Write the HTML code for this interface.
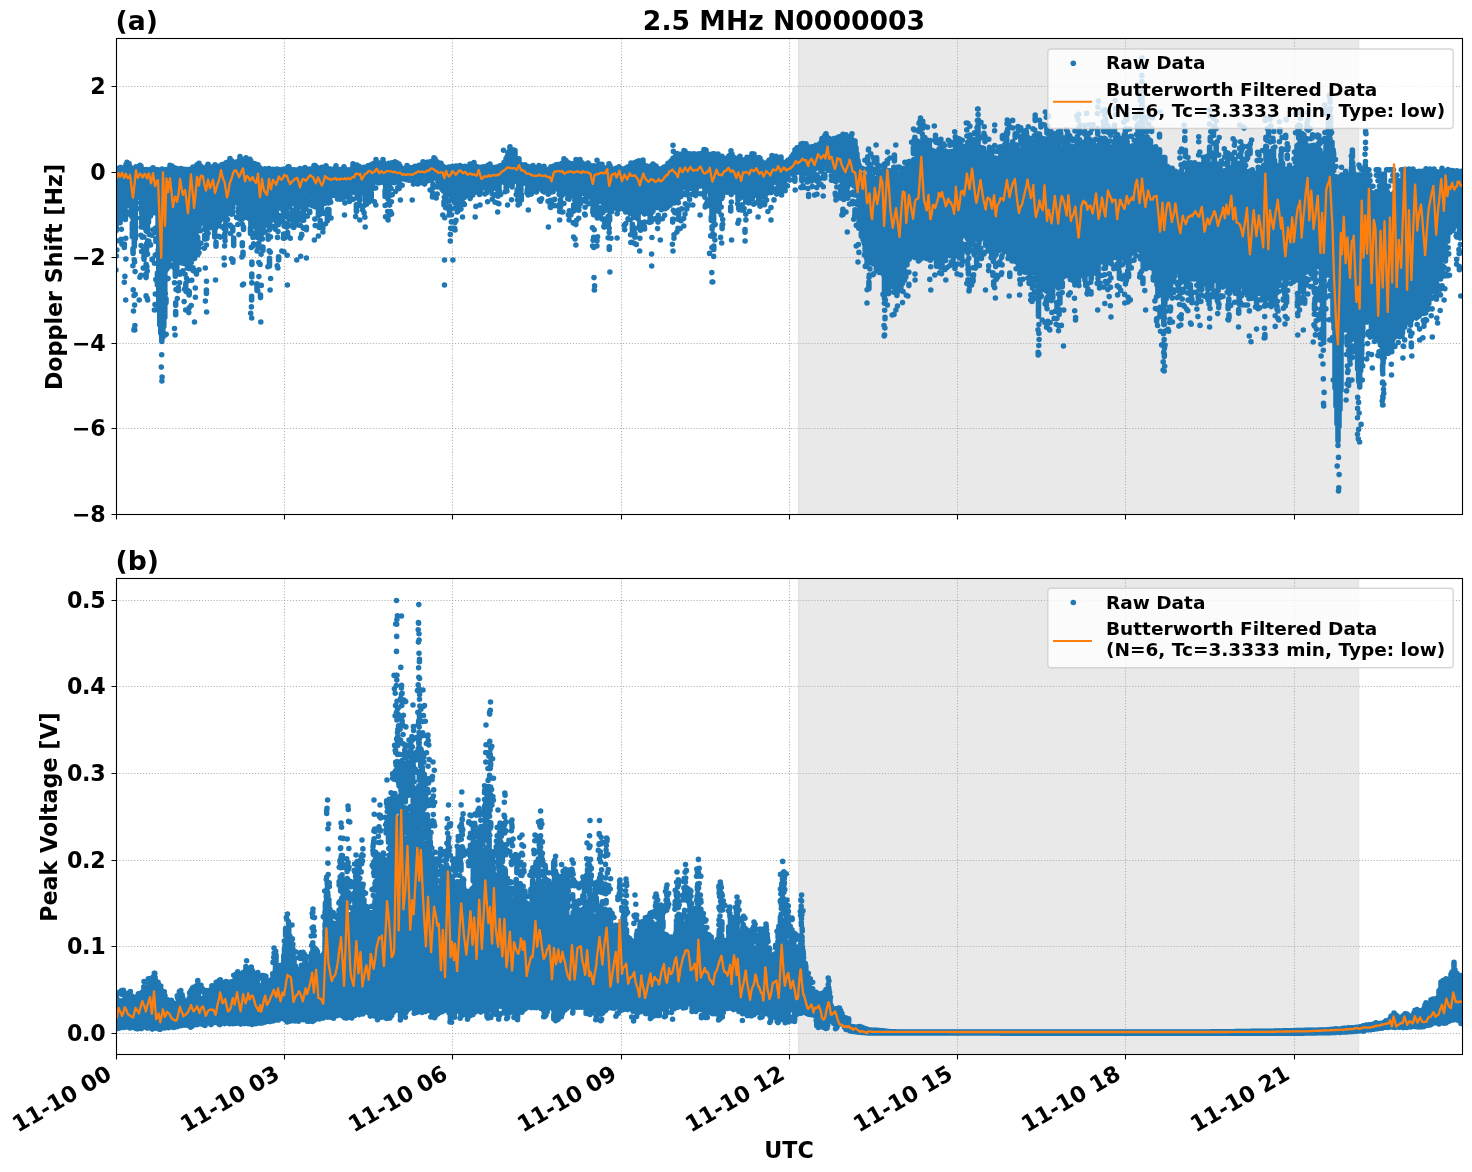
<!DOCTYPE html>
<html lang="en">
<head>
<meta charset="utf-8">
<title>2.5 MHz N0000003</title>
<style>
html,body{margin:0;padding:0;background:#fff;}
body{width:1472px;height:1172px;overflow:hidden;}
svg{display:block;}
text{font-family:"DejaVu Sans","Liberation Sans",sans-serif;font-weight:bold;fill:#000;}
.tt{font-size:26.67px;}
.tk{font-size:22.22px;}
.ty{letter-spacing:-0.3px;}
.al{font-size:22.22px;}
.lg{font-size:18.5px;}
</style>
</head>
<body>
<svg width="1472" height="1172" viewBox="0 0 1472 1172">
<rect width="1472" height="1172" fill="#fff"/>
<clipPath id="c1"><rect x="116.5" y="38.5" width="1346.0" height="476.0"/></clipPath>
<g clip-path="url(#c1)">
<rect x="798.55" y="35.5" width="560.05" height="482.0" fill="#d3d3d3" fill-opacity=".5" stroke="#d3d3d3" stroke-opacity=".5" stroke-width="1.39"/>
<path d="M116.5 514.5V38.5M284.5 514.5V38.5M452.5 514.5V38.5M621.5 514.5V38.5M789.5 514.5V38.5M957.5 514.5V38.5M1125.5 514.5V38.5M1294.5 514.5V38.5M116.5 86.5H1462.5M116.5 172.5H1462.5M116.5 257.5H1462.5M116.5 343.5H1462.5M116.5 428.5H1462.5M116.5 514.5H1462.5" fill="none" stroke="#b0b0b0" stroke-width="1.1" stroke-dasharray="1.111 1.833"/>
<path d="M117 168.7V198.9M118 170.2V198.2M119 168.9V199.8M120 167.5V202.5M121 167.6V200.5M122 168.6V200.9M123 168.2V199.1M124 169.3V202.3M125 169V201.1M126 164.6V201.5M127 164.2V198.3M128 165.4V199.1M129 163.6V194.5M130 166.6V196.8M131 168.6V194.9M132 169V193.4M133 169.6V196.3M134 168.5V190.2M135 169.7V191M136 166.7V190.5M137 170.4V191M138 169.6V191.2M139 170.4V186.7M140 165.4V187.8M141 166.4V187M142 170.5V188.6M143 169.6V188.4M144 170.4V185.9M145 171.5V185.7M146 169.6V184.9M147 170.8V187M148 170.8V188.9M149 169.7V187M150 169.5V185.4M151 169.3V186.9M152 170.5V188.8M153 167.8V189.1M154 169.7V196M155 169.3V195.2M156 170.1V196.3M157 170.1V201.9M158 169.8V202.8M159 170.6V208.6M160 169.8V210.6M161 169.7V215.8M162 169.1V218.1M163 169.8V221.3M164 170.5V226.4M165 169.7V230.7M166 169.6V235.2M167 169.8V237.7M168 169.6V240.9M169 169.6V244.6M170 165.3V246.3M171 169.5V245.7M172 166.1V246.5M173 169.1V248.5M174 167.9V249.1M175 168.9V249.6M176 168.2V248.4M177 169V248.1M178 169.5V251.3M179 169.1V251.3M180 169.5V250.7M181 168.6V251.8M182 169.3V253M183 170.3V251.6M184 169.4V252.7M185 170.6V250.8M186 169.5V252.2M187 169.9V251.5M188 169.6V249.6M189 170.1V251.4M190 170.2V245.6M191 169V248.8M192 169.3V249.1M193 167.1V247.5M194 168.8V243.7M195 168.3V245.4M196 167.9V234.8M197 164.7V228.7M198 165.1V224.7M199 163.4V215.3M200 166V217M201 166.3V213.9M202 167.7V212.6M203 168.1V214.9M204 169V217.7M205 168.1V217M206 167.7V217M207 166.4V214.9M208 164.2V214.8M209 165.9V214.4M210 166.8V219.3M211 167.2V215.2M212 167.9V217.9M213 168.5V214.8M214 169.1V217M215 164.8V212.7M216 168.8V213M217 168V213.7M218 166.4V211.8M219 167.1V211.5M220 167.3V211.3M221 166V210.2M222 164.5V212.7M223 164.9V211.5M224 164.9V207.1M225 163.9V211.2M226 162.9V208M227 163.7V207.4M228 163.1V206.6M229 161.3V207.6M230 158.5V205.4M231 162.3V201.8M232 161V200.9M233 164.3V197M234 164.6V200M235 164.2V194M236 162.9V191.8M237 161.9V195.8M238 161.5V200.8M239 161.4V205.4M240 156.5V207.5M241 159.6V208.2M242 160V208.1M243 160.1V210.9M244 160.7V209.6M245 160V207.1M246 157.9V212.3M247 161.1V210.9M248 161.2V213.8M249 163.3V210.4M250 159.3V211M251 161.2V212M252 163.1V210.7M253 165V212.8M254 165.2V215.8M255 163.8V215.6M256 167.7V211.5M257 167.4V217.6M258 164.9V216.7M259 167.5V218M260 167.8V217.3M261 170.5V217.9M262 170.3V218.1M263 169.9V218.4M264 169.8V217.2M265 168.9V219.8M266 169V218M267 169.9V217.8M268 170.8V217.2M269 168.5V215.7M270 170.2V215.6M271 170.1V213.2M272 170.4V215.1M273 169.3V214.6M274 169.5V213.3M275 169.8V209.3M276 169.2V212.2M277 169V208.2M278 169.2V206.7M279 169.7V204.5M280 170V202.3M281 169.8V200.8M282 169.8V199.3M283 169.4V199.6M284 169.3V203.1M285 170.5V201.3M286 169.7V202M287 169.7V197.6M288 166.7V196M289 166.9V197M290 170.5V195.4M291 170V201.2M292 169.7V201.7M293 170V200.3M294 169.9V201M295 170.6V201.2M296 170V200.7M297 170.2V202.3M298 169.8V199.9M299 170.6V201M300 168.5V201.6M301 169.9V199.5M302 170.1V200.8M303 169V203.1M304 170.9V203.2M305 167.5V199.2M306 169.5V204.5M307 169V203.9M308 170.1V204.7M309 169.6V199.8M310 169V197.2M311 169.4V190.7M312 169.6V193.5M313 169.9V193.4M314 165.5V195.4M315 165.5V199.1M316 168.5V201M317 167.4V199.8M318 168.4V200.3M319 169.4V203.3M320 169.3V204.1M321 169.1V204.1M322 167.4V200.1M323 170.3V193.5M324 169.6V194.9M325 170.1V192.2M326 165.8V191.1M327 169.3V192.1M328 170.7V191.6M329 169.1V190.6M330 169.1V193M331 169.6V190.9M332 169.5V190.6M333 169.6V190.2M334 169.6V191.8M335 170.6V188.3M336 165.9V191.8M337 170.3V189.6M338 169.2V192.2M339 169.6V192.2M340 170.8V190.8M341 169.5V189.4M342 171V190.5M343 169.7V190.6M344 166.7V187.9M345 169.8V189.6M346 170.5V189M347 169.9V192.1M348 170.3V192.7M349 171.5V189M350 169.7V188.9M351 170.6V187.3M352 168.5V189.2M353 163.9V189.8M354 169V191M355 168.7V186.2M356 170.1V189.3M357 165.1V187.4M358 169.9V186.3M359 166.4V186.6M360 170.8V185.7M361 169.4V187.4M362 168.9V186.5M363 167.7V188.1M364 167.3V185.3M365 167.6V183.2M366 167.8V184.3M367 167.5V186.1M368 165.9V183.2M369 166.4V181.3M370 165.9V180.2M371 164.9V177.3M372 165.6V180.6M373 163.7V179.7M374 165V178.3M375 166.1V179M376 159.5V178.3M377 164.2V178.4M378 162.8V178.4M379 163.2V178.9M380 164.1V178.7M381 163.1V177.7M382 163.7V177.4M383 159.5V181.9M384 163.5V177.2M385 163.8V178.6M386 164V180.6M387 164.4V180.3M388 164.2V177.7M389 163.3V181.8M390 164.5V181.5M391 164.4V178.4M392 162.7V177M393 164.1V179.8M394 164.2V178.6M395 161.8V178.4M396 164V177.6M397 162.9V177.9M398 164.4V179.3M399 164.1V180.6M400 166.1V176.4M401 168.3V175M402 168.3V179M403 169.2V175.4M404 169.3V177.9M405 168.9V177M406 168.7V178.7M407 165.5V178.1M408 166.7V176.3M409 168.6V176.5M410 169.6V177.2M411 167.8V177.8M412 167.9V175.7M413 168.3V174.3M414 168.4V176.7M415 166.3V176.5M416 167.4V176.3M417 168.2V175M418 167.9V177.3M419 165.3V173.8M420 167.1V175.7M421 167.4V178.2M422 166.9V174.4M423 161.7V176.6M424 165.6V176.5M425 164.9V176.3M426 165.5V173M427 162.3V176.9M428 162.8V175.4M429 162.1V175.8M430 162.4V175.4M431 161.7V174.9M432 161.3V176.5M433 161.5V176.7M434 157.8V171.8M435 158.8V173.6M436 162.1V174.6M437 161.8V171.7M438 163.2V180.3M439 163.5V180.2M440 163.3V185.4M441 163.4V185.7M442 166.3V185.7M443 166.4V185.3M444 167.2V187M445 167.8V188.4M446 167.7V189.9M447 168.1V188.9M448 167.5V189.1M449 167V189.8M450 167.7V192.6M451 167.2V191.2M452 166.6V189.8M453 166.5V189.1M454 167.8V190.5M455 167.5V189.8M456 166V190.7M457 166.8V193.5M458 166.6V192.6M459 167.3V192M460 165.6V192.4M461 167.4V194.5M462 167.3V190.3M463 168.2V190.5M464 166.6V187.4M465 166.3V185.8M466 166.6V185.7M467 166.9V185.1M468 167.3V186.4M469 167.7V182.3M470 164.1V186M471 168V186.6M472 166.6V184.1M473 168.2V184.1M474 162.5V188.4M475 167.8V184.2M476 166.5V185M477 167.3V184.4M478 167.1V184.6M479 167.4V184.6M480 167.7V182.4M481 167.2V189.2M482 167.4V184.6M483 167.7V186.3M484 166.9V185.6M485 167.4V187.8M486 167V186.8M487 168.1V187.5M488 165.3V187.6M489 168.7V186.8M490 164.1V185.3M491 168.1V186.3M492 169.2V182.3M493 168.5V185.7M494 167.5V185M495 167.6V183.9M496 167.2V181.1M497 167V184.6M498 167.7V181.2M499 167V182.7M500 165.8V178.6M501 166.1V180.7M502 165.4V179.6M503 165.1V178.9M504 162.6V178.1M505 162.3V180.8M506 158.8V177.5M507 157.1V177.4M508 152.7V179.4M509 151.9V173.5M510 146.9V177.2M511 150.1V174.4M512 149.9V174M513 151.1V174.3M514 150V172.2M515 150.6V173.8M516 158.2V175.5M517 160.6V176.8M518 161.9V179.2M519 158.8V180.3M520 164.3V178.6M521 164.5V179.8M522 164.9V179.9M523 165.8V179M524 166.4V179.8M525 164.8V178.6M526 166.4V180.4M527 166V179.3M528 167.4V179.8M529 167.8V180.2M530 167V180.1M531 167.5V181.8M532 167.3V183.8M533 165.6V185.7M534 167.1V185M535 167.5V185.1M536 167.9V185.7M537 169.2V184.8M538 170V186.6M539 165.5V186.6M540 168V184.7M541 168.9V186.6M542 168.4V184.6M543 169.3V187.2M544 166.2V187M545 169V186.1M546 169.4V187.5M547 169.8V187.7M548 169.5V186.9M549 169.8V183.3M550 168.6V186.1M551 166.9V186.1M552 168V186.8M553 166.8V184M554 166V186.4M555 166.8V185.7M556 164.8V185.7M557 165.2V183.1M558 164.6V183.7M559 165.6V186.6M560 164.4V186.1M561 164.6V184.7M562 163.4V186.3M563 164.9V185.1M564 158.8V184M565 164.2V182.2M566 160.5V186.1M567 164.4V184.4M568 164.8V184.9M569 163V181.9M570 163.9V183.8M571 163.8V185M572 163.9V184.2M573 164.3V183.5M574 163.7V182.9M575 163.2V184.9M576 159.5V184M577 164.6V184.1M578 163V184.1M579 163.7V183.6M580 159.5V184.1M581 164.3V184.9M582 162.7V187.2M583 163.9V186.5M584 164.4V188.3M585 164.9V191.4M586 166.6V191.2M587 166.6V191.8M588 163V194.7M589 164.6V192.9M590 166.1V193.6M591 165.8V192.5M592 166.1V191.8M593 167.2V190.8M594 165.7V189.2M595 166V189.9M596 167.6V188.6M597 167.3V190.4M598 168V189.8M599 164.1V190.7M600 168.3V192.1M601 164.6V192.2M602 164.4V194.8M603 167.2V195.5M604 168.3V196.4M605 168.7V196.8M606 169.1V196.6M607 167.9V196.1M608 168.5V198.3M609 163.9V197.9M610 165.6V198.6M611 168.9V199.7M612 169V197.7M613 169.6V197M614 169.6V200.1M615 168.8V202.4M616 168.3V201.6M617 168.9V205.7M618 170.1V198.2M619 166.8V199.5M620 168.2V197.2M621 168.5V199.6M622 168.9V203.8M623 169.5V203.6M624 169.4V199.8M625 169V201.1M626 168.1V200.3M627 167.8V199.6M628 166.9V201.2M629 166.6V201.1M630 166V201.8M631 163.1V202M632 163.8V202.7M633 164.2V203.7M634 163.7V201.6M635 162.6V201.4M636 162.6V202.7M637 161.5V204.4M638 161.2V204.5M639 160.9V204.2M640 161.7V206.3M641 162.2V208.2M642 164V205.7M643 160V208.5M644 165V205.3M645 165.7V208.3M646 165.9V208.3M647 166.6V207.2M648 167.7V207.4M649 167.1V207M650 166.3V209.7M651 166.2V206.3M652 167.7V205.7M653 164V207.2M654 167.7V208.1M655 167.8V206.8M656 166.1V206M657 168.8V207.6M658 168.6V204.9M659 169.7V204.7M660 170.7V204M661 170.9V207.5M662 168.6V201.9M663 168V202.9M664 167.1V204.7M665 166.9V204.5M666 166.7V206M667 165.5V203.6M668 163.4V201.8M669 163.7V204.1M670 163.3V203.2M671 161.1V201.3M672 161.1V199.2M673 158.2V196.4M674 157.9V191.5M675 157.2V190.1M676 154.9V193M677 153.6V188.5M678 155.8V184.1M679 157.3V185.3M680 154.2V185.1M681 155.5V184.1M682 155.3V183.5M683 154.8V179.9M684 150.5V183.3M685 151V183M686 154.6V185.6M687 154V183M688 155.6V182.8M689 153.9V182.1M690 154.3V182.5M691 154.1V183M692 154.2V181.8M693 154.4V181.1M694 153.8V180.5M695 154.1V182.4M696 155.3V181.7M697 154.9V181.7M698 154.1V179.8M699 154.8V180.8M700 153.8V179.1M701 154.4V184.3M702 153.4V185.7M703 153.6V185.5M704 149.6V185.8M705 155V187.6M706 150V184.7M707 154.6V185M708 154.4V188.7M709 154.5V185.4M710 154.5V186.9M711 154.7V185.9M712 154.4V183.3M713 153.7V185.9M714 153.8V188.2M715 155V188.9M716 155.1V183.2M717 154.6V184.6M718 154V186.3M719 157.2V189M720 157.8V189.7M721 157.3V190.4M722 156.2V190.7M723 160.6V187.5M724 161.3V186.3M725 160.6V188.7M726 158.3V186.6M727 158.2V186.6M728 157.9V185.6M729 156V185.2M730 155V186.7M731 156.3V184.1M732 154V183.5M733 156.8V185.6M734 157.5V187.4M735 158.9V187.3M736 158.9V188.1M737 158.5V185.9M738 159.2V188.1M739 159.9V191.6M740 156.2V190.3M741 160.7V189.8M742 160V192.7M743 160V190.5M744 160V192.7M745 160.3V192.2M746 159V192.6M747 157.4V193.6M748 158.9V195.5M749 157.7V194.1M750 158.1V191M751 156.7V190.7M752 153.8V192.1M753 157.6V192.6M754 154V194.3M755 159.7V193.7M756 159.2V194.3M757 160.3V191.8M758 161V194.6M759 157.6V195.8M760 158.4V197.9M761 163V196.9M762 161.7V196.3M763 163.2V194.7M764 163.9V196.7M765 163.7V196.7M766 163.3V194.1M767 162.5V192.2M768 161.7V190.3M769 160.4V187.9M770 160.6V188.2M771 159V182.2M772 155.6V180.1M773 157.1V182M774 157.9V178.6M775 158.1V179.1M776 156.3V178.9M777 157V177.4M778 159.8V179.7M779 160.8V179.3M780 158.5V178.4M781 157.1V179M782 163.6V179.2M783 163.3V177.3M784 165V178.5M785 163.4V177.1M786 162.4V176.3M787 161.3V174.9M788 160.4V177.5M789 160V172.2M790 159V166.4M791 157.8V168.9M792 156.2V164M793 154.9V167.9M794 153.5V168.3M795 149.7V168.9M796 150.5V166.8M797 147.9V165.3M798 147.7V169.1M799 148.3V167.6M800 148.7V167.8M801 144.1V165.4M802 147.2V166.6M803 143.5V162.8M804 147.2V166M805 146.6V162.2M806 143.8V164.3M807 147.8V164.1M808 147.1V168.5M809 147.1V168.7M810 148V167M811 148.5V169.7M812 146.7V167.9M813 147.7V164.7M814 146.6V166.9M815 146V164.8M816 145.3V167.3M817 145.2V167.6M818 145.4V165.8M819 144.6V168M820 144.3V168.2M821 142.2V164.9M822 138.6V166.7M823 140.3V165.3M824 138.2V164.6M825 135.2V167.2M826 133.8V163.8M827 137.7V164.5M828 138.4V165M829 138.3V166.1M830 140.5V166.6M831 139.7V164.2M832 140.9V167.8M833 140.5V168.3M834 138.6V168.5M835 139.1V165.6M836 139.2V164.4M837 137.8V165.4M838 137.8V169.4M839 136.9V170.6M840 137V172.4M841 137.6V171.9M842 135.9V169.8M843 136.5V173M844 137V173.4M845 136.4V173.4M846 134.7V172.1M847 136.8V174.2M848 136.9V174.6M849 136.8V170.9M850 138.1V171.4M851 136.8V168.2M852 139.9V166.4M853 140.7V167.3M854 141.7V166.8M855 141V167.6M856 147.7V177.6M857 153.9V178.9M858 160.6V189.2M859 179.8V197.7M860 182.9V211.2M861 182.2V223.9M862 182.9V232M863 183.2V237.4M864 183.4V241.8M865 182.4V245.6M866 182.5V252.1M867 183V253.2M868 183.1V253.2M869 183.3V255.1M870 182.7V255.2M871 182.4V257.7M872 182V263.2M873 180.1V259.3M874 179.3V263.6M875 179.2V262.4M876 178.6V263.9M877 178.6V265M878 178.4V268.8M879 174.2V267.4M880 177.1V268.6M881 177V266M882 175.3V257.8M883 176.1V260.6M884 175.2V255.3M885 173.5V256.7M886 172.6V258.8M887 175.8V264M888 176.4V271.4M889 175.7V276.9M890 176V275.8M891 175.5V278.8M892 174.3V279.2M893 175.4V279.1M894 175.6V282.8M895 175.9V280.8M896 175.8V285.1M897 175.7V281.7M898 176.4V282.4M899 176.2V283.8M900 175.5V286.1M901 176.3V280.1M902 173.1V276.7M903 168.6V275.9M904 171.2V262.6M905 170.6V252.6M906 169.3V251.8M907 168.6V250.6M908 169.4V250.6M909 170.1V252.3M910 166.5V252.4M911 168.7V251.8M912 168.5V252.1M913 168.5V255.4M914 169.1V255M915 167.4V254.2M916 166.2V253.5M917 167.7V253.7M918 157.9V256.5M919 145.8V251.8M920 145.8V256.5M921 145.6V252M922 145.6V250.8M923 145.9V256.1M924 145.6V252.9M925 146V255.3M926 150.8V254.2M927 156.1V253.7M928 155.6V255.4M929 155.8V253.6M930 156.1V254.7M931 156.1V253.8M932 156.2V251.4M933 156.9V254.7M934 155.6V253.3M935 155.2V253.9M936 156.8V254.7M937 156.3V252M938 155.1V254.9M939 156.6V255M940 156V257M941 155.2V255.3M942 157.1V254.6M943 156.6V253.2M944 156.5V254.1M945 157.4V252M946 156.7V254.7M947 157.4V253.8M948 157.9V253.6M949 156.5V254.2M950 157.2V254.8M951 157.7V254.6M952 158.5V252.4M953 158.1V256.2M954 157.4V254.2M955 158.6V254.7M956 153.4V254.2M957 154.2V252.4M958 151V253.9M959 150.1V247.5M960 152.6V241.4M961 151.5V237.5M962 150.9V233M963 150.4V232.8M964 150.1V232.2M965 151V231M966 151.2V231.4M967 150.5V231.7M968 150.7V229.8M969 151.1V233.1M970 150.7V232M971 149.7V230M972 151.2V234.1M973 150.9V234.8M974 149.2V229.8M975 146.3V231.2M976 141V230M977 146.2V232.6M978 149.4V229.7M979 152.6V232.7M980 155V232.7M981 156V234M982 155.2V229.6M983 156.2V231.3M984 157V233.5M985 157.3V236.6M986 157.4V236.7M987 158.5V239.1M988 157.5V238.9M989 157V237.1M990 158.1V238.5M991 158.3V238.3M992 160.6V238.7M993 159.5V238M994 159.1V240.8M995 160.6V240.3M996 161.2V237.3M997 160.9V241.4M998 161.3V239.8M999 162.1V238.6M1000 162.1V242.9M1001 161.7V242M1002 162.8V243.5M1003 163.3V243.7M1004 156V244M1005 149.3V241.6M1006 142.1V245.6M1007 144.6V244.6M1008 147.7V246.9M1009 148.4V247.9M1010 150.1V247.8M1011 154.5V248.3M1012 154.5V250.8M1013 152.6V253.9M1014 153.7V251.9M1015 149.4V252.9M1016 153.4V255.4M1017 153.9V256M1018 153.7V260.3M1019 154.1V260.6M1020 154V265.2M1021 152.4V263.2M1022 150.2V267.6M1023 145.2V264.4M1024 148.4V266.7M1025 144.4V265.8M1026 145.4V267.9M1027 142.4V269M1028 143.8V271.6M1029 141.8V272.8M1030 139.1V270.4M1031 144.3V268.7M1032 142.7V270.9M1033 145V270.8M1034 141.3V270.3M1035 144.6V272.4M1036 144.8V272.9M1037 145.7V270.2M1038 146V270.2M1039 145.9V267.5M1040 142V270.5M1041 146.3V272.7M1042 146.8V270.2M1043 144.2V272.9M1044 147.2V272.7M1045 145.7V272.6M1046 147.5V272.7M1047 147.5V271.7M1048 145.6V273.4M1049 147.5V273.5M1050 148.1V272.4M1051 148.7V271.9M1052 148.3V273.9M1053 147.9V274.3M1054 148.5V271.1M1055 147.1V273.3M1056 144.6V272.2M1057 147.7V275.6M1058 147.9V271.7M1059 148V271.3M1060 149.2V270.9M1061 149.1V273.6M1062 148.1V270.7M1063 148.2V273.3M1064 147.6V271.6M1065 148.3V274.4M1066 147.3V274.8M1067 149V274.2M1068 147.9V269.6M1069 148.5V270.3M1070 147.4V268.5M1071 149.1V276.5M1072 148.6V271.7M1073 149.5V272M1074 148.3V272.7M1075 147.3V273.6M1076 145.8V272.2M1077 147.6V272.9M1078 149.3V272.8M1079 148V270.9M1080 148V275.6M1081 148.8V275.5M1082 148.6V273M1083 145.7V272.8M1084 144.5V275.8M1085 145.5V276.7M1086 147.7V273.1M1087 147.2V274M1088 149.3V272.5M1089 146.9V273.7M1090 148.4V269.4M1091 146.6V267.7M1092 149V269.5M1093 149V266.4M1094 149V265.2M1095 149.2V262.5M1096 148.8V261.2M1097 145.8V258.5M1098 147.1V255.7M1099 149.5V254.4M1100 145.4V250.6M1101 144.4V253.9M1102 147.1V250.4M1103 146.6V251.4M1104 148.7V253.5M1105 147.6V251.7M1106 149.7V253.8M1107 147.1V254.7M1108 149.8V253.8M1109 150.1V252.1M1110 150.2V255.8M1111 150.5V253.7M1112 149.8V251.7M1113 147.1V256.3M1114 149.4V253.7M1115 150.1V254.5M1116 149.7V255M1117 149.2V253M1118 150.7V255.3M1119 148.5V252.2M1120 144.5V252.7M1121 149.1V253.7M1122 150.2V257.7M1123 149.6V255.5M1124 151.2V256.5M1125 150.6V254.2M1126 150.9V255.8M1127 151.2V251.9M1128 151.5V254.8M1129 150.6V256M1130 151.2V254.6M1131 151.1V250.7M1132 151.5V249.4M1133 151.4V251.1M1134 152V250.3M1135 151.5V246M1136 151V249.4M1137 149.1V245.5M1138 150.7V248.8M1139 151.7V248.8M1140 152.5V250.4M1141 151.3V247M1142 150.7V254.1M1143 151.7V256.2M1144 151.5V258.1M1145 151.9V262.1M1146 151.6V262.6M1147 152.1V263.5M1148 151.5V262M1149 153.1V262.1M1150 152.1V263.7M1151 152.6V263.7M1152 152.8V264.7M1153 152.4V265.4M1154 152.8V261.4M1155 152.4V264.2M1156 152.4V264.9M1157 152.6V264.8M1158 153.1V263.3M1159 162.5V266.8M1160 170.2V269.3M1161 167.3V266.6M1162 171.2V265.9M1163 172.7V268.4M1164 172.4V267.5M1165 172.6V267.8M1166 171.3V268.2M1167 174.2V267.4M1168 171.6V268.2M1169 175V267.4M1170 173.4V265.7M1171 172.1V270.4M1172 174.3V269.5M1173 176.9V269.1M1174 176.5V271.5M1175 173.3V269.4M1176 175.2V271.5M1177 177.4V271.3M1178 174.8V269.8M1179 179.1V268.6M1180 179.3V271.4M1181 178.7V271.2M1182 180.2V272.6M1183 179.9V268.9M1184 176.7V271.3M1185 180.6V272M1186 174.1V271.9M1187 173.1V271.3M1188 169.3V271.4M1189 169.4V267.6M1190 171.1V270.8M1191 169V270.8M1192 170V270M1193 169V273.1M1194 166.3V272.9M1195 168.9V272.3M1196 170.5V272.1M1197 166.6V274.8M1198 170.1V270.6M1199 170V274.5M1200 170.8V273.1M1201 170V275.1M1202 170.7V278M1203 172.1V276.8M1204 166.3V275.3M1205 170.4V277.8M1206 170.3V278.5M1207 171.5V277.3M1208 171.2V278.8M1209 170.8V276.5M1210 170.9V277.3M1211 171.5V276.3M1212 169.2V276M1213 173V276.8M1214 168.5V275.7M1215 171.8V276.9M1216 172V280.6M1217 171.1V278.5M1218 171.4V277.2M1219 172.2V280.3M1220 168.1V280M1221 171.9V276.4M1222 173.8V277.1M1223 173.1V280.9M1224 173.8V278.6M1225 173.8V278.9M1226 173.1V277.9M1227 174.8V277.2M1228 173.5V280.8M1229 169V278M1230 172.3V280.2M1231 173.8V282.3M1232 174.4V280.5M1233 174.1V279.5M1234 175.2V280.9M1235 174.1V281M1236 174.7V279.6M1237 173.1V280.8M1238 174V278.7M1239 174.9V278M1240 172.2V280M1241 180V279.9M1242 184.6V283.3M1243 184.4V285.3M1244 178.9V287.1M1245 181.9V290.9M1246 184.5V286.9M1247 183.9V287.9M1248 180.3V288.2M1249 184.3V287.7M1250 184.5V292.6M1251 183.9V288.6M1252 184.1V289.8M1253 183.9V290.2M1254 183.9V294.4M1255 183.5V290.6M1256 183.6V290.2M1257 183.2V293.5M1258 182V290.9M1259 181V288.7M1260 177.7V293.6M1261 174.5V293.3M1262 170.8V289.6M1263 171.9V290.2M1264 171.1V292.4M1265 172.1V291.3M1266 172.1V290.8M1267 171.7V291.6M1268 172V296.5M1269 173.1V295.7M1270 173V292.8M1271 173.4V294.5M1272 175.3V295.2M1273 174.1V294.8M1274 174.1V295.6M1275 172.5V298.7M1276 174.2V290.6M1277 174.7V285.9M1278 175.4V282.5M1279 174.9V277.1M1280 175.6V273M1281 175.8V273M1282 176.2V272.2M1283 173.7V275.6M1284 177.8V272.7M1285 176.9V275.8M1286 177.6V272.5M1287 176.9V272.4M1288 177V274.2M1289 173.7V273.5M1290 175.2V275.2M1291 178.9V274.9M1292 178.3V277.5M1293 176.2V269.2M1294 170.7V271.9M1295 173.2V273.3M1296 167.1V272.8M1297 168V272.8M1298 165.3V276.6M1299 161.8V268.8M1300 157.3V273M1301 154.3V271.4M1302 149.3V271.4M1303 149.9V273.1M1304 149.6V271.3M1305 150.4V272.7M1306 151.1V271.6M1307 151.1V269.7M1308 151.6V263.1M1309 148.4V263.2M1310 146.1V260.4M1311 150.2V261.2M1312 150.1V262.1M1313 151.2V265.6M1314 150.3V261.4M1315 151.2V262M1316 150.6V262.2M1317 146.1V264.7M1318 151.4V261.5M1319 151.3V263.1M1320 150.2V263.7M1321 159.7V264.2M1322 168.8V261.1M1323 178.2V263.1M1324 166.7V265.1M1325 156.2V260.2M1326 145.7V261.5M1327 146.2V259.5M1328 146.3V262.5M1329 145.5V261.8M1330 146.9V259.4M1331 146.1V261.5M1332 142.3V284.9M1333 186.9V314.7M1334 184.1V318.4M1335 187V317.8M1336 188.8V318.8M1337 189.3V321.6M1338 190V320.3M1339 189.8V323.1M1340 196.1V322.6M1341 197.3V323.4M1342 194V323.3M1343 196.1V323.5M1344 194.9V323.1M1345 194.8V323.3M1346 194.7V325.5M1347 198V325.4M1348 193.7V323.4M1349 197.6V326.6M1350 193.4V323.8M1351 196.6V322.5M1352 197V319.4M1353 194.2V318.6M1354 196V319.7M1355 197.6V317.4M1356 198.3V314.1M1357 196.2V315.4M1358 193.5V311.8M1359 193.7V310.2M1360 193.1V309.9M1361 198.3V307.4M1362 197.4V304.6M1363 198.1V301.9M1364 194.8V303.8M1365 195.6V300.7M1366 194.3V305.8M1367 198.9V306.6M1368 196.7V310.8M1369 197.8V315.4M1370 194.7V316.1M1371 197.8V318.4M1372 195.5V321.4M1373 193.1V327M1374 196.1V328.5M1375 194.2V329.2M1376 194.8V330.7M1377 196.3V333.9M1378 197.3V337.8M1379 193.7V339.8M1380 195V342.8M1381 196.7V344.2M1382 194.5V346.5M1383 194.2V349.7M1384 193.5V350.4M1385 198.7V347.3M1386 196.9V351.2M1387 193.5V346.8M1388 194.9V345.6M1389 195.7V344.8M1390 194.6V340.4M1391 196V338.8M1392 198.8V338.9M1393 196.2V338.8M1394 193V337M1395 195.7V336.9M1396 194.5V334.7M1397 193.6V332.4M1398 195.7V330.7M1399 197.7V327.6M1400 197.4V326.7M1401 196.2V323.2M1402 198.6V321.2M1403 171.6V321.5M1404 172.2V316.7M1405 169.2V320.4M1406 171.6V320.2M1407 171.8V315.8M1408 172.3V316.7M1409 169.1V315M1410 171.6V312.3M1411 172.1V313.5M1412 170.3V312.8M1413 169.1V312.7M1414 172.3V309.7M1415 172V309.6M1416 171.9V307.5M1417 173V309.1M1418 171.8V306.5M1419 171.3V306.5M1420 172.1V302.6M1421 172.1V302.3M1422 171.3V299.3M1423 172.6V298M1424 173V299.3M1425 171.6V295.9M1426 168.9V294.5M1427 172V294.3M1428 172.8V290.4M1429 171.7V293.1M1430 169V287.5M1431 171.6V285.8M1432 172.1V287.5M1433 172.1V279.3M1434 169V282.3M1435 172.7V278M1436 173.4V275.9M1437 171.7V271.3M1438 172.6V270.9M1439 172.2V266.5M1440 173.8V267.7M1441 171.5V259.8M1442 168.3V253.2M1443 172.1V247.4M1444 171.1V241.9M1445 171.9V237.6M1446 172.4V230.7M1447 171.1V228.4M1448 169.5V227.7M1449 173.1V226.9M1450 171.6V229.1M1451 171.5V228M1452 170.5V225.1M1453 171.9V223.7M1454 171V225.5M1455 172.3V224.2M1456 173V225.3M1457 170.8V223.7M1458 171.5V223.9M1459 172.4V224M1460 171.7V223.8M1461 171.3V221.3M1462 171.7V222.2M118.3 196.2V209.8M117.4 212.8V219.1M118.6 240.8h0M119.3 196.8h0M117.2 202h0M121.2 197.2V200.6M121 206.6h0M122.1 212.8V219.1M120.1 222.7h0M121.4 229.2h0M121.1 239.4h0M122 244.2h0M121.5 197.8V201.7M124 202.8h0M125.8 198.1V205M123.6 207.9V211.2M124.8 214.3h0M127.4 196.5V202.4M129.1 205.6h0M129.5 212.1h0M128 214.1h0M131.3 194.7V201.4M130.4 203.9h0M131.4 208.8h0M132.4 191.8V194.7M133.7 201h0M131.8 208V216.6M132.3 223.4V229.8M132.3 233.1V236.7M134.2 243.4h0M133.1 250.6V253.5M134.2 259.7h0M132.9 265.7h0M134 295.5h0M133.9 188.9h0M134.4 195.2V201.6M136.2 207.6h0M135 213.6h0M138 187.7V193.5M136.4 198.3h0M139.3 186.5h0M138.3 193.6h0M139.1 196h0M142.8 185.1V194M141.8 200.5V213.6M141.8 217V223.8M141.3 227h0M142.3 237.3h0M141.1 245.6h0M141.6 251.6h0M141 275.2h0M143.6 184.2V196.1M145.2 199.6V210.8M144.1 220.5h0M143.7 225.9h0M143.9 237h0M143.6 249.9h0M144 256V259.2M143.2 268.1h0M147.1 184.2V189.8M146.6 196.6V208.8M146.5 214.1h0M145.1 221.8V228.3M146.2 231.1h0M146.6 243.9V249.1M146.9 252.9h0M146.5 265.6h0M146.9 266.8h0M148.7 184.2V192.5M146.9 198.5V201.1M149.4 206.5h0M148 212.9V219.3M149.4 234.5h0M148.9 241.4h0M147.3 271h0M151.5 185.3V200.2M151 206.9V210.5M150.5 216h0M150.6 244.9h0M152.4 189.7V198.8M151.2 204.1V207.8M151.5 213.5h0M153 229.8h0M151.9 235.2h0M152.4 259.1h0M152.1 259.7h0M156.1 194.1V205.5M155.7 209.3V212.9M155.8 228.9V232.4M155.9 238.8h0M157.8 240.7h0M156.6 199.5V213M158.1 216.3V225.8M155.9 238.8V241.4M158.2 249.9V257.1M157.4 273.1V275.6M157.1 282.1h0M157.4 284.9h0M161.2 206.1V214.9M161.5 221.1V230M160.6 233.8h0M161 240.9V244.1M161.1 259.8h0M159.4 279.7h0M161.7 214.7V227.2M163.1 230.4V243.8M161.8 250V256.7M163.1 267.8h0M162 273.8h0M162.4 286.8h0M163.2 303.3h0M162 303.8h0M162.8 221.7V234.9M164.3 241.2V248.2M163.9 250.6h0M162.5 257.7h0M163.5 279.2h0M162.6 285.3h0M163.9 229.5V241.8M164 244.9h0M165.1 262.2h0M165.2 268.8h0M164.9 276h0M163.8 288.3h0M168.1 236.4V250.4M168.3 257.6h0M167.4 264.3h0M168.1 278.6h0M170.1 243.2h0M169.8 250.7V253.7M168.5 259.7V265.5M168.7 266.9h0M170.8 244.3h0M170.8 251.9V259.1M171 265.1h0M175.4 245.9V248.6M175.4 255V262.2M174.2 267.7h0M176.7 247V253.8M174.8 263.2h0M176.3 263.6h0M178.1 248.6V259.8M176.8 263.3V269.3M177.3 272.6h0M178.3 287.6h0M177.3 298.5h0M177.9 249V258M178.7 272.5h0M179.6 282.8h0M178.6 290.5h0M178.1 290.7h0M181.2 249.3h0M181.9 255.2V262.9M180 274.3h0M182.4 249.7V256.5M184.3 263.6h0M182.9 270.9h0M186.7 250.2V253.2M186.2 262.1h0M186.6 278.2h0M185.7 285.1V287.8M186.1 291.6h0M187.1 249.3V261M187.4 268.1h0M188.8 280.5h0M187.8 290.6h0M189.1 295h0M189.3 247.7V259.3M188.9 262.1V268.6M189.2 291.5V294.6M189.2 307.8h0M188.8 312.6h0M190.8 245.8V258.8M191.3 262.4h0M193 267.9V270.6M191.8 280.2h0M191.2 305.5h0M194.1 244h0M193.6 250.2V256.4M192.8 258.9h0M193.6 269.5h0M195.4 240h0M194.4 245.3h0M194.6 255.2V258.4M196.5 274.1h0M197.8 220.9V230.9M197.7 237.4V243.9M198.9 247.7h0M197.9 254.7h0M199 213.1V227M200.4 230.7h0M200.9 243.2h0M199 252.8h0M198.9 269.8h0M201.3 213.5V219.5M200.1 223.5h0M205.3 213.4V221.8M204.6 229.3h0M204.7 235.3V239.1M204.3 248.3h0M205.8 213V218.1M205.6 226.9V229.4M206 236.4h0M209.1 212.6V219.2M209 221.7V224.5M208.1 233.2h0M210.1 212.7V216.5M210.9 223.2V227M210.8 227.4h0M214.6 212.9V219.2M214.7 224.9h0M215 211.9h0M215.5 228.3h0M219.6 210.4V216.8M218.8 222.9h0M217.5 226.3h0M219 209V218.5M219.6 221.3h0M219 236.4h0M220.3 237.1h0M222.6 207.9h0M221.6 214V219.1M223.7 226.3h0M222.2 226.9h0M224.6 206.3V216.3M224.4 229h0M225.1 240.8h0M224.6 245.9h0M226.4 205.3V214.8M226.9 219.8h0M227.1 225.8h0M225.9 226.9h0M227.9 204.1V209.9M229.9 213.1h0M227.6 219.6h0M229.2 200.4V212.1M230.2 225.1h0M230.6 233.5h0M232 195.8V208.4M232.6 211.5V214M232.8 227.4V231M233.7 238.1V245.6M231.5 258.7h0M232.9 262.3h0M235.5 192.1V195.6M234.1 197.3h0M237.7 196.2V202.7M238.3 209V211.8M236.6 217.5h0M237.8 224.5h0M238.9 234.6h0M240.2 203.3V210.5M238.9 214h0M239.7 219.1h0M243.7 206.3V213.3M241.3 219.7h0M243.5 227V229.5M242.3 242.9V245.7M241.9 256.9h0M245.2 207.3h0M243.6 216.6h0M248.7 208.3V214.2M248 217.7h0M249.2 209.3V213M249 218.6h0M251.3 210.5V216.3M251.3 221.8h0M253 237.5h0M253.7 243.9h0M253.5 244.5h0M253.5 211.6V218.7M254.9 224.3V226.9M254.2 233V236.2M253.3 245.9h0M256 212.5V218.7M255.4 221h0M258 213.7V216.6M257.5 226.2V237.5M258.8 243.1V248.1M257 250.9h0M258.8 262.6h0M258.9 276.6h0M257 283.7V290.4M257.8 290.7h0M258.6 215.1V221.7M259.8 228.6h0M262.3 215.6V219M263 224.1V230.3M262.3 233.6h0M262.9 247V250.4M261.1 254.3h0M262.1 216.2V220.1M262.5 226h0M263.1 231.8h0M262.3 238.9h0M264 215.9V221.7M264.4 225.4h0M264.2 231.2h0M265 231.7h0M267 214.7V218.4M269.3 227.4h0M269 213.8V226.2M269.6 228.8h0M268.2 235.9V239.2M269.2 250.9h0M267.9 266.8h0M270.4 212.9h0M271.1 220.1h0M274.4 212.1V215.8M274 218.5h0M274.1 211V216.6M274.6 220h0M274.3 226.3h0M275.1 229.1h0M276.2 206.1V212.4M276.8 222.6h0M278.3 224.8h0M279.7 201.4V204M280.7 216.6h0M282.9 198.5V210.3M282.1 215.6V221.3M283.7 234V237.8M281.8 251h0M283.9 251.8h0M285.5 197.7V210.2M283.9 212.9h0M284.1 222.6V226.1M284.6 238.1h0M283.4 238.3h0M286.7 196.9V209.8M287.2 213.4h0M287.1 223.4V226M287.6 232.5h0M286.9 236.5h0M288.2 196.4V202.9M286.6 209.3V215.2M287.3 224.6h0M287.4 233.7h0M288.1 236.3h0M289.2 196.8h0M288.7 202h0M289.4 197.4V201M289.6 207h0M289.6 214.4V219.7M291.1 225.4h0M290.3 238.3h0M293.9 197.9V203.7M292.5 210.3h0M292.7 215.7h0M293.9 221.9h0M293 227h0M293.9 198.4V201.5M293.7 213.8V221.2M294.3 224.9h0M293.7 227.4h0M297 198.9V204.8M296.5 210.6h0M297.9 225h0M297.7 199.3V205.6M297.9 209h0M298 212.9h0M301.9 199.6V206.6M301.7 213.5V220.3M300.5 225.5h0M300.5 237.9h0M300.7 256.2h0M303.5 200.2V213.8M303.7 220.2h0M303.3 228.1h0M301.7 234.3h0M301.8 235.3h0M305.6 200.6V204.5M305.6 215.7h0M309.4 201.2V204M309.7 211.3h0M309.8 212.4h0M310.4 192.1V197M308.6 200h0M310.2 204.1h0M313.7 193h0M311.9 205.6h0M317.4 195.6h0M316.5 205.1h0M318.9 198.3V209.2M318.4 213V215.5M318.4 236h0M318.4 200.5V210.5M319.8 214.4h0M320.2 220.6V223.5M319.2 227.4h0M322 197.8V204.9M322.8 211.7h0M322 224.5V227.1M322.9 228h0M324 192.4h0M325 203.2h0M324 213.5h0M328 190V193M326.7 199.4h0M327.7 209.3h0M327.4 217.7V220.7M325.6 223.7h0M329.7 189.2V199.3M328.6 202.9h0M328.9 209.5V214.8M327.7 217.9h0M329.1 188.5V196.7M330.7 202.3h0M328.4 212.4h0M332 187.7V190.9M333.7 195.3h0M334.6 187.7V194.7M335.1 195.3h0M336.3 187.7V194.1M337.9 197.8h0M337.5 198.9h0M340.7 187.8V194.1M340.2 199.2h0M342.8 187.8h0M341.1 198.9h0M344.7 187.8V194.5M344 197.3h0M346.9 187.8V195M346.7 196.9h0M348.7 187.6V191.3M350 197.4h0M349.5 201.4h0M352.4 186.9V192.5M351.8 199.5h0M354.7 186.1V191.7M353.2 199.2h0M357.2 185.6V198M356.4 204.6V211.4M355.6 216.6h0M358 185.1V194.6M356.8 210.5h0M359.1 184.7V191.1M359.8 196.9V200.5M360.2 205.6h0M361.1 184.3h0M360.7 190.5h0M363.4 184V193.1M362.7 210.1h0M364.1 212.9h0M366.9 183.6V186.8M366.4 193.2h0M366 200.6h0M366.5 204.2h0M368.3 182.9V188.5M368.9 195.5h0M369 202.1h0M372 177.2V186.3M371.2 192.1V199.2M371.5 200h0M371.9 177V183M372.7 188.4h0M371.2 197.8h0M372.9 176.9h0M374.6 182.3h0M377.7 176.7h0M377.7 182.6h0M379.2 176.6h0M379.3 182.7h0M382.3 176.6V179.8M383.4 182.5h0M384.5 176.6h0M385.3 181.9h0M385.7 176.6V188.1M385.1 190.5V196.5M385.1 205.5h0M385.5 216.8h0M388.8 176.6V179.7M388.1 193.1V199.1M387.7 211.6h0M389.3 215.2h0M389.5 176.6V189.4M389.9 195.5h0M389.6 202.6V205.1M390.5 211.5h0M391.6 213.9h0M393.1 176.6V182.4M391.1 188.6h0M392.2 194.7h0M391.4 201.7h0M394.4 176.6V182.8M395.5 191.5h0M398.7 176.7V179.7M397.7 187.8h0M399.1 177.1h0M399.4 183.5h0M399.1 188.6h0M401.7 175.5h0M402.2 185.3h0M403.7 174.6h0M405.8 179.6h0M407.2 174.5h0M408.9 180.2h0M410.7 174.4V177.8M409.4 179.9h0M411.2 174.4V177.3M411.5 179.9h0M415.3 174.3h0M413.5 180.6h0M413.4 184.1h0M417.2 174.2h0M417.8 184h0M416.7 174.2V177.7M418.1 183h0M421.1 174.1V179.6M421 182.6h0M420.6 173.8V177M421.1 181.5h0M423.2 173.6h0M422.7 182.6h0M424.6 184.1h0M427 173.3V178.8M425.8 181.8h0M425.1 182.5h0M427.7 173V175.5M428.8 180.5h0M430.3 172.6h0M429 179.6h0M432.1 172.4V175.7M431.4 179.2h0M433.6 172.3h0M432.5 179.1h0M433 184.3V188M432.8 193.4V196.5M432.4 197h0M437.9 172.6V181.1M437.8 187h0M437.2 194.1h0M436.2 198h0M439 176.9h0M438.3 185.3h0M440.3 182.5h0M442.1 189.6h0M443.7 184.5V191.3M444.3 197.3h0M447.2 186.2V188.8M445.6 193.8h0M448.4 187.3h0M448.3 193.9h0M448.1 194.4h0M448.8 188.1V194.1M449.9 200.5h0M449.4 205.8V211.3M449.1 215h0M451.4 221.9h0M450.6 228.2h0M450.3 234.4h0M450.3 241.1h0M450.9 188.6V191.5M453 194.8h0M455.6 188.8V195.7M455.2 199.4h0M455.8 207.6h0M455.3 189.1V199.6M455.4 202.9h0M457.2 210.3h0M456 220.4h0M456.6 189.4V198.9M458.2 201.4h0M457.9 211.1h0M457.2 212h0M460.5 189.6V196.6M460.1 204.6V207.9M461 209.1h0M464.5 188.2V194.5M463.5 203.3h0M464.4 204.5h0M464.3 183.3V186.2M464.3 197.4h0M469.8 183.3V189.5M468.8 193.4h0M467.9 195.2h0M471.2 183.3h0M470.9 190.9h0M470.1 198.6h0M473.1 183.3V185.7M472.8 192.1h0M472.8 195.1h0M474.2 183.3V185.8M474.1 192.8h0M476.1 183.3V186.3M476.1 191.6h0M480.6 183.3h0M479.6 190.5h0M482.3 183.4V186.1M480.6 190.4h0M484.2 183.4V187.2M484.9 194h0M485.5 183.5V187.4M486.5 192.8h0M489.5 183.6h0M488.5 189.4h0M487.6 201.8h0M490.4 182.9h0M490.9 190.1h0M491.2 190.2h0M492 182.2h0M493.6 188.1h0M492.1 193.8h0M492.3 199.2h0M495.5 181V188.2M494.8 195h0M495.1 202.3h0M499.9 180V183.1M499.2 190.2V193.3M498.3 203.4h0M498.4 179.2V184.7M498.1 187.3V193.8M498 196.2h0M501.5 178.5h0M500.7 194.5h0M505.2 176.6h0M504.9 182.7h0M505.1 191.7h0M505.6 175.2V181.5M506.6 184.7V187.1M507 190.9h0M508.2 174.1V179.3M506.7 182.1h0M506.3 189.2h0M511 173.1V179.7M509.9 181h0M512.7 172.7h0M512.1 179.2V186.9M511.5 199.8h0M514.3 172.7h0M515.5 179.2h0M515.7 173.8V181.2M516.2 194.5h0M518.2 175.8V182.3M518.3 187.8h0M516.6 195h0M519.9 176.8h0M520.9 183.4V190.6M521.3 194.2V200M519.5 203.8h0M523.2 177.1h0M521.1 184.9h0M523.3 177.2V180.4M524.7 182.3h0M526.5 177.4V183.9M528 189.8h0M526.9 192.8h0M528.6 177.6V180.9M527.8 187.2V190.8M528.4 192.6h0M532.9 183.3V189.1M533.5 191.5h0M531.3 194.1h0M535.4 183.6h0M533.4 189.5h0M536.1 183.6V186.4M536.4 192h0M539.5 183.7h0M540.5 201.2h0M541.8 183.8V186.4M541.6 198.7h0M540.9 199.4h0M544.7 183.8h0M543.8 190.1h0M542.7 190.9h0M544.4 183.9V187.4M544.2 192h0M548.2 184h0M546.5 189.4h0M548.2 191.2h0M549.5 183.7V190.2M550.3 200.5V207.1M550.6 207.5h0M553 183.4V186.8M551.4 192h0M551.6 200.2h0M551.8 202h0M554.3 183.1V189.1M553.1 191.7h0M554.7 199.4h0M555.5 182.8V186.4M555 205.8h0M556.9 182.7h0M557.6 188.4h0M559 188.4h0M559 182.6V190.7M560.5 199.8V207M559.6 211.4h0M562 182.5V192.6M562.1 195.6h0M561.8 212h0M563 182.4V193.6M563.9 203.5h0M562.9 212h0M567.1 182.3h0M567.6 188.9V194.8M567.7 198.7h0M568.4 182.3V189.4M568.3 197.8h0M569.3 210.9h0M568.4 214.9h0M570.7 182.3V189.5M571 193.5h0M573.5 182.3h0M572.5 194.6h0M573.2 195.9h0M574.5 182.3V185.3M575.4 192.2V198.6M573.7 204.9V211.1M573.2 222.9h0M573.6 237h0M577.9 182.3V189.9M576.2 200.9V207M577.3 209.7h0M576.6 220.3h0M579.7 182.3V188.3M580.5 203.4h0M578.8 210.2h0M578.7 218.2h0M579.6 183.5V192.1M579.4 194.9V201.2M579 207h0M583.7 186.3V193.6M583.2 199.9h0M583 200.8h0M585.8 189.2V195.2M585.7 199.8h0M589.5 189.5V195.1M589.2 203.1h0M588.9 189.7V196.9M588.9 203.7h0M593.1 189.8V195.5M592.6 199h0M593.1 207.7h0M595.2 189.8V196.3M594.9 213.5h0M597.4 189.9V195.9M596.6 201.5V208.7M597.4 214.2V218M597.6 236.8h0M597 240.7h0M599.8 189.9V192.5M599.8 197.8V201.3M600.4 207.8h0M600.9 211h0M603.1 190.9V200M603 202.7h0M601.7 210.2h0M602 218.9h0M602.2 219.1h0M603.4 192.1V195.5M604.9 201.6V204.9M602.8 212.5h0M604.5 219.1V222.2M604.1 227.1h0M604.6 193.3V203.8M605.4 207.4V210.3M603.8 219.6h0M603.8 226.6h0M606.7 194.4V197.2M606.1 203.7h0M608.5 216.6h0M609.9 196.1V202.6M609.7 209.2h0M608.2 216.4h0M611.4 196.8V202.4M611.6 211.8h0M610 212.1h0M612.9 197.2V200.9M610.6 206.9h0M611.9 209.8h0M613.8 197.5V199.9M613.8 208.2h0M614.4 197.8V204M615.1 206.6h0M614.8 207.6h0M616.1 198.1V200.7M616.3 207.4h0M618.1 209.9h0M620.8 198.4h0M621.4 207.2h0M619.1 208.1h0M621.7 198.8h0M623.7 204.7V207.5M623.7 208.2h0M624.9 199.1h0M623.3 205.6V209.1M624.2 225.4h0M624.7 229.7h0M624.3 199.3V209M625.7 211.9h0M625.8 223.5h0M624.4 225.5h0M628.1 199.4V202.5M626.7 209.6h0M628.1 218.8h0M628 219.2h0M628.7 199.4V206M630.2 219.7h0M631 199.4V205M630 211.1V213.6M630.6 234.8h0M630.8 242.5h0M633.1 199.5V207.5M633.8 213.6V217.4M632.4 224.2V230.8M631.7 242.3h0M635 199.5V202.6M633.9 208.8V214M635.8 228.2h0M634.9 233.6V237.2M634.3 243.3h0M636.3 244.4h0M636.3 202.1h0M637.5 207.3h0M639.2 204.4h0M639.6 209.6h0M641.1 205V211.8M642.2 223.8V226.3M640.5 230.2h0M644.5 205.1V214M644.3 226.6h0M644.6 228.9h0M645.2 205.2V208.2M644.5 222h0M648.1 205.2V211.7M649.1 214.3h0M648.6 222.1h0M649.6 204.9h0M649.9 211.7h0M651.6 204.6V209.9M650.4 216.5V220.2M651.2 221.7h0M653.7 204.2h0M653 211.1h0M654.9 218.9h0M656.2 204V206.7M658 219.6V222.1M657.6 228.6h0M658.2 203.7V207M658.2 215.4h0M658.3 220.9h0M661.3 203.5V209.8M662.5 218.7h0M662.4 202.3V205.8M664.6 215.2h0M664.7 201.4V203.9M665.3 208.8h0M666.9 200.3V203.6M667.2 207.5h0M670.1 198.7V205.2M669 205.4h0M670.7 195.6h0M670.9 202h0M674.1 192.4V202.9M673.4 210.4h0M672.7 219.3V222.1M674 234.8h0M672.4 244.2h0M675.5 188.9V191.3M674.6 197.2h0M678 185.8V198.9M678.3 202.7h0M678.6 210.1V215.9M678 228.4h0M676.9 232.1h0M678.1 182.1V194.3M678.7 212.3h0M678 219.2h0M680.2 228.5h0M679.8 228.8h0M681.6 181.3h0M680.4 187.8V193.8M680.9 196.5h0M681.7 208.9h0M681 220.7h0M685.2 181V187.5M684.5 194.2h0M685.3 203.7h0M685 214.1h0M685.6 180.8V184.7M686.9 194.5h0M686.8 209.1h0M688.3 180.6V189M687 191.6V195M689.2 205.1h0M687.1 206.7h0M691.6 180.4h0M689.6 199.4h0M692.3 180.2h0M693.8 185.9V188.7M692 194.2h0M694.2 180.1V185.9M695.6 195.6h0M694.9 179.9V186.2M696.1 189.9V192.3M696.7 194h0M701.3 179.7h0M699.8 185.8h0M699.9 186.1h0M702 182.2V184.7M702.4 193.9h0M704.9 184.7V193.7M704.9 197.2h0M705.4 205.5h0M705.2 207h0M707 184.7V190.5M707.4 200.9h0M706.4 203.7h0M710.8 184.7V196.1M710 199.4V205.9M711.3 217V220.4M710.7 235.9h0M709.5 253.4h0M712.7 184.7V197.5M712 200.7V203.8M713.6 214.3V221.4M712 226.8h0M713.8 246.1V249.4M713.7 256.4h0M715 184.7V194M715.2 201.3V208.4M715.2 224.6h0M714.3 235.1h0M718.1 184.7V194.8M716.5 198h0M717.4 208.2h0M717.1 210.3h0M718.3 185.4V195.8M717.6 199.3V201.8M719.8 207h0M718.8 211.5h0M721.2 185.8V194.5M719.3 200.8V207.4M720.6 237.4h0M721.8 186V198.5M721.2 207h0M722.7 219.6h0M722.7 224.2h0M724.6 185V187.4M726.4 190h0M727.9 184.2h0M728.4 190.3h0M727.1 192.3h0M731 183.2h0M730.6 190.7h0M732.9 184.3h0M733.5 191.3h0M734.1 185.7V188.7M735.3 192.1h0M738 187V200.1M737.5 203.7h0M739.2 209.8h0M737.9 223.2h0M740.3 188V198.1M738.7 205.1V208.5M738.8 220.3h0M742.2 188.8V195.4M742.2 204.8h0M741.1 209.9h0M743.2 210.2h0M743.9 189.5V192.5M743 196.8h0M746.3 189.9V192.6M746.5 196.3h0M748.5 190V193.2M748.9 199.8V202.9M749.5 211.3h0M750.9 190.2V193.8M750.1 196.1h0M752.5 191h0M752.2 196.5V199M753.7 204.2h0M755.7 191.8V195.1M756.1 202.8h0M757.4 192.8V195.4M757.6 202.9h0M760.4 193.8h0M760 200.1V206.1M760.2 206.2h0M764.4 194.5V197.3M764.6 204.7h0M765.3 191.1h0M766.6 200.1h0M764.9 202.2h0M767.5 185.5h0M767.9 211.5h0M771.5 181.3V184.9M769.4 192.4h0M771 207.6h0M773 178.4V182.3M773.5 188.9h0M774 199.9h0M777.8 176.6V179.2M778.5 185.6h0M777.2 192.5h0M776.7 194.1h0M778.7 176.3h0M776.9 182.9h0M777.5 188.2h0M778.7 176V182.9M780.9 186.4h0M780.7 175.7h0M780.7 186.8h0M784.9 175.3V178M785 184h0M783.4 186.1h0M784.6 174.1V181.3M784.6 184.6V188M785.1 190.7h0M788.8 171V173.8M789.8 180.1h0M787.4 185.9h0M789.5 166.2h0M790.3 171.4h0M792.7 165.3V169M793.8 175.3h0M796 164.5V167.4M795.7 173h0M797.8 164.1V170M797.9 171.7h0M801.1 163.7V173.3M801.9 176.9V180.8M800.9 187.6h0M802.6 163.5V173.3M802.5 176.8h0M803 185.9h0M803 163.3V166.8M801.6 179.2h0M803.6 187.5h0M805.1 163.5V166.3M805.7 173.5h0M809.6 164.6V173.9M807.4 178.8V182M808 188.5h0M808.6 194.6h0M808.6 165.5V172.7M810.8 180.7h0M810.5 165.7h0M811.8 171.4h0M811.6 177.4V180.9M812.2 186.6h0M812.5 165.5h0M813.7 172.7h0M814.9 165.2V168.9M817 175.1V181.1M816.8 187.6h0M817 194.3h0M814.6 195.1h0M819.1 164.8h0M817.7 177.1h0M819.2 179h0M821 164.5V171.3M820.9 184.3h0M819.1 184.3h0M824.6 163.6V167.3M823.3 176.6h0M823.1 177.9h0M824.3 162.7h0M823.9 174h0M826.2 162.8h0M828 169.9h0M828 163.1V166.3M828.4 170.3h0M830.2 163.3V170.4M831.4 180.2h0M832.8 163.5V166.2M831.3 175.8h0M832.7 178.4h0M832.6 163.5V166.1M833.7 175.3h0M833.8 163.2V166.2M833.7 175.2h0M835.6 181.4h0M836.1 181.5h0M835.1 164.9V170.3M836.8 187h0M835.2 193.4h0M835.6 195.5h0M839 169.9V176.9M841.2 180.6h0M842.4 170.8V183.8M840.7 186.5V191.7M840.2 195.1V197.9M841.9 215.1h0M844.3 171.4V184.1M843.6 187.8h0M843.8 193.8V199.5M842.9 209.2V212.3M843 214.6h0M844.5 171.9V177.9M844.3 183.4V186.3M844.2 198.4h0M848.9 172.7V179.4M848.8 185h0M847.7 192.2V198.3M849.6 204.1h0M851.2 168.1V178.1M849.8 181.7h0M851 194.5h0M851.4 164.3V174.2M853 192.2h0M853.2 192.6h0M852.8 165.3h0M853.2 171.2V183M854 185.9h0M854.7 194.9h0M852.7 201.3V203.8M854.7 215.7h0M853.7 219.2h0M858 175.5V180.7M857.3 186h0M858.5 190.2h0M858.6 193.6h0M859.3 199.4h0M860 201.4h0M859.2 213.7V219.3M860.3 221.2h0M861.3 233.2V236.2M863 239.5h0M864.2 240.5V242.9M865 249h0M864.4 255h0M865.7 265.9h0M865.3 247V252.6M867.1 261h0M865.3 266.4h0M868.1 250.7V257.7M866.9 263.8V266.3M868.9 282V288.8M867.1 289.8h0M870.7 255.9V259.6M869.9 268.9h0M869.3 275.1h0M869 277.6h0M873.5 259.4h0M873 274.7h0M873.7 260.7V263.9M873.7 273.8h0M875.8 262.3V265.3M876.2 269.3h0M878.3 263.9V271M878.6 271.1h0M880.3 265h0M879.4 272.4h0M881 255.9h0M883.4 262.9h0M885.6 255.6V261.3M885.2 265.1h0M884.3 271.9h0M887.7 266.5h0M887.7 273.4h0M886.2 275.2h0M888.4 273.1V275.6M888.1 281.4h0M888.7 286.7V293.6M887.4 305.1h0M891.1 276h0M891 281.9V285.7M890.7 286.4h0M893 278h0M893.9 284.3h0M895.1 279.8V289.7M896.9 292.6V295.5M895.9 310h0M898.4 281.8V291M897 294.1h0M897.5 306h0M900.9 280.7V290.3M902.5 302.6h0M903.9 268.1V277.6M902.5 283.6h0M903.1 291.5h0M906.6 248.9V252.8M906.6 257.9V264.8M905.8 271.8V277.2M904.5 280.2h0M906.8 249.3V252.1M909 258.8h0M909.2 249.8V259.2M908.9 272.3h0M908.9 284.2h0M908.9 285.6h0M911.8 250.5h0M910.9 255.7h0M913.7 251.3h0M913.1 256.4h0M917.3 252.1V255.2M918.5 261h0M918.4 250.7V258M920.2 259.6h0M920.2 250.8h0M920.9 257.1h0M919.4 260h0M921.6 250.8V254.2M923.5 257.6h0M925 250.9V253.4M924.9 257.8h0M926.6 251.8V255.6M927.1 258.7h0M929.5 251.8V255.7M930.5 258.2h0M932.8 251.8h0M930.9 258h0M932.8 251.9V254.5M934.6 257.9h0M934.9 251.9h0M936.5 260.8V266.3M934.8 275h0M938.7 251.9V254.8M938.4 260.8h0M940.2 267.2h0M939.7 272.9h0M939.5 251.9V259.2M942 261.9V264.8M941.5 273.8h0M943.3 251.9h0M943.7 259.2h0M945 269.4h0M946.2 251.9V255.4M944.2 269.3h0M947.2 251.9V255.2M947 267.5h0M949.5 252V255.6M951.5 262h0M949.9 265.6h0M952.8 252V255.2M952.3 263.6h0M953.5 252V257.2M953.1 260.2h0M955.4 266.2h0M954.9 268.4h0M956.9 251.8V255M957.3 264h0M958.6 246.7V256.6M957.1 273.9h0M960.8 235V238.1M962.6 244.5V251.8M961.7 263.3h0M961.7 265.1h0M962.3 229.7V235.9M962.3 244.2V251.1M961.7 254.3V258.1M963.6 261.2h0M967.4 229.7V238.4M965 244.6h0M967.5 251.6h0M967.5 260.8h0M968.9 229.7V239.5M968.8 258.3h0M968.4 267.9V274M966.8 283.6h0M969.2 289.5h0M968.9 229.7V244.2M969.7 247.3V251M968 269.3h0M968.1 281.2h0M969.8 286.1h0M972.1 229.7V242.1M973.6 250.9h0M973 267.7h0M972.9 275.9V281.4M971.6 284.9h0M973 229.5V243M974.9 245.6h0M974.2 251.6V254.7M973.6 274.9h0M973.2 280.6h0M975.3 229.2V239.1M975.6 245.5V251.6M976.7 258.9V265.5M975.5 268.1h0M979.1 229.6V232.5M979.9 238.9h0M978.7 245.5V251.7M979.7 254.4h0M979.4 265.5h0M979.4 230V239.3M979 242.8h0M980.8 248.3h0M981.4 258.4h0M980.2 230.2V239.6M982.1 253h0M981.3 256.1h0M982.9 232.1V237.7M983.9 254.1h0M985.5 235.7h0M985.6 242.7V245.3M984.9 252.2h0M987.7 236.2V247.1M988.3 250.8h0M988.7 265.9h0M988.6 270.6h0M991.9 236.8h0M990.9 241.8V248.1M991.7 251.8V255.4M991.1 257.7h0M993.7 237.4V243.8M994.5 250h0M993.3 255.3V261.5M992.9 272.7V275.5M993.7 281.8V285.6M994.7 287.7h0M995.7 237.9V249.7M994 252.5V258M996.1 279.6h0M995.7 238.3V248.9M996.1 252.1V254.6M996.5 263.8h0M997.6 277.2h0M999.6 239V250.3M1002 255.5h0M999.8 261.7V264.5M1001.2 274.5h0M1002.8 240.6V249.8M1001.6 257.5h0M1002.1 264.9h0M1001.7 272.8h0M1003.9 241.8V247.7M1004 251.1h0M1004.8 242.2V248.8M1005.5 251.4h0M1007.8 244.9h0M1008 258.5h0M1010.1 246.9V253M1010.6 259.3h0M1012.5 248.5V251.1M1012.3 257.5V260.4M1012.1 261h0M1015.2 251V256.9M1016.1 268.8h0M1016.4 253.8h0M1015 260.6h0M1015.7 261.6h0M1020.6 257.5V266.6M1019.6 270.1h0M1020.3 284.1h0M1021.5 260.8V264.3M1020.7 270h0M1022.9 279.2h0M1023.4 263.4h0M1023.6 270.9h0M1023.3 265.3V267.8M1025.1 272.2h0M1028.2 268.1V271.2M1027.8 278.1h0M1029 282.7h0M1030.2 268.6V278.8M1030.7 281.3h0M1030.9 294.9h0M1031.7 268.8h0M1032.8 278.3V281.9M1032.4 288.1h0M1031.8 294.9h0M1031.6 300.7h0M1032 301.4h0M1034.5 268.9V272.8M1032.7 279.8h0M1033.9 286.3h0M1034.3 293h0M1034.2 298.6h0M1036.5 269V275.4M1037.8 278.1h0M1036.5 279.5h0M1038.6 269.1h0M1038.3 276V279.3M1040.5 296.9h0M1039.5 269.2V279.4M1040.6 282.4h0M1039.9 292.5h0M1042.7 269.4V276.2M1043.1 278.9h0M1041.5 285.1h0M1042.2 289.3h0M1046.4 269.5V281.4M1045.6 284.9h0M1046.4 290.9h0M1047.2 297.5h0M1045.1 303.7h0M1044.9 322.4h0M1047.3 324.4h0M1047.8 269.6V276.4M1046.2 282.6V289.9M1048.3 292.5h0M1046.3 299.2V305.4M1047.1 308.7h0M1047.9 321.3h0M1046.5 327.3h0M1049.9 269.6V272.4M1050.9 279V286.1M1049.2 292.3V294.7M1051.4 300.6h0M1050.2 322.6h0M1049.5 329.4h0M1052.3 269.7V274.9M1051.1 281.9h0M1051.1 287.1V290.1M1050.9 296.8h0M1051.9 312.5h0M1054.3 269.8V282.2M1052.6 286V291.4M1052.8 295V298M1054.2 318.4h0M1056.9 269.8V282.9M1055.8 285.5h0M1056.6 302.5h0M1055.2 311.3h0M1056.2 324.2h0M1057.5 269.9V278.5M1058.4 284.4V288.1M1058.5 294h0M1057 302.8V308.2M1056.9 318.5h0M1058.5 330.7h0M1061.4 270V283.1M1060.1 286.9h0M1059.9 296.3V303.2M1059.1 309.3V314.6M1061.4 325.4h0M1059 326h0M1063.5 270V276.2M1063.4 276.5h0M1067.1 270.1h0M1065.8 275.7h0M1068.9 270.2h0M1069.2 275.3h0M1070.5 270.3V273.1M1070.3 279.4h0M1070.2 292.7h0M1068.6 294.9h0M1071.4 270.3V273.2M1070.8 279.4h0M1073 280.6h0M1074.9 270.4V277.1M1073.8 279.4h0M1076.6 270.5V276.2M1075.2 282.6h0M1078.4 270.5V277.5M1078.9 285.6h0M1080 270.6V273.2M1078.5 278.9h0M1078.6 281.6h0M1084 270.7h0M1084.8 276.5h0M1084.9 270.7V280M1085.8 282.9V285.5M1087 293.6h0M1089 270.8h0M1087.7 283.6h0M1087.9 288.7V292.3M1087.4 294.1h0M1091.2 269.5V278.9M1090.7 282.2h0M1091 291.9h0M1091 293.9h0M1092.4 264.4V267.6M1094 270.2h0M1096.4 258.9V262M1095.1 264.7h0M1097.6 255.2V264.1M1096.2 266.7V273.5M1098 278.4h0M1098.4 251.2V260.5M1098.1 266.4h0M1098.1 272.8V275.7M1099.5 288h0M1100.9 249.4V256.3M1101.1 261.9h0M1100 283.1h0M1104.3 249.7V259M1103.9 268.4h0M1102 275.5h0M1104 250V261.7M1105.4 265V268.3M1104.7 274.8h0M1105.4 281.5h0M1103.7 287.1h0M1104.8 303.5h0M1107.5 250.3V262.2M1107.1 283.7h0M1107.8 289.6h0M1109.2 296.6h0M1110.5 250.5V259.7M1110 262.9h0M1110.9 277.9h0M1113.1 250.9V257.8M1112 264.3h0M1113.8 268.8h0M1115.7 251.2V254.9M1115.2 266.5h0M1116.3 251.4V257.4M1117.6 263.7h0M1119.3 251.6V255.2M1118.7 265.8V269.4M1117.3 285.9h0M1117.6 294.9h0M1119.3 251.9V265.6M1119.4 272.2V278.3M1119.2 287.4h0M1120.7 290.4h0M1122.3 252.2V257.6M1122.3 264.8h0M1122.4 278.9h0M1122 278.9h0M1125.3 252.4V262.2M1124.8 275.4h0M1125.5 283.9h0M1124.6 294.4h0M1124.8 303h0M1127 252.8V259.6M1128.4 266.6h0M1129.1 253V256.7M1129 263.8V266.3M1128.6 273.7V276.7M1128.2 297.3h0M1130.3 299.9h0M1130.9 251.3h0M1130.7 261h0M1131.3 267.9h0M1133.5 246.9h0M1134.6 253h0M1134 260.2h0M1135.6 244.5V247.9M1135.9 256h0M1136.9 245.4V248.1M1136.5 255.8h0M1138.7 246.2V249.3M1140.5 256.4V259M1140.1 273.9h0M1139.7 276.9h0M1143 249.3V257.9M1141.4 271.5h0M1143.2 258.5V269M1142.9 278.1V283.4M1144.8 290.6h0M1145.7 260.7V263.8M1146.4 267.8h0M1150.1 261V264.6M1148.1 267.6h0M1151.7 261.4h0M1151.3 267.8h0M1154.1 261.7V267.5M1151.9 268h0M1154.4 262.1V274.3M1153.3 276.8V279.9M1154.9 300.9h0M1155.4 308.5h0M1157.1 262.5V275.1M1157 278.6V285M1157.9 287.5V293.6M1156.5 296.9h0M1156.5 308.9h0M1156.6 318.7V321.2M1157.6 325.5h0M1159.9 263.9V275.2M1160.7 277.7V286.1M1159.1 291.6V295.2M1160 307.2V313.3M1159.4 316.8h0M1160.5 331.3h0M1161.4 264.8h0M1160.9 279.8h0M1160.4 289.3h0M1161.2 290.9h0M1164.1 265.2V277M1164.7 280.6V287.3M1164 289.8V293M1163.5 299.5h0M1163.5 311.4h0M1164.3 318.1h0M1164.9 265.6h0M1165.2 272.5h0M1164.2 272.7h0M1169.7 266.1V269.9M1169.2 276V279.8M1168 289h0M1169.8 295.3h0M1169.6 307.2h0M1169.7 322.5h0M1168 329.4h0M1168.7 331.3h0M1169.9 266.4V274M1170.6 279.5V285.2M1169.5 288.4V295M1170.2 307.8V311M1169.9 319.2h0M1171.7 266.8V279.4M1171 288.6h0M1172.3 298.1h0M1170.5 307V309.8M1172.5 322h0M1173.4 267.1V276.3M1173.7 279.5h0M1174.5 290.1h0M1173.6 292.4h0M1174.9 267.4V276.1M1175.8 282.3h0M1177.2 297.6h0M1176.4 268h0M1177.5 284.2h0M1181 268.4V280.6M1178.5 283.5V290.7M1179.3 296.1h0M1179.5 304.5h0M1179.4 317.1h0M1178.9 326.1h0M1182.5 268.9V275.4M1181.3 282.3h0M1183.1 289.2V292.1M1182.2 299.1h0M1183.4 305.4h0M1181.3 314.7h0M1186.1 269.4V281.3M1186.5 284.3V286.8M1184.3 306.3h0M1186.5 309.1h0M1187.8 268.7h0M1186.7 275.4h0M1187 281.4h0M1187.8 292.9h0M1188 300.1h0M1187.8 310.7h0M1190.3 269V279M1190.4 284.7V290.9M1191.3 293.5h0M1191.9 299.4V302.7M1190.5 323.1h0M1191.2 324.3h0M1191.1 270.3V279M1191.2 295.8h0M1194.7 271.8h0M1194.4 279h0M1195.1 292.3h0M1196.5 272.2V275.8M1196.8 285.2h0M1198.1 296.7h0M1196.7 303.3h0M1196.9 309.1h0M1197.9 316.6h0M1199 272.5V283.8M1199.2 286.6V289.5M1198.5 295.1V301.1M1200 325.4h0M1202.3 272.9V279.7M1201.8 285.7V289.4M1201.2 294.9h0M1200.9 301.4h0M1203.3 273.2V280.6M1204.6 296.3h0M1207.1 273.6V280.5M1208.4 283.9V286.7M1207.4 294.4h0M1206.6 273.9V284.2M1207.9 286.9V289.8M1207.4 297.1h0M1207.9 299.8h0M1209.9 274.2h0M1211.3 280.6h0M1210.9 287.8h0M1209.1 301.1V304.3M1210.1 308.5h0M1212.9 274.4V277.6M1211.8 282.6V288.4M1212.1 294.4h0M1212.4 296.7h0M1216.3 274.8V280.3M1214.2 292h0M1216 292.7h0M1218.3 275.1V287.6M1216.5 290.8V297.3M1217.3 300.6h0M1218.7 307.6h0M1217.7 313.6h0M1219.9 275.4V285.5M1218.2 290.6h0M1218.2 302.7h0M1219 304.6h0M1221.1 275.8V282.5M1220.9 295.7h0M1220 297.6h0M1222 276.2V279.8M1222.7 287.1h0M1222.9 296.4h0M1225.7 276.5h0M1226.7 281.9h0M1226.4 276.8V286M1227.2 292.2h0M1228.8 298.7V305.3M1227.9 319.6h0M1228.9 277.1V284.2M1229 290.7h0M1229.3 293.4h0M1231.6 277.3V280.5M1231.2 287.2h0M1230.7 305.5h0M1233.6 277.7h0M1234.2 284.4V290.9M1235.2 293.3h0M1234.7 302.3h0M1237.4 278.1V284.4M1235.9 292.4h0M1237.5 278.4V286.5M1238.1 292.7h0M1239.5 298.4V302.1M1238.7 309.6V313.2M1238.5 327h0M1238.7 279.1V289.5M1239.1 292.1V299.2M1240.5 302.7h0M1239.3 304.3h0M1242.7 283.3h0M1241.6 295.8h0M1242.6 304.9h0M1244.7 286V292.3M1245.6 305h0M1247.4 286.5V295.2M1247.6 305h0M1250.4 287.3V294M1250.2 295.2h0M1252.9 287.7h0M1251.4 294.1h0M1251.8 298.2h0M1254.1 288.5h0M1253.3 293.6h0M1255.6 289.2h0M1255.2 295.9V298.6M1255.5 307.1h0M1257.8 289.7V293.3M1256.6 299.4V305.5M1258.2 308.7h0M1256.5 329.1h0M1260.8 289.6V292.9M1261 299.9h0M1259.7 307.7h0M1262.8 289.8V295.3M1262.2 299h0M1264.4 306.1h0M1265.8 290.5h0M1264.8 300.3h0M1265.9 305.8h0M1267.3 291.3h0M1267.7 298.6h0M1267 305.2h0M1269.3 292.1V298.2M1269.8 304h0M1271.7 292.6V300.1M1271.2 306.6h0M1273.9 293.2V297M1273.1 304.2h0M1274.6 293.3V303.5M1277 306.3V309.2M1275.2 315.7h0M1275.2 326.4h0M1276.5 283.3V292.9M1277.4 301.2h0M1278 310.9h0M1277.9 318.4h0M1278.9 320h0M1279.3 272.7V279.1M1278.8 281.8V285.4M1278.7 291.6h0M1281.6 271.5V277.8M1283.6 284.8V290.7M1283.2 300.1h0M1283.4 308.3h0M1283.5 271.6h0M1285.2 278.6V285.1M1284.4 288.5V291.1M1283.4 298.8h0M1285.6 271.6V274.8M1285.9 281.2V284.3M1287.6 290.6h0M1286.6 296.3V302.6M1285.3 305.9h0M1285.3 316.5h0M1287.1 318.6h0M1288.5 271.7h0M1289.2 278h0M1292.2 271.8V275.6M1290.9 283.6h0M1293.2 271.8h0M1293.6 277h0M1293.9 271.3V276.8M1293.7 281.4h0M1296.8 271V274.6M1296.8 279.9h0M1299.4 270.3h0M1299.9 276.2V279.7M1298 293.3V300.9M1297.7 303.9h0M1299.5 309.9h0M1297.8 315.7h0M1300.4 269.6V281M1300.5 284.8V291.5M1300.4 302.1h0M1300.3 302.9h0M1302.8 269.3V278.3M1303.4 288.5V292.3M1303.2 297.2h0M1307.5 266.9V269.9M1306.4 278.7V284.9M1307.8 294h0M1309 263.3h0M1309.9 269.9h0M1310.9 260.3V264M1310.8 270.6V273.6M1309.1 279.6h0M1310.3 286.6h0M1313.7 260.3V267.1M1312.2 286.6h0M1314.4 260.3V265.9M1314.5 276.2V279M1314.2 288.3V290.9M1315 298.6V302M1314.3 314.2h0M1314.7 326.2h0M1315.4 334.9h0M1316 260.3V266.9M1315.9 272.9h0M1315.6 280V282.4M1315.9 288.7V293.9M1317 297.2h0M1315.7 308.4h0M1317.1 314.7h0M1316.2 320.9h0M1316.5 329.3h0M1320.3 260.3V267.5M1320.4 280.2h0M1318.5 289.3h0M1318.9 299.3h0M1318.5 319.4h0M1319.3 260.5V263.4M1321.5 270.3V283.4M1320.6 287.2V294.4M1320.9 300.4h0M1321.1 308.8V315.2M1320.3 334.1V337.8M1320.9 344.2h0M1324.3 262.7V273.1M1323.7 276.2V282M1324.5 284.9V291.2M1322.6 302.9V306.7M1323.5 319.3h0M1324.2 261.5V274.7M1324.2 280.6h0M1325.8 286.2h0M1324.5 293.3h0M1325 298.3h0M1325.9 308.9h0M1324.5 319.8h0M1326.8 259.8V272M1325.6 275.4h0M1325.8 297.2h0M1329.6 259.8V265.3M1328 272.1h0M1329.7 295.9h0M1329.5 259.8V272.1M1329.7 283.2h0M1331.1 289.5h0M1330.9 281.9V288.7M1333 306.9V309.7M1332.5 318.5h0M1335.7 314.8V320.2M1334 325.8V328.6M1335.4 350.7h0M1337.1 317V322.9M1337.6 330h0M1336.8 336.5V341.9M1336.1 345.8h0M1337.7 349.5h0M1338.3 319.3V330.7M1339.6 337.4h0M1339.9 347.8h0M1338 357.5h0M1338.3 367.6V372.7M1338.6 380.3h0M1341.1 320.8V332.6M1341.5 335.1V340.3M1341.5 342.8h0M1340.8 351.3h0M1339.7 359.8h0M1341.1 370.8h0M1340.8 371h0M1344.1 322.7V326.1M1342.1 330.7h0M1346.7 322.7V325.3M1345.1 329.7h0M1349.8 322.7V335.1M1348.5 350.8h0M1347.4 366h0M1347.6 372.5h0M1349.1 381.8h0M1348.6 385.4h0M1349 322.7V325.8M1349.8 331.8V340.9M1349.5 346.9h0M1349.9 353V360.3M1350.1 364.1h0M1348.1 370.5h0M1348.6 379.7h0M1351.7 318.8V325.9M1352.9 332.5V336.2M1351.7 345.7V349.5M1352.5 351.7h0M1355.3 314.7V318.4M1354.2 330.4h0M1354.1 336.4h0M1355.6 311.6V314.3M1356.9 320.4h0M1355.8 327.6h0M1356.7 335.6h0M1359.4 308.7V315.7M1360.6 325.7h0M1358.5 335.2h0M1360.3 304.7V311M1359.4 318.6V324.7M1359.5 329.7h0M1359.5 336.4h0M1361.3 356V361.7M1359.4 374.9h0M1362.4 302.1V311.6M1362.6 318.2V323.5M1362.3 330.7h0M1362.3 345.2h0M1361 345.6h0M1365 303V305.5M1366.5 309.9h0M1367 309.8V322.1M1368.5 331.7V334.9M1367.6 343.6h0M1368.4 353.7h0M1366.7 358.9h0M1370 315.6V319.3M1371.4 325.4V329.2M1370.2 337.1h0M1371.9 319.7V323.4M1372.5 330.2V333M1373.8 336.4h0M1375.7 326V332.9M1374.4 341.5h0M1376.5 331h0M1377 336.1h0M1378.4 336.9V339.8M1379 351.9h0M1377.9 355.6h0M1380.5 342V345.1M1380.7 352h0M1380.8 355.9h0M1382.8 349.3h0M1383.1 354.7V361.7M1383.2 363h0M1384.5 346.2h0M1384.2 357.7h0M1386.5 343.7V346.4M1388.1 353.5h0M1388.7 340.9V343.8M1389.4 350.1h0M1392.1 338.2V345.6M1390 348.7h0M1391.8 351.8h0M1394.3 334.1V336.9M1394.9 346.4h0M1397.5 329.6V335.7M1398.2 342.5h0M1398.6 326.6h0M1398.1 332.9h0M1399.9 336.8h0M1400.9 323.2h0M1400.1 331.7h0M1402.4 320.1h0M1402.2 327.5h0M1404.6 317V320.9M1404.8 327h0M1404.7 339.9h0M1403.2 346h0M1403.6 346.5h0M1404.8 315.1h0M1406.9 322.6h0M1407.9 313.7V320.5M1408.8 323h0M1409.5 312V315M1410.5 322.6V325.2M1409.5 330.9h0M1410.7 336h0M1410.6 310.2V313.7M1411.9 316.8h0M1414 308.7h0M1413.7 314.9h0M1415.8 306.8V310M1415.6 312.5h0M1418.2 304.5V311M1416.3 314.9V318.1M1417.2 324.6h0M1420.3 302.1V308M1419.9 313.7h0M1419.2 316.1h0M1423.2 298.6V310.9M1423.4 313.5h0M1423.3 320.5h0M1422.9 337.7h0M1422.9 295.7V304.4M1424.2 322.7h0M1423.9 326.3h0M1426.6 292.4V296M1426.7 304.6V307.4M1425.6 312.9h0M1425.6 319.6h0M1426.6 320.3h0M1429.3 289.6V295.6M1429.7 298.5h0M1427.6 304.3V307.8M1427.9 309.6h0M1429.8 285.5V288.9M1428.6 300.9h0M1428.9 303.4h0M1434.9 279.6V282.3M1434.9 290.6h0M1433.2 297.2h0M1435 274.7V280M1434.8 288.3h0M1436.2 268.5V276.2M1438.5 285.7h0M1436.4 291.9V299.3M1436.8 318.1h0M1440.2 264.2V275.9M1440.5 294.9h0M1440.2 310.5h0M1440.2 250.8V260.1M1442.5 265.8V272.8M1440.6 279h0M1442.1 285.7h0M1440.2 289.2h0M1444.2 233.7V239.5M1444.8 246.7V254.2M1444.1 267.3h0M1446 273.8h0M1444.8 275.9h0M1446.4 227.5V240.8M1446 246.5V252.3M1447.8 275.8h0M1448.5 226.2V229.5M1447.7 235.1V241.2M1448.2 247.7h0M1448.7 253.9h0M1448.1 269.2h0M1449.5 275.3h0M1449.4 225.1V228.5M1450 232.5h0M1453.3 223.8V229M1452.9 230.4h0M1455 222.6V226.3M1456.2 235.9h0M1458.8 221.6V224.8M1456.8 234.3V237M1458.9 249.6h0M1456.7 259.4h0M1456.6 264.3h0M1459.4 220.2V223.1M1459.4 230V233.6M1460.3 244.5h0M1459.1 250.3h0M1461.2 252.6h0M1462.4 219.3V222.9M1462.5 231.1h0M116.5 198.2V205.2M116.1 211.1h0M117.8 217.6h0M116.2 223.8V230.6M116.9 250h0M116.4 256.1h0M116 270h0M125 200.3V212.8M125.4 216.2V219.5M125.8 238.3h0M124.3 244.1V247.5M125.9 259.1h0M124.9 276.4h0M124.3 282.2h0M125.7 300h0M134.9 192.2V203.2M133.3 206.4h0M134.2 212.9V216.7M133.3 229.9h0M133.4 235.9h0M133 248.8V252.2M133.2 289.8h0M133.5 311h0M133.9 330h0M139.4 188.3V190.7M140.1 197.1h0M140.4 202.8h0M139.5 208.7h0M140.6 218.1h0M140.9 235.3h0M139.9 277.3h0M139.2 300h0M146.6 186.2V198.5M146.7 201.8V212.6M147.1 216.2V220M147.5 254.3h0M146.1 273.9V277.6M147.6 300h0M154.1 194.9V206.5M154.2 212.5h0M155.3 228.4V232.1M155.3 255.1h0M154.5 263.2h0M155.8 279.5h0M155.3 294.1h0M155 304.6h0M154.4 310h0M166.7 233.3V243.9M167 247.7h0M165.7 253.6V256.3M166.9 262.6V269.1M165.2 271.5h0M165.3 293.4h0M166 298.9V302.7M166.2 334.2h0M165.2 335h0M175.4 248.6V261.9M174.7 264.6h0M175.3 270.7V276.3M174.5 282.8h0M176 289.5h0M175.7 302.9V305.3M175.7 311.6V314.7M174.5 328.5h0M175.1 335h0M185.6 252.1h0M184.7 258.9h0M185.1 274.3h0M186 283h0M184.5 289.3h0M184.1 301.6h0M185.7 310h0M195.8 244.8V253.9M195.8 272.3h0M195.3 288h0M195.4 297.2h0M194.5 322h0M205.2 215.1V227.1M206.9 230V238.6M206.4 245h0M205.3 268h0M206.5 281.3h0M206.4 290.1V293.4M205.4 301.1h0M206.6 312h0M215.4 214.1V227.1M214.7 230.6V236.9M216 242.4V246.2M215.5 280h0M225.8 208.4V220.4M225.7 223.9V231.1M224.8 234.1V237.2M224.1 258.1h0M224.3 265h0M232.8 200.5V207M231.6 214.2h0M231.8 226.9h0M233 260h0M243.5 208.7V218.1M242.3 224.2h0M243 252.2V255.2M243.5 284.1h0M242.5 285h0M250.9 212V224.7M250.5 227.5V233.6M251.3 247.4h0M251.9 262V264.4M251.8 274.1V277M251.8 282.9h0M251.6 296.2V299.9M251.4 306.9h0M250.7 313.2h0M251.7 318h0M261.4 217.4V229.6M261.9 232h0M260.8 238.1h0M260.1 264.4h0M261.3 285.4h0M260.5 295.1V297.6M260.8 322h0M270.5 215.4h0M269.8 221.4V224.6M269.3 229.9h0M270.5 236.9h0M270.3 252.3h0M269.5 258.4V265.9M270.6 278.5h0M270.1 290h0M277.4 206.4V209.1M278.4 215.3V222M278 231.5h0M277.5 237.4h0M278.6 256.7V259.9M277.2 265.8h0M277.9 268h0M286.2 198.3V210.5M287.5 213.7V217.5M286.9 227.2h0M287.2 255.3h0M287.4 285h0M296.2 200.9V214.1M298 217.5V220.2M296.8 260h0M307.3 203.1h0M306 209.1h0M307.4 216.2h0M306.4 227.2V229.8M306.4 258h0M314.9 197.1V206.7M314.8 219.1h0M315.2 225.6h0M314.4 240h0M321.4 198.8V201.8M321.6 208.6h0M322.9 232h0M329.7 190.5h0M330.2 196.3h0M331 218h0M344.6 189.8V195.4M344.9 202.9h0M344.5 215h0M359.3 186.6h0M359.5 192.8V195.6M359.8 220h0M364.6 185.7h0M365.6 191.7V201.4M364.6 205.3h0M364.9 217.3h0M365.2 227h0M374.6 178.8V181.4M375.7 188h0M374.5 201.8h0M375.8 205h0M388.4 178.6V188.9M387.3 204.3h0M388.1 220h0M400.6 179.3h0M400.4 200h0M413.1 176.3V180.1M412.2 200h0M430.9 174.7h0M430.1 190h0M443.1 186.5V189.5M444 201.7V205M442.8 215h0M445.7 188V201.5M445.6 207.7h0M444.7 217.8h0M444.5 260h0M451.6 190.6V199.7M451.9 208.7h0M451.6 214.7h0M452.8 228.5h0M452.9 260h0M454.2 190.9V195.9M454.8 202.8h0M454.9 222.4h0M454.6 228.2h0M455 230h0M462.3 191.8V194.7M462 200.5h0M462.5 217h0M477 185.3V191.9M475.9 206.4h0M475.2 217h0M479.5 185.3V194.5M480 205h0M499 182V191.8M498.9 203.7h0M497.7 212h0M506 176.6h0M506.2 185.5V188.5M507.6 205h0M518.8 177.9V186.8M517.1 190.4h0M517.5 200.1h0M518.1 205h0M529 179.5V183.3M527.2 190h0M528.1 195h0M528.3 210h0M539.7 185.7V188.7M539.4 200h0M548.2 186V194.2M548 201.3h0M548.4 227h0M560.4 184.6V188.1M559.2 194.6h0M559.5 204.3V207.3M559.7 220h0M569 184.3V187.4M569 199.2h0M570.9 214.9h0M569.1 220h0M575 184.3V191M574.8 199.9h0M574.1 206.1h0M575.9 224.6h0M575 238.9h0M575.9 245h0M585.5 191.1V194.1M585.5 201.2h0M585.1 207.3h0M584.7 214.1h0M585.2 215h0M593.4 191.8V204.1M592.9 209.4V212.6M592.4 227.8h0M593.1 240.2h0M592.6 246h0M594.3 191.8V198.1M594.6 205h0M593.6 211.4V214.8M593.7 237.3h0M594.6 285.9h0M594.5 290h0M596.8 191.8h0M595.9 197.9V201.3M595.8 208.3V211M596.9 246h0M599.8 192V195.8M600.9 208.2h0M600.6 215h0M609.9 198V207.7M608.3 217.7V225.1M609.2 228.2h0M608.1 237.7h0M609.9 272h0M610.3 198.7V207.6M609.6 216.8V220.2M609.2 232.6h0M611 238.2h0M609.3 246.8V249.5M609.9 272h0M617.1 200.1V207.1M617.2 213.8h0M617.1 238h0M638.1 205.5V219M639.8 222.2V228.6M639.9 238.3h0M639.7 251h0M651.5 206.8V212.7M650.1 218.5V222.2M651.9 237.5h0M651.6 254.1h0M651.7 266h0M660.3 205.6h0M660.2 219.1h0M660.3 240h0M673.6 193.5h0M673.8 200.4h0M674.8 212.8h0M673.5 219.3h0M674 238.2h0M673 251h0M682.2 183.1V186.7M683.7 193.2h0M683.7 218.5h0M683.8 226h0M692 182.3h0M692.6 189h0M692.8 205h0M699.1 181.7V184.5M700.7 193.7h0M700.1 215h0M711.6 186.7V194.7M712.6 200.3V205.6M712.1 218.7h0M713 233.7V236.6M712.8 282h0M714.5 186.7V192.8M714.9 204.1V207.6M713.7 216.6V219.2M713.7 225.6h0M714.9 240h0M722.6 188V196.3M721.3 215.1h0M722.1 225V228.6M721.7 243h0M730.4 185.4V188.5M731.2 194.6h0M731.3 202.1h0M730.7 207.1V210.9M731.6 240h0M745.8 191.7V201.9M744.1 208.6h0M745.8 214.3h0M745.9 219.9h0M745 229.5V232.2M745.1 241h0M758.7 194.5V200M758.1 217h0M771.4 183.5V192.4M771 220h0M780 177.9V181.6M780.2 191h0M781.6 195h0M794.6 166.7V170.3M794.9 177.8V181.3M795.2 190h0M809.2 167.2h0M809.5 172.4h0M808.6 196.5h0M823.5 165V168.6M824.8 174.9V178.1M823.3 186.7h0M823.2 196h0M834.6 165.2V177.2M834.8 181h0M835.9 200h0M847.3 174.4V187.7M846.2 190.2V193.2M846 212h0M847.3 232h0M856.6 176.6V190.4M856.5 203.7h0M855 209.9V212.9M856.3 225.4h0M856.2 246h0M857.4 187.7V190.1M857.5 195.4h0M857.3 201.5V204.4M858.5 216.6h0M858.8 222.8V228.2M858.4 244.6h0M858.9 252.4h0M858 262h0M866.4 251.2V257.8M867 303h0M883.9 257.6V267.5M883.4 274.5h0M884.4 286.7h0M883 294.4h0M885 317.3h0M884.9 328h0M884.4 335h0M885.5 257.6V260.3M885.4 273.4h0M885.4 282.2h0M885.4 300h0M892.7 279.2V285.8M894 292.2h0M894 314.4h0M892.2 315h0M906.6 251.3V255.1M907 261.4V264.8M906.3 295.2h0M907.9 296h0M914.8 253.5V257.4M915 274.1h0M915.1 280h0M930.3 253.8V260.3M930.7 266.7h0M929.8 279.4h0M930.8 290h0M945.7 253.9h0M945.7 260.4h0M945.8 280h0M961 242.5V248.5M959.3 257.9h0M960.8 275h0M967.5 231.7V237.8M967.9 247.2V253.1M967.9 264.8h0M968 279.8V282.5M969 291h0M986.1 236.4V244.5M985.5 290h0M995.7 239.9h0M995.5 246.7h0M995.7 263.5V266.6M997 275.2h0M995.4 298h0M1008.9 247.9V256.7M1009.8 273V276.5M1009.2 296h0M1018.5 259.8V266.5M1019.8 273.3h0M1019.8 279.9h0M1019.6 295h0M1029.1 270.6h0M1030.7 278h0M1029.2 283.4h0M1030.7 300h0M1038.5 271.1V278.3M1038.8 284.6h0M1037.2 291.2V293.8M1038.9 354h0M1042.5 271.3V282.7M1042.5 286.2V289.6M1041.4 296h0M1042.2 320h0M1050.6 271.6V283.1M1049 285.5h0M1049.6 291.8V295.5M1049.8 330h0M1063.2 272V276.9M1062.3 282.9V286.7M1062.2 292.6h0M1063.8 310.1h0M1063.5 346h0M1074.3 272.4V275.4M1074.9 281.5V284.9M1074.5 298.3h0M1074.7 310.7h0M1075.6 317.5h0M1075.5 320h0M1097.8 255.6V261.6M1098.1 267.7V270.3M1097.2 283.4h0M1097.7 310h0M1109.1 252.6V255.3M1110.7 261.7h0M1109.3 273.8h0M1109 280.8h0M1110.5 287.3h0M1110.4 305.7h0M1111 317h0M1127.1 254.7h0M1127 260.9h0M1127.7 270.7V274.1M1126.4 280.6h0M1127.9 302h0M1145.8 262.4V268.8M1145.6 310h0M1162.6 266.8V273.3M1161.8 283.3V285.9M1161.4 292.4h0M1161.6 345h0M1163.5 267.2h0M1164.4 273.8V276.6M1164.4 283.5h0M1164 318h0M1164.3 324.4h0M1163.1 344h0M1164.3 354.1V356.6M1163.1 370h0M1166.3 267.6V278.9M1165.3 282.6V288.8M1166.2 299h0M1165.6 311.4h0M1165.3 331.1h0M1165.1 345h0M1180.6 270.6V281M1180.6 293.1h0M1181.1 318.7h0M1180.8 325h0M1209.8 276.1V279.5M1209.6 318.4h0M1209.6 327h0M1227.4 278.8h0M1228.2 285.4V287.8M1228.1 304.8V308.7M1229 314.9V317.8M1228.5 320h0M1249 289.3V298.8M1249.4 310.9h0M1249.3 336h0M1264.1 292.6V295.3M1265.1 304.7h0M1264.7 316.6h0M1264.5 328.3h0M1264.9 334.6V337.7M1264.2 338h0M1285.2 273.6V285.6M1284.7 291.4V294M1285 324h0M1297.2 272.7V276.6M1297.4 293.6h0M1297.5 302V305.9M1297.7 313.3h0M1297.8 335h0M1304.6 271.3h0M1303.5 277.5V286.9M1304.7 299.6V303.2M1303.3 330h0M1314.5 262.3V268.4M1313.1 274.8V277.3M1314.8 289.4V293.1M1314.5 303.2V309.5M1313.9 324.8h0M1313.2 342h0M1322 264.1h0M1322.1 269.4V273M1322.4 280h0M1322.6 292.3V296.1M1321.5 310.3V312.9M1321.9 329.4h0M1321.1 356h0M1329.6 261.8V275.2M1330.6 281.1V283.7M1330.7 289.6h0M1329.3 319.7h0M1329.8 340h0M1333.6 315.5V322.2M1332.6 337.5V340.5M1333.2 380h0M1346.9 324.7V330M1347.2 336.5V345.1M1346.6 354.5h0M1347.1 383.9h0M1346.6 390.9h0M1346.1 400h0M1352.3 321.5V330.4M1351.3 336.8V339.7M1352.1 348.5V351.5M1352.6 357.3h0M1351.9 380h0M1363.8 303.4V316.7M1362.8 319.6V329.2M1362.9 332.5V336.3M1362.7 365.9h0M1362.3 380h0M1372.3 321.5V324.4M1371.2 331.3h0M1371.6 354.6h0M1372.3 368h0M1382.3 351.3V358M1382.6 364.8V370.9M1382.4 383.1h0M1383.5 389.4h0M1382.8 396.6h0M1383 405h0M1391.3 339.2V342.7M1391.7 348.5h0M1391.3 364.3h0M1391.5 375h0M1402.5 319.8V333M1402 336h0M1402.9 358h0M1411.9 312.6h0M1411.4 320.1h0M1412 333.3h0M1411.3 343.1V346.8M1411.8 356h0M1420.4 303.3V310M1419.6 329.1h0M1419.7 340h0M1432.9 283.8V291.4M1431.5 298.6h0M1432.1 308.9h0M1431.2 315.7h0M1432.3 337h0M1436.4 272.6V287.2M1437.6 323h0M1445.4 235.8h0M1444.5 241.6V244.6M1445.5 254.7V261M1444.9 288.8h0M1444.1 300h0M1459.9 221.9V234.4M1459.9 238.1h0M1459.1 253.7h0M1459.4 266.6V269.7M1460.8 296h0M158.8 172V310.5M159.8 172V325M160.8 172V333.2M161.8 172V341.4M162.8 172V337.5M163.8 172V326.4M164.8 172V317.5M161.7 354.8h0M161.3 367.1h0M162.1 377.1h0M161.9 381h0M133.3 171.5V233.4M134.3 171.5V246.6M135.3 171.5V238.8M134.6 262.1h0M135.1 271.6h0M135.2 294.4h0M134.6 305.1h0M134.9 325.5h0M134.8 330h0M145.5 172.6V222.9M146.5 172.6V230.6M147.5 172.6V231.7M148.5 172.6V222.2M147.7 240.9h0M146.1 264.2h0M146.1 295.9h0M147.1 298h0M1335 177.4V388M1336 177.4V406.2M1337 177.4V423.8M1338 177.4V440.7M1339 177.4V426.6M1340 177.4V409.5M1341 177.4V390.3M1338 445.4h0M1338.5 457.4h0M1337.2 466.1h0M1339.1 474.6h0M1338.8 487.7h0M1338.5 491h0M1356.7 175.5V352.6M1357.7 175.5V369.2M1358.7 175.5V381.4M1359.7 175.5V387.1M1360.7 175.5V370.7M1361.7 175.5V354.4M1357.7 397.4h0M1358.6 402.4h0M1357.6 408.4h0M1359.1 413.1h0M1357.5 417.8h0M1361.1 424.4h0M1358.6 429.4h0M1357.5 434.2h0M1358.3 438.9h0M1359.6 442h0M1323.6 159.6V342.7M1323.3 350.2h0M1323 364h0M1323.3 378.9h0M1324.1 392.4h0M1323.5 403.4h0M1323.7 406h0M1381.4 174.2V331.4M1382.4 174.2V353.4M1383.4 174.2V359.3M1384.4 174.2V338.9M1382.8 373.9h0M1382.7 382.1h0M1383.9 384.3h0M1383.8 393.4h0M1383 397.9h0M1382.2 401h0M1382.6 405h0M1162.8 157.6V294.5M1163.8 157.6V324.6M1164.8 157.6V304.7M1163.4 333.8h0M1164.2 339.5h0M1164.5 348.3h0M1163.7 352.4h0M1163.2 361.9h0M1164.7 366.2h0M1164.2 371h0M1037.5 134V281M1038.5 134V316.3M1039.5 134V279.6M1038.9 324.5h0M1038 329.7h0M1038.9 333.4h0M1039.1 339.5h0M1038.8 345.5h0M1038.1 352.4h0M1038.2 355h0M884.5 164V298.8M884.3 303.2h0M884.7 310.3h0M885 318.8h0M884 325.5h0M884.6 335.1h0M884.2 336h0M594 169.4V212.8M594.2 229.7h0M593.8 247.4h0M594 277.6h0M594.3 290h0M712 156.5V220.1M712.1 228.9h0M711.9 247.6h0M711.8 272.6h0M712.1 282h0M859.4 178.7V182M857.8 172.9h0M859.4 165.8h0M858.4 163.3h0M862.1 177.4V183.7M861.9 168.4h0M864.4 177V184M863.2 174.5h0M864.6 169.2h0M865.2 177.8V184M864.9 160.2h0M866.9 181.2V184M867.9 178.7h0M869.2 172.5V184M867.7 156.7V162.9M868.6 149h0M869.9 180.5V184M870.6 164.7V170.5M870.8 153.8h0M872.3 176.1V182.8M872.2 168.9h0M874.3 158.8V161.9M873.5 157.7h0M876.5 179.9h0M875.4 169.2V172.5M876 162.3h0M878.2 179.1h0M878.1 168.6h0M878.1 168.4h0M881.1 171.6V178.2M879.9 166h0M881.7 173.5V177.4M883.9 165h0M886.5 177h0M884.6 167V169.6M885 164.7h0M888.6 170.8V177M887.3 160.2V163.4M887.5 152.1h0M891.8 170.5V177M889.9 158h0M892.2 174.4V177M892.9 170.4h0M893.7 177h0M894.8 171.6h0M893.8 167.4h0M896.8 177h0M895.5 170.9h0M896.8 167.3h0M898.6 174.1V177M898.7 168h0M898.9 167.1h0M900.8 177h0M901.7 171.4h0M899.5 167.2h0M904.8 168.3V173.5M904.9 162.4h0M907.5 165.2V170.8M907 162.2h0M910.2 167.1V170.4M909 161.5h0M909.4 166.9V170.1M909.7 161.6h0M911.9 164.5V169.7M913.3 151.2h0M911.6 142.3h0M913.8 159.6V169.3M914.2 139.9V143.5M914.4 130h0M917.3 153.9V160.9M917.4 141.1V146.2M918.3 129.8h0M921 144.5V147M918.6 131.3h0M919 123.3h0M922.9 137.5V147M922.3 134.1h0M922.7 125.6V128.2M922.8 121.2h0M924.8 137.6V147M924.3 125.7h0M925.9 150.8V156.7M927.1 140.1V145.3M927.5 127.2h0M931.2 150.9V157.2M929.3 143.5V147.4M930.2 140.5h0M932.4 151.5V157.4M932.1 150.3h0M934.4 152.4V157.5M933.9 151.1h0M936.7 154.8V157.7M936.4 142.4h0M935.5 138.4h0M938.4 152.1V157.8M939 149h0M938.3 143.1h0M941.9 151.2V158M941.3 145.2V148.5M940.9 139.4h0M944.7 151.2V158.2M944.4 145.4h0M943.3 143.8h0M945.1 158.3h0M945.7 152.1h0M945.6 151.1h0M946.6 155V158.5M947.1 151.7h0M949.9 151.8V158.6M950 141.8V145.2M948.3 140.3h0M951.9 158.8h0M952.8 151.4h0M954.1 152.7V158.9M954.6 151.3h0M955.7 153V156.9M955.3 140.7V146.4M955.3 136.9h0M954.7 131.8h0M959 148.6V152M959.2 139.5h0M957.8 138.2h0M960.3 145.2V152M959.5 141.9h0M959.2 138.8h0M962.5 146.1V152M962.3 140.3h0M965.8 152h0M964.1 147h0M967.7 142.4V152M966.8 129.9h0M967.9 123.3h0M969 141.4V152M969.9 135V137.9M969.9 126.3h0M973 152h0M974.1 142.2V145.6M973.1 139.6h0M976.2 144.1V146.9M974.3 133.6h0M974.5 132.7h0M977.6 149.3h0M978 140V143.3M979 136.9h0M978.8 146.6V153.3M979 139.3h0M982.2 147.9V157.2M981.5 137.1h0M981 122.4h0M985.1 158h0M983.6 148.3V151.3M985 136.2V141.6M983.9 133.4h0M984.2 126.8h0M986.4 158.7h0M988.2 152.7h0M987.2 159.3h0M986.7 153.3h0M988.3 159.8h0M989.5 147.4V153.7M988.8 139.3h0M993 160.6h0M991.6 154.5h0M993 149.9h0M995.5 158.1V161.3M994.7 151.2h0M997.8 158.7V162.2M997.6 151.5h0M1000.8 155.6V163.1M1000.9 151.8h0M998.8 147.4h0M1001.5 160.7V163.7M1001.3 155.1h0M1002 148.6h0M1000.4 146.8h0M1003.5 154V157.5M1004.6 144.9h0M1002.4 135.8V138.6M1002.8 135.6h0M1006.8 139.1V145.1M1006.5 132.6h0M1008.9 146.8V150.4M1007.1 131.9V134.8M1008.6 124.2h0M1011.5 145.2V155M1010.1 127h0M1012 149.6V155M1012.7 141.8h0M1015.2 144.8V155M1015.2 133.9V137.4M1013 128h0M1012.7 120.4h0M1016.2 155h0M1015.7 146V148.5M1018 126.5h0M1017 145.2V155M1018.3 135.7h0M1018.3 130.8h0M1021.7 149.9V152.8M1020.9 136.8V143.5M1020.8 127.9h0M1023.3 145.8V149.6M1023.2 131.8h0M1026.4 141.2V146.4M1025.5 134.8V138.3M1025.3 130.9h0M1027.5 137V144.1M1026.4 131.7V134.2M1028.3 126.8h0M1028.1 141.8V144.7M1030.3 138.7h0M1029.4 145.1h0M1029.9 139.3h0M1032.6 142.5V145.8M1034.3 135.7h0M1033 128.9h0M1034.9 143.3V146.4M1036.6 134.4h0M1039.8 147.1h0M1040.8 137.7h0M1039.7 136.4h0M1041.1 139.4V147.7M1040.9 124V127M1039.5 120.3h0M1043.4 139V148.2M1044.2 124.7h0M1044.4 148.7h0M1044.7 141.9h0M1044.3 138.8h0M1047.4 142.9V149M1048.7 140.7h0M1049 138.5V149.1M1049.1 135.5h0M1047.8 126.1h0M1048.5 116.4h0M1051.1 146.1V149.1M1051.1 131.6h0M1053.2 141.5V149.1M1053.4 135.9h0M1053.2 133.5h0M1055.8 146.6V149.2M1054 138h0M1058.3 142.1V149.2M1058.7 134.9V138.5M1058.1 131.9h0M1058.1 145.3V149.2M1059.7 142.4h0M1061.5 149.3h0M1060.7 133.3V138.7M1060.4 130.7h0M1063 149.3h0M1062.8 142.6h0M1066.2 144.4V149.4M1065.2 137.9h0M1066.4 129.7h0M1067.6 142.5V149.4M1068.6 140h0M1067.5 134.2h0M1067.7 132h0M1070.8 146V149.5M1069.7 135.9h0M1074.1 146.9V149.5M1073 140.6h0M1072.7 139.1h0M1075.4 146.2V149.6M1076.6 139h0M1075 130.9h0M1077.4 136.5V149.6M1079 127.1V132.9M1076.7 116.1h0M1078.7 114.4h0M1079.7 139.9V149.6M1079.7 130.2V133.1M1080.3 125h0M1078.2 120.1h0M1082.5 147V149.7M1082.4 144.6h0M1084.5 146.3V149.7M1085 141.9h0M1086.7 137.7V149.8M1084.9 131.6V134.2M1085 125.6h0M1086.6 113.4h0M1088.3 142.2V149.8M1087.8 136h0M1089.5 124.8h0M1090.3 149.8h0M1090.1 139.5V143M1090.3 132.7h0M1093.2 142V149.9M1092 129h0M1093 124.8h0M1094.8 147V149.9M1095.6 139.3h0M1099.3 150h0M1098.9 140.1h0M1100.7 146.4V150M1099.1 140.7h0M1101.3 138.4h0M1102.8 143.4V150.1M1100.5 138.9h0M1104.5 138.3V150.2M1103.8 125.6V131.6M1103.3 121.7h0M1104.6 114.6h0M1102.8 110.9h0M1105.3 139V150.4M1105.6 119.3V122.1M1104.6 109.8h0M1107.5 141.1V150.6M1107.9 126.1V132.2M1108 111.6h0M1110.5 147V150.8M1110.3 141h0M1110.7 131.6V135.2M1109.7 129.7h0M1113.5 147.5V150.9M1114.3 143.9h0M1115.7 137.9V151M1114.5 125.3V131.7M1115.6 114.7h0M1115.4 108.4h0M1115.1 100.6h0M1117.4 144.6V151.2M1116.2 136.7V139.2M1117.6 134.7h0M1119.1 145V151.3M1119 138.9h0M1117.6 137.1h0M1121.9 151.4h0M1120 141.4V144.1M1119.5 138.1h0M1121.3 145.4V151.6M1122.4 141.4h0M1123.8 140.9V151.7M1124.3 134.9V137.6M1125.7 128.7h0M1123.8 122.2h0M1125.9 118.9h0M1127.1 141.3V151.9M1125.4 129.2V132.4M1126.8 113.6V119.7M1125.8 111h0M1127 108.8h0M1128.2 146.3V152M1127.7 136.7h0M1127.9 129.3h0M1129.7 129h0M1132.7 145.9V152.2M1131.2 136.3h0M1133.2 146.5V152.3M1134.2 140.3h0M1136.1 140.9V152.5M1136.4 134.5h0M1137.5 124.7V128M1135.1 118.1h0M1136 115.2h0M1138.6 142.5V152.6M1138.1 130.2V136.7M1136.8 126.5h0M1137.6 114.6h0M1141.6 152.8h0M1140.4 139.2h0M1141.5 139V152.9M1140.5 136.6h0M1142.9 123.7h0M1141 114.6h0M1142.5 114.4h0M1144 144.1V153M1143.6 137.6h0M1144.8 128.9h0M1144.9 117.7h0M1146.5 149.6V153.2M1147.2 137.1V143.1M1146.3 131.9h0M1145.8 118.9h0M1146.5 117.3h0M1149.1 139.7V153.4M1148.6 130.5h0M1148.5 124.1h0M1149.1 116h0M1150.5 140.8V153.5M1151.6 128.6V131.4M1152.3 118h0M1152.3 150.9V153.7M1153.4 147.9h0M1156.2 150.6V153.9M1155.7 146.7h0M1156.7 155.8V159.5M1156.9 152.5h0M1161 168.9V172.2M1159.9 165.4h0M1163.1 169.8V173M1162.2 166.4h0M1164.1 171.3V174M1163.2 167.8h0M1165.5 172V174.6M1167.1 166.2h0M1168.4 169.1V175.4M1168.1 167h0M1171.5 176.5h0M1172 170.1h0M1172.2 168.4h0M1172 171.1V177.5M1172.1 170h0M1175.1 171.6V178.4M1175.4 171.4h0M1178.7 179.1h0M1177.1 172.8h0M1181.2 170.7V180.1M1181.1 164.9h0M1179.9 158h0M1180.1 151.9h0M1181.6 149.1h0M1183.3 177.6V180.7M1181.3 170.5h0M1181.5 165.6h0M1183.9 175.5V181.7M1184.5 166.8h0M1187.2 175V177.5M1187.3 169.2h0M1187.7 164.2h0M1188.5 162.9V170.1M1188 157.6h0M1190.2 167.2V170.3M1190.9 162.7h0M1193.5 170.6h0M1194.6 162.9h0M1195.5 167V170.8M1194.7 163.8h0M1197.8 166.1V171.1M1197.5 164.6h0M1199.3 164.5V171.3M1198.6 155h0M1198.7 141.8h0M1198.7 136.7h0M1199 168.9V171.5M1199.8 152.1h0M1202.4 165.3V171.7M1203.8 161.4h0M1203.3 157.3h0M1204.3 168.4V172M1205.3 161.3h0M1205.1 157.3h0M1209 166.5V172.3M1207.9 158.3V163.5M1207.5 156.4h0M1211.9 169V172.7M1212.7 164.1h0M1212.2 156.7h0M1214 159V172.9M1214 153V156.6M1213.9 143.4h0M1213.5 129V135.4M1214.6 126.1h0M1213.6 118.4h0M1214.3 159.8V173.2M1214.6 157.3h0M1216.2 145.5V150.9M1216 128.8h0M1216.3 121.1h0M1217.2 164.1V173.5M1218.8 155.1h0M1217.3 141.6h0M1219.2 137.5h0M1221 171.1V173.7M1221.4 163.7h0M1221.4 161.1h0M1222.5 170.9V174M1223.1 163.6h0M1225.7 171.2V174.2M1225.2 163.9h0M1224.3 148.8h0M1225.8 170.6V174.4M1226.6 163.9h0M1224.8 156.9h0M1225.8 152.6h0M1228.1 166V174.7M1227.7 157.5V162.9M1227.8 153.1h0M1229.7 171.9V174.9M1230.5 168.1h0M1233.8 162.1V175.1M1231.9 154.8V158.4M1233.1 138.8h0M1236.3 175.4h0M1234.6 169.1h0M1234.5 166.7h0M1236.5 163.6V175.6M1235 159.9h0M1234.6 152.3h0M1234.4 145.3h0M1235 141.5h0M1237.5 166.8V175.8M1239.6 163.2h0M1238.4 156.1h0M1239.6 148.4h0M1240.6 169.6V178M1242.1 165.9h0M1241.2 151.8h0M1240.9 181.6V185M1243.1 170.8h0M1241.4 165.3h0M1241.9 162.1h0M1242.7 170.9V185M1244.3 168h0M1243.9 159.2V162.4M1242.4 145.7V148.4M1244 128.1h0M1243.2 127.1h0M1245.8 171.5V185M1245.6 165.5h0M1246.5 159.7h0M1247.2 153.6h0M1247.2 146.6h0M1247.8 176.5V185M1249.5 171.2h0M1247.6 152.5V157.9M1249.8 149.1h0M1249.7 146.7h0M1252.5 172.9V185M1252.3 169.7h0M1250.1 150.3V153.6M1250.4 143.8h0M1251.6 140.1h0M1253.6 182.2V185M1252.6 176.8h0M1253.3 172.8h0M1255.6 179.5V185M1256.8 174.2h0M1257 182.2V185M1258.9 169.4V175.2M1257.1 160.6h0M1259.1 155.1h0M1258 154.1h0M1258.2 170.7V180M1258.2 167.2h0M1260.2 160.4h0M1258.9 154.7h0M1257.7 152.3h0M1262.3 168.7V172.5M1260.5 160h0M1262.4 150.5h0M1263.6 165.6V172.6M1266 156.2V158.9M1266 148.4h0M1265.6 164.4V173.1M1266.3 157.4V160.7M1267.5 151.4h0M1267.2 161.9V173.5M1267.7 153.9V159.5M1266.6 146.8h0M1267.2 140.4h0M1268.4 130.2h0M1267.4 128.5h0M1269.8 160.5V174.2M1270.5 151.6V157.4M1270.1 141.9h0M1268.6 132.8V135.8M1270.8 125.9h0M1270.1 119.5h0M1273.6 163.6V174.8M1273.2 157.9V160.8M1273.1 148.4h0M1273.3 141.3h0M1272.9 172.3V175.2M1274.5 160.3V166.7M1273.5 150.5V156.4M1274.9 147.1h0M1272.9 138.4h0M1273.9 131.4h0M1275.3 172.1V175.8M1276.2 165.3h0M1279.3 170.4V176.5M1278.8 167.3h0M1280.3 174.2V176.9M1281.2 160.2V166.8M1281 154.5V157.1M1281.7 149h0M1279.4 141.7h0M1279.8 129.5V132M1279.4 121.7h0M1282.6 163.3V177.4M1281.5 148.8V151.4M1282.1 137.4h0M1284.4 177.9h0M1285.7 172.9h0M1286.6 169.3V178.5M1287.2 155V158.5M1285 149.2h0M1287.2 143.8h0M1285.7 135.3V137.7M1286.2 119.9h0M1286.1 119.2h0M1288.4 170.2V179M1287.8 149.7h0M1288.1 147.1h0M1290.5 174.1V179.6M1290.4 167.7h0M1289.5 165.3h0M1294.6 171.1V178.2M1294.1 159.1h0M1294.5 152.1h0M1295 167.8V175.1M1295.3 162.2h0M1296.3 155.2h0M1296 167.8V170.4M1296.8 152.4V161.2M1297.1 145.7V149.4M1295.5 132.7h0M1297.6 126.6h0M1295.6 113.8h0M1297 162.9V165.8M1297.9 150.5V156.8M1298.9 148h0M1298.1 130.1h0M1298.8 154.6V158.4M1298.3 144.9h0M1298.7 131V138M1298.3 130.5h0M1302.3 145.6V152M1302.1 139.4h0M1301.9 133.5h0M1300.2 125.8h0M1300.2 112.6h0M1305.6 152h0M1305.5 142.3V146M1303.9 134.8h0M1307.4 148.4V152M1307.1 138.8h0M1307 123V129.3M1308 119.5h0M1307.6 112.9h0M1310.4 148.1V152M1310.7 138.8h0M1308.4 130.2h0M1310.1 128.6h0M1312.5 145.6V152M1312 138h0M1314.3 145.3V152M1314 136.3h0M1312.6 134.7h0M1316.7 149.5V152M1318.7 143.3h0M1317.6 135.1h0M1318.3 146.5V152M1320 143.5h0M1317.7 137.2h0M1318.9 135.7h0M1320.3 156h0M1320 139.7h0M1323.4 174.3V178M1322.2 168h0M1325.9 161.8h0M1324.6 153.8h0M1327.1 143.5V147M1327.7 138.2h0M1329.9 138.3V147M1329.1 127.7h0M1330.6 122.4h0M1330.5 108.2h0M1330.4 141.5V147M1331.6 132.6h0M1329.7 128.7h0M1334.8 182V189.3M1332.5 178.8h0M1333.7 170.6h0M1336 179V189.9M1334.8 176.6h0M1335.9 166.6h0M1335.5 159.5h0M1339.1 186.7V190.5M1338.7 183.7h0M1340.7 187.1V191M1340.2 184.4h0M1343 181.8V191M1341.8 175.1V178.1M1341.5 167.2h0M1346.5 185V191M1345.8 179.2V182.3M1345.6 171.2h0M1348.2 185.5V191M1346.6 175.9h0M1346.6 174.3h0M1351.5 178.1V191M1351.4 168.4V175M1351.8 159.8V165.8M1351.3 156.1h0M1350.3 187.3V191M1350.2 181.7h0M1352.9 185.4V191M1354 179.6h0M1353.5 172.2h0M1356.4 191h0M1357 180.1V183.6M1356.3 176h0M1358 180.4V189.8M1359.2 176.9h0M1359.9 167.6h0M868.8 168h0M867.4 159.5h0M868.4 150h0M876.7 157.9V163.7M876.1 145h0M894.4 155.1V161M895.8 145h0M913.4 147.4V153.5M914.9 137.4V140.7M913.5 129h0M920.4 127.7V131M920.5 118h0M935.5 135.2V141.6M934.3 126h0M966.9 136h0M966.3 123h0M977.7 134.4h0M977 127.8h0M977.4 120.6h0M978.1 109h0M994.7 145.5h0M994.6 130.7h0M994.7 125h0M1007.6 129.2V133M1007.5 123h0M1007.3 120h0M1034.7 130.1h0M1035.2 117.8V120.4M1035.2 115h0M1046.9 126.9V133M1046.3 117.2h0M1045.4 112h0M1097.7 128.5V134M1097.5 113.5h0M1098 107h0M1098.4 101h0M1140.4 129.9V136.8M1139.3 122.9h0M1139.4 113V116M1140.2 100.6h0M1139.5 95h0M1159.6 149.9V153M1159.5 134.4V136.9M1160.2 112h0M1184.6 163h0M1185.4 150.3V156.6M1184.8 137.7V140.5M1184.9 131.2h0M1184.1 125h0M1209.6 147V153.5M1210.3 137.2V141.1M1210.8 131.5h0M1209.5 124h0M1210.3 116h0M1209.8 110h0M1240.5 154V157M1240.6 141.7h0M1239.6 125h0M1265.8 146.3V153.8M1265.9 137.2V139.6M1265.2 120.4h0M1265.8 118h0M1300.1 138V141.7M1299.1 125V128.9M1300.6 118.3h0M1299.5 111.6h0M1299.5 110h0M1324.7 138.6V141.7M1324.9 132.6h0M1325.5 109.4V113.3M1324.6 105h0M1330.5 121.9V131M1329.4 109.4V115.8M1329.5 95.3h0M1329.2 95h0M1332.3 162.8V173M1333.6 152.9V155.7M1333.2 150h0M1353 166.4V175M1352.7 162.9h0M1352.4 150.6V156.7M1352.3 150h0M1358.8 175h0M1359 165h0M673 145.3h0M673.4 151.4h0M731 150.8h0M597 160.3h0M503.5 150.3h0M852 133.8h0M843 134.3h0M1366 133.8h0M127 162.3h0M1007 123.8h0M920 121.3h0M753 172.8h0M444.5 285h0M134.3 328.8h0M1251 341.8h0M1142 97.2V139.9M1141.7 92.1h0M1141.8 81.6h0M1141.9 75.4h0M1142 66.8h0M1141.7 63.3h0M1141.9 58h0M1328.5 116.4V134M1329.5 112.5V134M1330.5 116.4V134M1330 110.8h0M1330.1 102.2h0M1329.8 98.1h0M1329.4 96h0M1365.3 165.1V174.2M1365.5 161.6h0M1365 154.3h0M1365.6 148.6h0M1365.5 142.4h0M1365.6 132.6h0M1365.6 131h0M978 125.2V137.4M978.4 120.1h0M978.1 114.6h0M977.6 109h0M1361.6 169.8H1368.9M1376.2 169.8H1378.8M1386.5 169.8H1393.5M1401.3 169.8H1404M1362.2 175.2H1369.9M1376.4 175.2H1384.5M1392.8 175.2H1397.1M1360.2 180.7H1370.1M1378 180.7H1384.1M1391 180.7H1399.1M1361.4 186.2H1373M1379.4 186.2H1388.6M1395.5 186.2H1399.5M1360.6 191.6H1370.2M1376.7 191.6H1387.2M1395.2 191.6H1404M1360.1 197.1H1365.7M1373.7 197.1H1390.5M1397.5 197.1H1404M1341.7 175.2H1347.6M1355.4 175.2H1357M1344.4 180.7H1347.3M1355.5 180.7H1357M1341.7 186.2H1343.6M1352.4 186.2H1357M1344.2 191.6H1349.2M1355.6 191.6H1357M1341.5 197.1H1346.2M1353 197.1H1357" fill="none" stroke="#1f77b4" stroke-width="5.56" stroke-linecap="round"/>
<path d="M116.5 178.6 117.5 175.8 118 173.5 118.5 173.2 119.5 175 120 176.6 120.5 176.3 121.5 174.5 122 172.8 122.5 173.4 123.5 176.5 124 177.9 124.5 176.8 125.5 174.8 126 173.8 126.5 175.6 127.5 177.9 128 178.1 128.5 177.6 129.5 176.7 130 174.8 130.5 178.4 131.5 187.4 132.5 194.7 133 197.6 133.5 193.5 134.5 184.7 135.5 174.7 136 170.1 136.5 173.3 137.5 177.2 138 177.9 138.5 176.1 139.5 174.6 140 173.7 140.5 174 141.5 175.8 142.5 177.4 143 176.9 143.5 175.3 144.5 174.1 145 173.9 145.5 175.3 146.5 177.3 147 178.4 147.5 176.7 148.5 173.6 149 173.6 149.5 176.2 150.5 180.2 151 183.3 151.5 181.1 152.5 175.6 153 173.1 153.5 175.9 154.5 182 155 186.2 155.5 185 156.5 181.8 157.5 180.4 158 180.3 158.5 192.6 159.5 216.5 160.5 240.9 161.2 257.9 161.5 243.3 162.5 196 163 172.4 163.5 185.4 164.5 212 165 226 165.5 210.3 166.5 178.4 167.5 187.1 168 192.2 168.5 188.5 169.5 180.8 170 178.3 170.5 183.6 171.5 192.2 172.5 201.8 173 207.1 173.5 203.9 174.5 199.3 175 196.7 175.5 196.8 176.5 199.7 177 201.8 177.5 199.5 178.5 193.9 179.5 185.5 180 179 180.5 181.3 181.5 188.1 182.5 193.6 183 194.8 183.5 192.7 184.5 190.9 185 190 185.5 193.3 186.5 200.9 187.5 209.3 188 213.4 188.5 206.6 189.5 193.2 190.5 179.9 191 174.5 191.5 181.1 192.5 190.7 193.5 200.9 194 207.8 194.5 204.2 195.5 194.7 196.5 183.6 197 177 197.5 178.3 198.5 183.4 199 185.5 199.5 181.4 200.5 177.1 201 175.9 201.5 175.6 202.5 176 203 176.6 203.5 179.7 204.5 184.6 205.5 188.8 206 190.6 206.5 188.2 207.5 183.1 208 179.6 208.5 181.6 209.5 186.3 210 188.1 210.5 186.8 211.5 184.3 212.5 181.5 213 179.8 213.5 183.2 214.5 190 215 193 215.5 191.1 216.5 187.7 217.5 184.2 218 183 218.5 181.8 219.5 178 220.5 172.9 221 170.1 221.5 172.5 222.5 176.7 223.5 180 224 180.7 224.5 181.9 225.5 187.5 226.5 194.3 227 197.4 227.5 195.8 228.5 190.9 229.5 184.6 230 182.2 230.5 181.3 231.5 178.5 232.5 175.3 233 173.5 233.5 172.2 234.5 170.6 235.5 170.2 236 170.3 236.5 171.4 237.5 173.4 238.5 175.9 239 177.2 239.5 175.9 240.5 173.8 241.5 171.6 242.5 169.4 243 168.4 243.5 171.7 244.5 178.1 245 181.4 245.5 179.7 246.5 176.7 247 175.9 247.5 176.2 248.5 177.4 249.5 179.4 250 180.5 250.5 180.2 251.5 178.6 252.5 176.9 253 177.3 253.5 179.8 254.5 181.1 255.5 182 256 182.8 256.5 180.9 257.5 176.7 258 173.6 258.5 180 259.5 192.1 260 197.1 260.5 193.1 261.5 184.2 262 179 262.5 181.9 263.5 188 264 190.7 264.5 191.2 265.5 192.8 266.5 194.3 267 194.8 267.5 191.3 268.5 183.2 269 179 269.5 182.6 270.5 188.1 271 189.4 271.5 186.3 272.5 182.2 273 179.8 273.5 180.7 274.5 182 275.5 183 276 184.7 276.5 183.7 277.5 180.7 278.5 177.8 279 176.5 279.5 177.6 280.5 179.3 281.5 179.6 282.5 178.5 283 177.9 283.5 176.3 284.5 174.8 285.5 175.8 286.5 176.4 287 176 287.5 177.8 288.5 180.8 289.5 182.3 290 184.1 290.5 183.7 291.5 182.3 292.5 180.8 293 180.8 293.5 180.5 294.5 179.2 295.5 178.6 296.5 178.1 297 177.8 297.5 179 298.5 181.7 299.5 185.2 300 187.3 300.5 185.3 301.5 182 302.5 179.8 303 178.8 303.5 178.8 304.5 179.7 305.5 180.8 306 180.9 306.5 180.2 307.5 178.6 308.5 177 309.5 176.1 310 175.2 310.5 175.2 311.5 176.4 312.5 177 313 176.9 313.5 178.2 314.5 180.6 315.5 182.5 316 183.2 316.5 181.7 317.5 178.7 318 177.3 318.5 178.6 319.5 180.8 320.5 182.9 321.5 184.9 322 185.5 322.5 184.1 323.5 181.6 324.5 178.1 325 176 325.5 176.5 326.5 177.4 327.5 178.4 328 178.8 328.5 178.7 329.5 179 330.5 179.8 331.5 179.6 332 179.1 332.5 179.2 333.5 179.1 334.5 178.5 335.5 177.9 336 178.7 336.5 179.7 337.5 179.1 338.5 179 339.5 179.7 340 179.6 340.5 178.8 341.5 178.6 342.5 178.9 343.5 179.1 344.5 178.8 345 178.1 345.5 178.7 346.5 179.5 347.5 178.6 348.5 178.1 349.5 178.7 350 179.2 350.5 179 351.5 178 352.5 176.9 353.5 176.9 354 177.5 354.5 176.2 355.5 174 356.5 173.4 357 173.7 357.5 174 358.5 174.5 359.5 175 360 173.7 360.5 175.3 361.5 178.9 361.7 179.6 362.5 178.3 363.5 176.7 364.3 174.8 364.5 174.5 365.5 174.2 366.5 173.4 367.5 172.3 368.5 171.3 368.5 171.2 369.5 171 370.5 171.1 371.5 172.5 371.9 173.1 372.5 172.6 373.5 172.3 374.5 171.6 375.5 170.2 376.5 168.8 377.1 169 377.5 170.5 378.5 172.1 379.5 173.2 379.6 172.6 380.5 171.3 381.5 171.1 382.5 172.2 383.5 172.9 383.9 173.1 384.5 172.7 385.5 171.9 386.5 171.3 387.5 171.2 388.5 171.1 389 171.1 389.5 171.3 390.5 171.3 391.5 171.5 392.5 171.8 393.5 172.2 394.1 172.1 394.5 171.6 395.5 172 396.5 172.8 397.5 172.9 398.5 173.1 399.2 172.9 399.5 172.5 400.5 173 401.5 174 402.5 174.9 402.7 174.8 403.5 174.1 404.5 174.1 405.5 174.9 406.5 174.9 407.5 174.1 407.8 174.3 408.5 174.6 409.5 174.4 410.5 174.3 411.5 174.6 412.5 174.9 412.9 174.6 413.5 174.1 414.5 173.4 415.5 172.8 416.5 172.5 417.5 171.9 418 171.4 418.5 171.5 419.5 171.8 420.5 171.9 421.5 171.6 422.5 171.6 423.5 172.2 424.5 172.4 424.8 172.2 425.5 171.7 426.5 171 427.5 170.5 428.3 170.6 428.5 170.9 429.5 169.9 430.5 168.8 431.5 168.3 431.7 168.3 432.5 168.9 433.5 169.2 434.5 169.8 435.1 170.7 435.5 170.7 436.5 170.8 437.5 172.2 438.5 172.9 439.4 172.6 439.5 172.7 440.5 172.5 441.5 172.3 442.5 172.4 442.8 172.6 443.5 175.4 444.5 178.1 444.5 177.4 445.5 173.5 446.2 171 446.5 172.2 447.5 174.4 448.5 175.8 448.7 176.4 449.5 175.9 450.5 174.8 451.5 173.1 452.2 171.2 452.5 171.2 453.5 172.3 454.5 173 455.5 174 455.6 174.8 456.5 174.2 457.5 172.7 458.5 171.5 459 170.7 459.5 170.4 460.5 170.7 461.5 171.7 462.5 172.9 463.5 173.1 464.1 172.5 464.5 171.9 465.5 172 466.5 173.6 467.5 174.8 467.5 174.2 468.5 174.2 469.5 173.9 470.5 173.3 470.9 173.9 471.5 174.6 472.5 174.5 473.5 174.6 474.3 174.7 474.5 174.3 475.5 175.1 476.5 175.8 476.9 175.6 477.5 174.1 478.5 170.8 478.6 169.9 479.5 172.8 480.5 175.9 481.5 178.8 481.5 178.9 482.5 178.3 483.5 177.4 484.5 176.3 484.6 176.2 485.5 176.3 486.5 176.7 487.5 176.3 488.5 175.5 489.5 175.4 489.7 176.1 490.5 176.3 491.5 175.8 492.5 175.5 493.5 175.1 494.5 174.9 494.8 175.2 495.5 175.6 496.5 175.3 497.5 174.8 498.2 175.1 498.5 175 499.5 174.1 500.5 173.2 501.5 172 501.6 171.8 502.5 171.4 503.5 170.8 504.2 170.2 504.5 169.8 505.5 169.4 506.5 168.5 506.8 167.8 507.5 167.4 508.5 167.5 509.3 167.6 509.5 167.8 510.5 168.1 511.5 168.2 511.9 168.4 512.5 168.3 513.5 168.1 514.4 168.2 514.5 168.3 515.5 168.9 516.5 169.7 517 169.6 517.5 168.1 518.5 166.1 519.2 165.1 519.5 166.1 520.5 168.8 521.3 170.4 521.5 169.7 522.5 170.2 523.5 170.9 524.5 171 524.7 171.5 525.5 172.7 526.5 173.5 527.5 173.7 528.5 173.6 528.9 173.7 529.5 174.1 530.5 174.3 531.5 175 532.5 175.6 533.5 175.5 534.1 175.4 534.5 175.7 535.5 176 536.5 175.9 537.5 175.7 538.5 175.2 539.2 174.4 539.5 174.7 540.5 175.6 541.5 175.7 542.5 175.8 542.6 175.9 543.5 175.9 544.5 175.7 545.5 175.5 546 176 546.5 176.7 547.5 176.9 548.5 177.2 549.4 177.1 549.5 176.6 550.5 178.9 551.5 181.4 551.5 181.4 552.5 177.4 553.5 173.9 553.7 172.8 554.5 171.5 555.5 171.7 556.2 171.7 556.5 171.3 557.5 171.2 558.5 171.1 559.5 171.3 560.5 171.7 560.5 171.8 561.5 171.2 562.5 171.1 563.5 172.9 564.5 173.9 564.8 173.4 565.5 173 566.5 172.5 567.5 171.9 568.5 172.1 569 171.9 569.5 171.3 570.5 171.6 571.5 171.7 572.5 171.6 573.3 172.8 573.5 173 574.5 172.1 575.5 172 576.5 171.6 577.5 171.3 577.6 171.6 578.5 171.7 579.5 172 580.5 172.7 581.5 173 581.8 172.4 582.5 171.3 583.5 171.4 584.5 172.3 585.5 172.3 586.5 172.2 587 172.2 587.5 172.2 588.5 172.8 589.5 173.5 590.4 173.4 590.5 173.7 591.5 178.4 592.5 182.6 592.9 183.9 593.5 180.7 594.5 175.5 594.6 175 595.5 174.8 596.5 174.3 597.5 174.1 598.1 174 598.5 174 599.5 173.4 600.5 172.7 601.5 172.6 602.3 173 602.5 173.3 603.5 172.9 604.5 173.1 605.5 173.2 605.7 172 606.5 170.2 607.4 169.1 607.5 170.9 608.5 180.5 609.1 185.9 609.5 184.8 610.5 181.6 610.9 179.5 611.5 174.9 611.7 174.7 612.5 174.5 613.5 173.8 614.5 173.6 615.1 173.3 615.5 174.9 616.5 177.4 616.8 177.2 617.5 175.3 618.5 173.1 619.4 170.8 619.5 171.3 620.5 175.3 621.5 179.5 621.9 181.3 622.5 179.5 623.5 177.1 624.5 174.7 624.5 174.4 625.5 176.2 626.5 178.5 627.1 179.4 627.5 178.4 628.5 176.6 629.5 173.8 629.6 173.2 630.5 174.9 631.5 175.9 632.5 175.8 633 175.6 633.5 175.7 634.5 175.5 635.5 175.8 635.6 176.5 636.5 177.6 637.5 178.8 638.2 179.7 638.5 180.8 639.5 184.4 639.9 185.5 640.5 182.7 641.5 179.6 642.5 176.7 643.3 173.4 643.5 173.7 644.5 176.8 645.5 178.8 645.8 179.1 646.5 180 647.5 180.8 648.4 181.7 648.5 182 649.5 181 650.5 179.8 651.5 178.9 651.8 179 652.5 179.8 653.5 180 654.5 180.8 655.2 181.9 655.5 181.6 656.5 181.4 657.5 180.9 658.5 179.5 658.6 178.9 659.5 180 660.5 181.1 661.2 181.5 661.5 181 662.5 180.2 663.5 178.9 664.5 177.2 664.6 177.4 665.5 176.4 666.5 175 667.2 174.9 667.5 175.2 668.5 173.3 668.9 171.8 669.5 171.5 670.5 171.2 671.5 170.4 672.3 169.5 672.5 169.7 673.5 171.2 674.5 172 675.5 172.8 675.7 173 676.5 174.5 677.5 176.5 677.9 177.1 678.5 174.1 679.5 169.7 680 168.2 680.5 169.6 681.5 171.1 682.5 172.3 682.5 172.2 683.5 170.5 684.5 168.5 685.1 167.5 685.5 168.5 686.5 169.5 687.5 170.6 687.6 171.5 688.5 170.2 689.5 168.4 690.2 166.9 690.5 167 691.5 168.7 692.5 170 693.5 170.7 693.6 170.8 694.5 170.1 695.5 169.9 696.5 170.2 697 170.4 697.5 169.9 698.5 168.7 699.5 167.4 700.4 166.5 700.5 166.8 701.5 168.7 702.5 170.8 703.5 173.1 703.9 173.3 704.5 173.1 705.5 173.4 706.5 172.2 707.3 171.3 707.5 172.1 708.5 171 709.5 168.7 709.8 167.8 710.5 171.7 711.5 177.5 712.4 181.6 712.5 181 713.5 178.8 714.5 176.2 715.5 172.8 716.5 169.7 716.7 169.9 717.5 172.5 718.5 174.5 719.2 174.8 719.5 174.6 720.5 174.8 721.5 175.1 721.8 175.4 722.5 174.1 723.5 172.4 724.5 171.3 725.2 170.8 725.5 171 726.5 170.3 727.5 168.9 728.5 167.8 728.6 167.9 729.5 169.9 730.5 171.7 731.2 171.9 731.5 170.6 732.5 170.3 733.2 170.6 733.5 171 734.5 173.1 735.5 175.9 736.3 178 736.5 177.1 737.5 174.3 738.3 172.3 738.5 172.8 739.5 175.5 740.5 178.5 741.1 180.9 741.5 179.5 742.5 175.1 743.1 172.3 743.5 172.6 744.5 172.8 745.5 172.1 746.5 171.9 746.5 172.1 747.5 172.5 748.5 173.3 749.1 174.4 749.5 173.6 750.5 170.8 750.8 169.8 751.5 169.8 752.5 170.2 753.5 171.1 754.2 171 754.5 170.2 755.5 169.3 756.4 168.2 756.5 168.5 757.5 170.6 758.5 172.5 759.3 174 759.5 173.5 760.5 172.5 761.5 172.1 761.9 172 762.5 173.8 763.5 176.5 763.6 176.5 764.5 174.7 765.5 172.7 766.1 171 766.5 171.3 767.5 172.3 768.5 173.1 769.5 174.3 770.4 175.5 770.5 174.8 771.5 172.3 772.5 170.3 773 169.4 773.5 169.6 774.5 170.2 775.5 170.4 776.4 170.2 776.5 169.7 777.5 167.6 778.1 166.3 778.5 166.7 779.5 168.3 780.5 170.8 780.6 171.7 781.5 170.6 782.5 169.3 783.2 168.4 783.5 167.6 784.5 167.8 785.5 169.2 785.8 170.2 786.5 170.6 787.5 169.9 788.5 168.7 789.5 168.8 790.5 168.4 790.9 167.5 791.5 167.1 792.5 166.7 793.5 165.2 794.3 164 794.5 163.4 795.5 161.5 796 161 796.5 161.8 797.5 163.2 797.7 163.3 798.5 162.6 799.5 162 800.5 161.2 801.5 160.1 802.5 158.9 802.8 158.8 803.5 159.5 804.5 160.4 805.5 160.5 806.2 160.2 806.5 161.3 807.5 164.6 808.3 166.1 808.5 164.1 809.5 161.1 810.5 159.8 811.4 158.7 811.5 158.7 812.5 160.4 813.5 163 814.5 165.1 814.8 164.7 815.5 161.8 816.5 159.1 817.5 156 818.2 154 818.5 155.2 819.5 156.3 820.5 157.3 820.8 158.5 821.5 157.8 822.5 156.6 823.3 155.7 823.5 155.2 824.5 156.2 825.4 158.6 825.5 158.5 826.5 152.3 827.5 146.6 827.6 147.1 828.5 153.9 829.3 159.1 829.5 158.3 830.5 157.1 831.5 156.8 831.5 156.6 832.5 160.3 833.5 164.7 834.5 167.9 834.9 169 835.5 167.1 836.5 162.9 837.3 158.8 837.5 158.2 838.5 158.9 839.5 159.4 840.4 159.3 840.5 160.4 841.5 164.4 842.5 166.5 842.9 167.2 843.5 168.8 844.5 170.7 845.5 172.2 845.5 171.6 846.5 168.9 847.5 166.5 848.5 164 849.4 160.9 849.5 159.7 850.5 162.2 851.5 166.4 852.3 170.4 852.5 171.2 853.5 172.1 854.5 172 855.1 172.6 855.5 174.8 855.7 176.2 856.5 182.7 857.5 191.2 857.7 192.2 858.5 184.3 859.5 175.8 860.2 170.1 860.5 172.3 861.5 180.3 862.5 188.3 862.8 188.7 863.5 180.5 864.5 170.7 864.5 171.4 865.5 184.9 866.5 197.1 867.1 203.3 867.5 202.5 868.5 199.1 869.5 193.4 869.6 193.7 870.5 206.8 871.5 216.6 872.2 219.3 872.5 213.2 873.5 203.1 874.5 192.8 874.7 187.9 875.5 192.8 876.5 200.1 877.3 204.1 877.5 202.5 878.5 196.4 879.5 189.9 880.5 179.8 880.7 176.7 881.5 180.2 882.4 182.7 882.5 184.3 883.5 210.7 884.1 226 884.5 218.6 885.5 202.2 886.5 184.6 887.2 169.8 887.5 170.7 888.5 182 889.5 195.7 890.1 205.6 890.5 210.7 891.5 218.5 892.5 225.6 892.7 227.8 893.5 223.6 894.5 217.6 895.5 211.3 896.1 208.1 896.5 212.3 897.5 220.8 898.5 228.5 899.5 236.5 899.5 236.8 900.5 222 901.5 207.3 902.5 195.4 902.9 191.5 903.5 192.5 904.5 192.9 904.6 192.5 905.5 208.9 906.3 223.2 906.5 219.6 907.5 209.3 908.5 200.2 908.9 195 909.5 198 910.5 204.7 911.5 209.9 912.5 214.9 913.1 218.7 913.5 215.3 914.5 206 914.8 202.8 915.5 200.2 916.5 198.9 917.5 198.8 918.3 198.7 918.5 197.2 919.5 184.2 920.5 168.5 921.3 156.7 921.5 160.9 922.5 177 923.5 192.5 924.2 202.2 924.5 201.5 925.5 205.2 926.5 210 926.8 210.4 927.5 203.1 928.5 195 928.5 195.7 929.5 208.4 930.2 218.6 930.5 219.2 931.5 214.8 932.5 208.8 932.8 205.4 933.5 204.8 934.5 206.6 935.3 207.9 935.5 206.9 936.5 203.4 937.5 200.6 938.5 195.7 938.7 193 939.5 194.2 940.4 196.7 940.5 196.6 941.5 193 942.2 192.1 942.5 194.8 943.5 197.9 944.5 200.4 945.5 204.7 945.6 206.4 946.5 205 947.5 202.4 948.1 198.9 948.5 198.8 949.5 201.6 950.5 202.6 950.7 202.1 951.5 204 952.5 206.2 953.5 210.1 954.1 213.9 954.5 209.4 955.5 193.6 955.8 186.7 956.5 193.4 957.5 203.4 958.4 210.4 958.5 210.4 959.5 204.3 960.5 196.7 960.9 192.5 961.5 191.3 962.5 190.9 963.5 193.7 964.3 195.3 964.5 193.1 965.5 185.7 966.5 177.6 966.9 173.4 967.5 176.9 968.5 183.2 969.5 189.1 969.5 188.8 970.5 181.1 971.5 172.6 972 168.6 972.5 172.2 973.5 180.9 974.5 190.1 975.5 197.4 976.3 202.8 976.5 202.8 977.5 198.1 978.5 191.9 979.5 186.2 980.5 180.1 980.5 180 981.5 187.1 982.3 191.8 982.5 194.2 983.5 199.8 984.5 203.9 985.5 209.4 985.7 209.6 986.5 203.3 987.5 198.1 987.9 197.5 988.5 198.4 989.5 198.6 989.9 199.1 990.5 201.8 991.5 206.8 992 208.6 992.5 204.6 993.5 198.9 994.2 195.3 994.5 200.4 995.5 213.8 995.9 216.4 996.5 210.3 997.5 204.9 998.5 203.3 999.5 201.7 1000.2 198.8 1000.5 198.2 1001.5 198.3 1002.5 198.8 1003.5 200.5 1003.6 200.3 1004.5 194.3 1005.5 189 1006.5 182.9 1007 180 1007.5 183.9 1008.5 190.5 1009.5 196.7 1009.6 197.1 1010.5 192 1011.5 187.8 1012.1 186.3 1012.5 184.5 1013.5 181.7 1014.5 180.6 1014.7 179 1015.5 184.5 1016.5 194.5 1017.5 203.1 1018.5 209.7 1018.9 213 1019.5 210.4 1020.5 206.4 1020.6 207 1021.5 205.7 1022.4 203.3 1022.5 202.2 1023.5 198.3 1024.5 193.8 1025.5 189.8 1026.5 185.8 1027.5 179.9 1027.5 179.3 1028.5 185.5 1029.5 190.2 1030.5 194.7 1030.9 198 1031.5 196.8 1032.5 190.8 1033.4 184.9 1033.5 188.9 1034.5 203.8 1035.5 214.1 1036 217 1036.5 214.3 1037.5 211.1 1038.5 206.8 1039.4 201 1039.5 200.5 1040.5 205.1 1041.5 207.8 1042.5 208.8 1042.8 210.2 1043.5 200.8 1044.5 185.2 1044.5 185.3 1045.5 199.9 1046.5 214 1047.1 220.9 1047.5 216.6 1048.5 209.8 1048.8 209.8 1049.5 213.9 1050.5 217.6 1051.4 222.5 1051.5 223.4 1052.5 216.2 1053.5 207.5 1054.5 198.8 1054.8 195.9 1055.5 201.7 1056.5 209.4 1057.5 217.6 1058.2 223.6 1058.5 219.5 1059.5 209.7 1060.5 202.9 1061.5 196.7 1061.6 195.9 1062.5 197.5 1063.5 200.6 1064.2 202.9 1064.5 204.2 1065.5 208.7 1066.5 214.4 1066.7 215.5 1067.5 205.6 1068.4 195.1 1068.5 196.6 1069.5 207.2 1070.5 217.8 1071 221 1071.5 217.8 1072.5 216.2 1073.5 214.4 1074.5 209.9 1075.3 206.6 1075.5 208.9 1076.5 218.4 1077.5 228.7 1078.5 237.6 1078.7 237.5 1079.5 228.5 1080.5 217.8 1081.2 207.4 1081.5 205.7 1082.5 202.8 1083.5 200.7 1084.5 202.7 1085.5 204 1085.5 201.8 1086.5 204.3 1087.2 208.8 1087.5 209.7 1088.5 207.7 1088.9 206.2 1089.5 206 1090 205.4 1090.5 205.9 1091.5 209.6 1092.5 212.9 1092.6 213.6 1093.5 209 1094.5 202.8 1095.5 197.2 1096 193.4 1096.5 197.5 1097.5 208.8 1098.5 219 1098.5 219 1099.5 214.4 1100.5 209 1101.5 202.2 1101.9 197.5 1102.5 199.9 1103.5 207.4 1104.5 213.4 1105.4 216.5 1105.5 214.3 1106.5 205.1 1107.5 195.8 1107.9 190.5 1108.5 191.5 1109.5 195.1 1110.5 197.1 1111.5 199.6 1112.2 202.4 1112.5 201.4 1113.5 199.7 1114.5 200.3 1115.5 200 1115.6 200 1116.5 212 1117.3 219.3 1117.5 215.4 1118.5 209.7 1119.5 203.8 1119.9 199.8 1120.5 199.8 1121.5 202.7 1122.5 205.3 1123.5 206.7 1124.1 208.9 1124.5 208.7 1125.5 203.5 1126.5 196.8 1126.7 196 1127.5 198.3 1128.4 202.1 1128.5 203.8 1129.5 201.2 1130.5 199.9 1131 200 1131.5 197.7 1132.5 197.5 1133.5 200 1133.5 199.4 1134.5 191.3 1135.5 185.1 1136.5 181 1136.9 179.8 1137.5 184.2 1138.5 193.3 1139.5 202.9 1139.5 203 1140.5 194.9 1141.5 184.9 1142 178.5 1142.5 183.8 1143.5 193.2 1144.5 200.4 1145.5 207.1 1145.5 205.9 1146.5 200.3 1147.5 194.6 1148 190.5 1148.5 191.7 1149.5 195.7 1150.5 199.5 1150.6 199.4 1151.5 199.3 1152.5 199.6 1153.1 198.6 1153.5 197.4 1154.5 196.3 1155.5 196.4 1156.5 196.6 1156.6 196 1157.5 204.8 1158.5 214.6 1159.5 225.6 1160 231.7 1160.5 227.5 1161.5 215.6 1162.5 202.6 1162.5 202.6 1163.5 218.5 1164.2 230.1 1164.5 226.4 1165.5 216.8 1166.5 209.7 1166.8 206.7 1167.5 203.7 1168.5 202.6 1169.4 203.6 1169.5 204.9 1170.5 211.6 1171.5 219.3 1171.9 222 1172.5 218.7 1173.5 215.1 1174.5 210.4 1175.3 203.7 1175.5 203.5 1176.5 210.9 1177.5 218.4 1178.5 224.9 1179.5 229.4 1180.4 233.2 1180.5 231.9 1181.5 223.7 1182.5 217.2 1183 215.7 1183.5 219.3 1184.5 220.7 1185.5 222.1 1185.6 224.3 1186.5 222.2 1187.5 218.7 1188.1 216.6 1188.5 216.8 1189.5 217.1 1190.5 215.6 1191.5 215 1192.4 216.3 1192.5 216.1 1193.5 213.9 1194.5 212.2 1195.5 211.2 1195.8 212 1196.5 213.3 1197.5 214.8 1198.5 216.6 1199.2 216.5 1199.5 214.8 1200.5 211.2 1201.5 207.6 1201.8 206.9 1202.5 212.6 1203.5 221.1 1204.3 230.7 1204.5 231.7 1205.5 228.2 1206.5 222.9 1207.5 218.5 1207.7 218.5 1208.5 221.5 1209.5 224.3 1209.5 223.8 1210.5 220.8 1211.5 217.9 1212.5 216.2 1213.5 214.3 1213.7 211.7 1214.5 211.2 1215.5 213.6 1216.5 218.4 1217.5 223.9 1218 226.1 1218.5 223.9 1219.5 220.4 1220.5 217.3 1221.5 214.6 1222.5 211.2 1223.1 207.5 1223.5 208.9 1224.5 215.7 1224.8 218.3 1225.5 212.9 1226.5 204.6 1226.5 206.5 1227.5 211.6 1228.5 214.4 1228.6 213.6 1229.5 207.5 1230.5 201 1231.3 195.7 1231.5 198.7 1232.5 210 1233.3 219.4 1233.5 218.4 1234.5 210.8 1235.1 207.7 1235.5 212.7 1236.5 220.9 1236.8 222.7 1237.5 223 1238.5 223.4 1239.5 224.3 1240.2 225.4 1240.5 226.9 1241.5 230.1 1242.5 234.4 1242.7 236.5 1243.5 231.7 1244.5 225.5 1245.5 219.2 1246.5 212.1 1247 207.8 1247.5 217.2 1248.5 235.1 1249.5 249.7 1249.9 254.4 1250.5 247.3 1251.5 235.4 1252.5 222.5 1253.5 211.6 1253.8 210.2 1254.5 218 1255.5 227.4 1256.4 236.2 1256.5 235.4 1257.5 227.5 1258.5 218.8 1258.9 215.5 1259.5 220 1260.5 226.4 1261.5 233.8 1262.5 241.6 1263.2 247.3 1263.5 237.7 1264.5 201.6 1265.3 173.6 1265.5 178.7 1266.5 203.4 1267.5 229.3 1268.3 249.4 1268.5 244.8 1269.5 222.2 1270 210.2 1270.5 213.6 1271.5 219.6 1272.5 224 1273.4 229 1273.5 228.7 1274.5 220.4 1275.5 213.2 1276.5 207.9 1277.5 201.7 1277.7 199.6 1278.5 206.5 1279.5 214.9 1280.5 223.5 1281.1 228.7 1281.5 223.4 1282 217.6 1282.5 223.2 1283.5 235.2 1284.5 247.5 1285.4 256.3 1285.5 254.9 1286.5 244.5 1287.5 233 1288 227.4 1288.5 231.1 1289.5 237.7 1290.5 242.4 1290.5 240.6 1291.5 226.6 1292.2 217.3 1292.5 221 1293.5 235.1 1293.9 242.1 1294.5 236.9 1295.5 226.1 1296.5 217.4 1296.5 217 1297.5 209.3 1298.5 205.8 1299.5 203.8 1299.9 200.6 1300.5 212 1301.5 235.2 1301.6 237.7 1302.5 226.4 1303.5 215.9 1304.2 209.9 1304.5 206 1305.5 195.4 1306.5 186.6 1307.5 178.9 1307.6 177.8 1308.5 200.4 1309.3 220.4 1309.5 215.9 1310.5 200.7 1311.3 190.6 1311.5 194.2 1312.5 209.7 1313.5 226.8 1313.5 228.9 1314.5 221.8 1315.5 214.3 1316.5 206.4 1317.5 198 1317.8 195.8 1318.5 211.3 1319.5 234 1320.4 253 1320.5 247 1321.5 223.6 1322.1 212.8 1322.5 222.3 1323.5 244.9 1323.8 253 1324.5 235.9 1325.5 210.4 1326.3 189.6 1326.5 188.8 1327.5 185 1328.5 182.6 1329.5 179.5 1329.8 177 1330.5 190.7 1331.5 209.7 1332.3 222.7 1332.5 227.9 1333.5 260.8 1334 275.6 1334.5 287.3 1335.4 307 1335.5 310.1 1336.5 329 1336.6 329.4 1337.5 339.1 1337.9 344.5 1338.5 324.1 1339.3 294.9 1339.5 287.7 1340.5 244.2 1340.8 233.2 1341.5 246.9 1342 254.4 1342.5 242.8 1343.5 222.8 1343.8 216.6 1344.5 234.5 1345.5 260.6 1345.6 263.3 1346.5 250.9 1347.4 237.4 1347.5 238.9 1348.5 255.4 1349.5 270.2 1350.1 278 1350.5 268.2 1351.5 246.7 1351.9 240.9 1352.5 241.6 1353.5 237.8 1353.7 235.7 1354.5 255.2 1355.5 280.2 1356.4 302.1 1356.5 301.3 1357.5 292.7 1358.2 286.6 1358.5 291.6 1359.5 307 1359.6 308.7 1360.5 263.2 1361.5 213.6 1361.7 200.6 1362.5 223.8 1363.5 256.3 1363.5 257.6 1364.5 234.8 1365.3 215.4 1365.5 220.3 1366.5 241.2 1367.1 253.5 1367.5 241.2 1368.5 205.1 1368.9 188.9 1369.5 211.7 1370.5 248.4 1371.5 281 1371.6 283.2 1372.5 257.5 1373.5 228.3 1373.7 219.9 1374.5 222.8 1375.5 228.7 1375.5 230 1376.5 262.3 1377.5 294.3 1378.2 315.9 1378.5 305.6 1379.5 270 1380.5 234.1 1380.6 230.9 1381.5 255.3 1382.5 281.9 1382.7 287.5 1383.5 258.6 1384.5 221.4 1384.5 221.2 1385.5 248.2 1386.5 275 1387.5 303 1387.7 312 1388.5 279.8 1389.5 234.4 1389.9 217.4 1390.5 234.8 1391.5 262.4 1392.2 282.5 1392.5 262.6 1393.5 197.3 1394 164.4 1394.5 185.6 1395.5 232.6 1396.5 279.4 1396.7 287.2 1397.5 269.7 1398.5 247.5 1398.8 240 1399.5 248.1 1400.5 259.4 1401.2 267.9 1401.5 258.1 1402.5 229.1 1403.5 201.6 1404.5 174.7 1404.7 167.6 1405.5 205.5 1406.5 257.8 1407.1 289.9 1407.5 272.1 1408.5 227.3 1408.9 210.2 1409.5 226.7 1410.5 254.7 1411.4 280 1411.5 276.6 1412.5 249.2 1413.5 221.7 1414.5 197.8 1415.1 184.7 1415.5 192.1 1416.5 212.8 1417.3 230.6 1417.5 227.9 1418.5 218.5 1419.5 211.5 1420.5 206.8 1420.9 204.5 1421.5 209.1 1422.5 220.8 1423.2 231.5 1423.5 234.8 1424.5 246 1425.1 255.1 1425.5 250.2 1426.5 235.3 1427.5 222.6 1428.5 210.5 1428.5 210.1 1429.5 204.4 1430.5 199.1 1431.5 194.2 1432.5 189.9 1433.3 185.9 1433.5 188 1434.5 204.2 1435.5 223 1436.2 234.7 1436.5 229.3 1437.5 216 1438.5 205.4 1438.7 205.1 1439.5 197.1 1440.5 186 1441.3 179.2 1441.5 182.2 1442.5 193 1443.5 204.9 1443.8 210.9 1444.5 198.8 1445.5 177.9 1445.5 175.3 1446.5 186.1 1447.3 196 1447.5 195.2 1448.5 189.2 1449 186.9 1449.5 188.1 1450.5 189 1450.7 187.5 1451.5 184.7 1452.4 182.8 1452.5 184.8 1453.5 188 1454.5 189.7 1454.9 188.3 1455.5 186.9 1456.5 187 1457.5 184 1457.5 181.9 1458.5 181.5 1459.5 182 1460.1 184.1 1460.5 185.5 1461.5 185.8 1462.3 184.7" fill="none" stroke="#ff7f0e" stroke-width="2.35" stroke-linejoin="round" stroke-linecap="butt"/>
</g>
<path d="M116.5 514.5v5M284.5 514.5v5M452.5 514.5v5M621.5 514.5v5M789.5 514.5v5M957.5 514.5v5M1125.5 514.5v5M1294.5 514.5v5M116.5 86.5h-5M116.5 172.5h-5M116.5 257.5h-5M116.5 343.5h-5M116.5 428.5h-5M116.5 514.5h-5" fill="none" stroke="#000" stroke-width="1.1"/>
<rect x="116.5" y="38.5" width="1346.0" height="476.0" fill="none" stroke="#000" stroke-width="1.1"/>
<text class="tk ty" x="105.4" y="94.4" text-anchor="end">2</text>
<text class="tk ty" x="105.4" y="180.4" text-anchor="end">0</text>
<text class="tk ty" x="105.4" y="265.4" text-anchor="end">−2</text>
<text class="tk ty" x="105.4" y="351.4" text-anchor="end">−4</text>
<text class="tk ty" x="105.4" y="436.4" text-anchor="end">−6</text>
<text class="tk ty" x="105.4" y="522.4" text-anchor="end">−8</text>
<rect x="1047.8" y="49" width="405.4" height="79.5" rx="3.3" ry="3.3" fill="#fff" fill-opacity="0.8" stroke="#ccc" stroke-opacity="0.8" stroke-width="1.4"/>
<circle cx="1073.3" cy="63.3" r="2.8" fill="#1f77b4"/>
<path d="M1053 101.8H1092" stroke="#ff7f0e" stroke-width="2.1" fill="none"/>
<text class="lg" x="1106" y="69.3">Raw Data</text>
<text class="lg" x="1106" y="95.8">Butterworth Filtered Data</text>
<text class="lg" x="1106" y="116.8">(N=6, Tc=3.3333 min, Type: low)</text>
<clipPath id="c2"><rect x="116.5" y="578.5" width="1346.0" height="476.0"/></clipPath>
<g clip-path="url(#c2)">
<rect x="798.55" y="575.5" width="560.05" height="482.0" fill="#d3d3d3" fill-opacity=".5" stroke="#d3d3d3" stroke-opacity=".5" stroke-width="1.39"/>
<path d="M116.5 1054.5V578.5M284.5 1054.5V578.5M452.5 1054.5V578.5M621.5 1054.5V578.5M789.5 1054.5V578.5M957.5 1054.5V578.5M1125.5 1054.5V578.5M1294.5 1054.5V578.5M116.5 600.5H1462.5M116.5 686.5H1462.5M116.5 773.5H1462.5M116.5 860.5H1462.5M116.5 946.5H1462.5M116.5 1033.5H1462.5" fill="none" stroke="#b0b0b0" stroke-width="1.1" stroke-dasharray="1.111 1.833"/>
<path d="M117 1005.3V1026.3M118 1003.4V1025.1M119 1003.7V1023.4M120 1004.3V1023.7M121 1003.2V1023.6M122 1002.4V1025.3M123 1000.6V1026M124 1001.6V1025.6M125 1003V1025M126 999.6V1024.6M127 1002.3V1023.8M128 1001.6V1024.2M129 1002.4V1024.2M130 1002.6V1024.2M131 1001.9V1024.2M132 1006.4V1024.5M133 1001.9V1025.5M134 1003.8V1026.2M135 1001.6V1023.9M136 1001.9V1024.4M137 1001.7V1026.4M138 1001.8V1026.2M139 999.9V1026.7M140 999.1V1025.1M141 997.2V1028.2M142 995.8V1027.2M143 999.9V1026.8M144 993.6V1025.9M145 992V1025.3M146 991.8V1026.2M147 991.5V1026.1M148 989V1027M149 988.4V1027.5M150 989.9V1026.5M151 987.5V1025.7M152 987.2V1026.7M153 987.8V1024.4M154 986.3V1026M155 988V1026.6M156 988V1026.2M157 988.5V1027.9M158 990.6V1026.9M159 989.8V1027.2M160 991.5V1025.4M161 995.2V1025M162 999.7V1023M163 1001.3V1024.4M164 1005.7V1026.1M165 1005.5V1026.8M166 1006.1V1026.6M167 1006.1V1026.1M168 1005.5V1025.8M169 1006.9V1025.9M170 1005.5V1023.9M171 1008V1024.6M172 1010.4V1025.8M173 1008.7V1026.6M174 1012.5V1025.9M175 1011.7V1025.5M176 1010.2V1023M177 1008.6V1024M178 1004.8V1023.7M179 1003.4V1025.3M180 1002.7V1025.4M181 1005V1025.1M182 1003.9V1022.3M183 1008.4V1024.3M184 1008.6V1024.2M185 1011V1023.8M186 1010.2V1023.3M187 1007.9V1025.3M188 1005.7V1023.9M189 1002.9V1023M190 1000.7V1024.6M191 1000.5V1025.4M192 997.2V1024.2M193 994.9V1024.1M194 992.7V1024.8M195 991.2V1024.8M196 994.2V1021.6M197 995.3V1020.6M198 995.7V1020.9M199 998.6V1021.6M200 998.6V1021.7M201 1000.5V1022.9M202 998.7V1021.9M203 1000.8V1024.6M204 1003.1V1024.4M205 1004.2V1025.5M206 1004.8V1022.7M207 1004.3V1021.2M208 998.9V1018.8M209 999.3V1019.9M210 996.2V1022.6M211 997.7V1024.6M212 997.5V1023.6M213 992.8V1021.8M214 992.3V1021.3M215 990.5V1022.3M216 988.9V1021.7M217 987.5V1021.7M218 984.9V1022.6M219 983.7V1024.2M220 983.9V1024.6M221 986.2V1022M222 988V1020.9M223 989.1V1019.7M224 988.8V1019.2M225 990.2V1019.7M226 992.3V1020M227 991.2V1020.2M228 991.3V1021.7M229 991.2V1022.6M230 989.9V1022.5M231 988.4V1021.5M232 989V1020.6M233 988.2V1020.4M234 989.7V1022.3M235 986.4V1023.4M236 987.3V1022.2M237 984.6V1021.8M238 983.1V1022.2M239 982.9V1021.4M240 982.1V1020.7M241 980.4V1019M242 980.3V1019M243 977V1020.2M244 976.4V1022.3M245 976.8V1020.3M246 976.8V1020.6M247 978.5V1019.2M248 976.6V1019.8M249 978V1020.6M250 979.4V1021.3M251 981.2V1021.3M252 980.4V1024.4M253 982V1023.8M254 985.2V1023.5M255 984.4V1021.3M256 988.4V1021.9M257 991.1V1022.4M258 992.6V1021.4M259 991.7V1021M260 991.4V1020.7M261 989V1020.3M262 985.5V1021.8M263 984.4V1020.2M264 984V1019.6M265 982.6V1018.9M266 984.1V1019.8M267 984V1020.2M268 985.7V1020.3M269 987.8V1020.1M270 990.9V1020.2M271 986.2V1018.9M272 980.9V1019.1M273 980.7V1018.4M274 975V1017.5M275 974.9V1018.8M276 975.4V1017.8M277 978V1019.2M278 973.6V1018.2M279 972.8V1018.2M280 974.3V1018.5M281 974.1V1017.3M282 972.2V1017.7M283 967.7V1016.5M284 963.6V1018.4M285 960.3V1018.8M286 958.1V1020.6M287 954.4V1021.1M288 952.5V1020M289 953.7V1018.8M290 955.9V1016.8M291 957.3V1017.2M292 959.6V1019.6M293 961.5V1019.5M294 971.6V1019.4M295 977.6V1017.7M296 984.7V1018.1M297 983V1018.5M298 978V1019.3M299 976.2V1018.2M300 971.6V1018.4M301 969.3V1018.1M302 969.4V1018.2M303 971.2V1018.7M304 970.7V1017.6M305 970.4V1017.7M306 972.1V1016.9M307 975.6V1017.7M308 972.3V1020.4M309 968.3V1021.2M310 964.2V1020.5M311 957.8V1017.9M312 952.7V1015.7M313 946.8V1018.3M314 951.6V1019M315 957.4V1017.8M316 958.8V1016.7M317 963.5V1016.5M318 966V1016.5M319 969.8V1014.4M320 973.3V1014.7M321 977.6V1015.8M322 974.2V1016.8M323 964.2V1016.1M324 953.2V1014.3M325 942.6V1015.3M326 933.3V1012.6M327 926V1013.5M328 928.7V1013.5M329 934.7V1016.2M330 937.6V1016.2M331 941V1015.6M332 943.9V1015.8M333 941.6V1015.6M334 940.1V1015.2M335 934.4V1013.5M336 934.6V1012.1M337 929.5V1010.2M338 928.4V1012.3M339 926V1011.1M340 919.3V1012.7M341 917.4V1011.6M342 919.9V1012.3M343 920.4V1011.3M344 920.5V1013.7M345 924.5V1013.8M346 924.3V1011.1M347 929V1010.2M348 933.9V1011.6M349 933.7V1011.7M350 939.2V1012.2M351 943.1V1011.9M352 945.1V1011.3M353 939.5V1009.6M354 931.1V1007.5M355 923.8V1007.5M356 913V1009M357 915V1010.4M358 912.8V1011.9M359 912.4V1010.4M360 912.1V1009.7M361 910.3V1010.5M362 910.6V1010.2M363 912.5V1009.9M364 917.9V1007.6M365 921.5V1007.6M366 925.4V1007.3M367 926.6V1008.9M368 932.6V1007.6M369 927.8V1009.8M370 926.6V1008.2M371 926.4V1008M372 920.8V1008M373 919.4V1008.4M374 918.5V1009.6M375 915.1V1008.9M376 909.5V1007.6M377 906.7V1005.8M378 904.9V1007.9M379 900.7V1007.5M380 897.2V1008.9M381 894.9V1008.7M382 891.6V1009.5M383 887.8V1009M384 887.5V1008.1M385 884.8V1008.3M386 881.6V1007.5M387 878.5V1006.4M388 875.5V1006.4M389 872.9V1005.5M390 870.4V1005.8M391 866.1V1005.3M392 863.8V1006.4M393 858.3V1006.7M394 856.1V1007.8M395 853.9V1008.3M396 850.2V1007.4M397 850.2V1006.5M398 850.5V1005.3M399 847.9V1004.9M400 847.3V1005.2M401 849.2V1005.9M402 847.8V1005.8M403 846.8V1005.9M404 849V1005.7M405 849.6V1006.6M406 850.2V1007.2M407 849.7V1006.6M408 852.6V1003.5M409 853.8V1003.8M410 853.5V1004.9M411 853.6V1006.9M412 849.4V1006.2M413 845V1005.1M414 843.6V1004.2M415 838.4V1005.8M416 835.8V1004.6M417 831.1V1004.3M418 829.7V1006.3M419 837.5V1006.7M420 840.5V1006.8M421 846.8V1006.6M422 851V1005.3M423 857.5V1005.1M424 860.5V1006.8M425 863.1V1008.4M426 864.9V1008.9M427 866.1V1006.1M428 868.7V1005.6M429 868.5V1003.4M430 871.4V1004.7M431 872V1003.5M432 874V1005.6M433 880.9V1006.1M434 885.5V1005.5M435 895.3V1004.5M436 899.1V1005.1M437 904.9V1005.8M438 910.5V1005.6M439 909.8V1005.3M440 906.9V1005.6M441 905.1V1006.1M442 906V1006.9M443 905.7V1007.2M444 903.6V1007.3M445 903.5V1006.6M446 903.3V1006.8M447 902.8V1006M448 901.6V1006.3M449 903.4V1007.3M450 899.5V1007.8M451 900.3V1007.1M452 899.9V1009.4M453 899.3V1010.5M454 896.7V1009.3M455 895.5V1008.7M456 894.1V1008.2M457 892.4V1006.3M458 892V1005.5M459 892.3V1004.4M460 890.5V1005.5M461 889.6V1006.5M462 892.7V1003.9M463 893.3V1005.3M464 894.2V1004.8M465 895.7V1005.2M466 899.8V1003.9M467 899V1006.1M468 901.6V1006M469 900.1V1006.8M470 895.3V1006.4M471 894.2V1007.6M472 895.6V1007.9M473 890.5V1007.1M474 887.9V1007.4M475 886.6V1008M476 885.7V1007.6M477 886.9V1005.1M478 885.8V1004.7M479 880.9V1005.2M480 883.3V1006.4M481 883.5V1005.2M482 881.1V1003.8M483 880.3V1003.1M484 877.4V1003.4M485 875.7V1004.6M486 870.4V1003.6M487 866.5V1004.7M488 863.6V1005.2M489 862.1V1007.3M490 858.6V1006.1M491 864.1V1006.2M492 865.9V1005.7M493 871.2V1006.3M494 874.4V1007.1M495 878.2V1006.2M496 881.8V1005.2M497 884.7V1003.5M498 887.8V1004.1M499 888.4V1004.5M500 889.2V1004.9M501 893.3V1005.2M502 896.8V1004.5M503 898.7V1005.1M504 899.5V1004.8M505 900.1V1004M506 900.5V1004.3M507 902.3V1004.3M508 905.8V1004.6M509 904.3V1004.6M510 903.6V1004.7M511 905.8V1007.3M512 907.4V1005.6M513 904.6V1005.9M514 908.9V1005.4M515 909.6V1006.8M516 905.8V1007.4M517 907.7V1006.4M518 909.6V1003.2M519 907.7V1004.9M520 911.2V1003.4M521 911.4V1006.4M522 911.5V1004.5M523 913.6V1005.4M524 915.9V1004.7M525 919.2V1005.9M526 919.6V1005.5M527 920.1V1005.3M528 926.2V1003.5M529 922.8V1003.3M530 921.5V1005.5M531 920.2V1005.3M532 920.6V1006.2M533 918V1005.8M534 916.8V1006.3M535 915.4V1004.1M536 914.5V1004.9M537 910.8V1004.4M538 908.3V1003.9M539 905.7V1005.7M540 906.3V1007.5M541 902.9V1008.5M542 899.7V1007.5M543 902.1V1007.5M544 904.8V1004.1M545 908.9V1005.3M546 912.7V1006.3M547 912.9V1005.6M548 914.9V1005.5M549 916.2V1005.1M550 915V1007M551 914.1V1005.7M552 914.1V1005.3M553 913.9V1006M554 913V1006.5M555 911.6V1006.3M556 913V1006.4M557 912.9V1007M558 911.9V1008.4M559 914.3V1008.4M560 915V1007.3M561 915.3V1006.9M562 916.1V1006.5M563 915.5V1006.2M564 919.4V1005.9M565 917.7V1005.5M566 918.9V1004.7M567 920V1005M568 919.8V1003M569 920.7V1003.1M570 917.9V1004M571 921.9V1004.7M572 922.5V1005.9M573 922.7V1005.2M574 921.9V1004.6M575 921V1004.3M576 923V1002.8M577 921.8V1004.4M578 923.6V1005.3M579 923.7V1005.7M580 924.3V1003.7M581 922.2V1004.2M582 921.4V1003.8M583 921.3V1005.3M584 918.2V1006.1M585 918.5V1006.2M586 918.1V1004.8M587 917.7V1005.6M588 913.9V1005.4M589 920.1V1005.7M590 923.6V1006.2M591 926.9V1005.6M592 932.8V1006.3M593 929.8V1007.8M594 931.2V1006.8M595 931.2V1007.8M596 930.7V1005.7M597 930V1006.3M598 927.5V1005.8M599 927.6V1005.5M600 929.6V1004.7M601 931.7V1005M602 930.1V1004.4M603 928.4V1005.4M604 928.8V1004.8M605 930.6V1006.1M606 931.6V1005.5M607 931.5V1005.1M608 933.9V1006.4M609 933.6V1007.8M610 934V1007.2M611 936V1006.3M612 936V1007.9M613 937.4V1005.6M614 933.3V1008.2M615 936.3V1005.5M616 934.3V1005.1M617 935.4V1003.5M618 933.6V1005.9M619 935.3V1007.6M620 932.7V1006.2M621 935.2V1005.1M622 935.4V1005.2M623 940V1005.3M624 944V1006.7M625 944.2V1006.7M626 947.2V1007M627 948.5V1006.2M628 948.2V1007.3M629 951.2V1008.8M630 949.8V1007.4M631 951.4V1007.6M632 951.1V1006.4M633 950.4V1008.9M634 947.9V1009.6M635 952V1009.5M636 953V1008.7M637 952.4V1007.8M638 949.2V1006.5M639 950.9V1007.8M640 947.3V1009.5M641 949.2V1008.2M642 947.4V1008.5M643 947V1005.8M644 950.2V1008.1M645 947.8V1008.1M646 945.3V1009.7M647 946.8V1009.6M648 947.5V1008.5M649 944.2V1008.8M650 942.1V1006.8M651 942.1V1006.8M652 942.3V1007M653 945.3V1007M654 944.1V1006M655 945.5V1004.9M656 943.9V1008.1M657 944.3V1007.4M658 944V1007.2M659 944.6V1006.4M660 944.6V1004.6M661 942V1006.8M662 943.5V1006.8M663 943.7V1008.5M664 944.1V1007M665 943.5V1005.2M666 943.4V1005.5M667 941.6V1004.8M668 941.4V1004.5M669 943.7V1004M670 943.5V1004.5M671 943.4V1004.5M672 938.8V1005.1M673 942.3V1005M674 941.9V1003.7M675 943.3V1003.8M676 942V1004.5M677 941.6V1002.3M678 942V1002.1M679 938.4V1004.8M680 938.5V1005.3M681 936.7V1005.8M682 936.7V1004.3M683 935.2V1003M684 933.6V1004.1M685 932.7V1003.7M686 930.1V1005.1M687 935.8V1004M688 936.9V1002M689 937.3V1002.3M690 938.6V1001.6M691 937.2V1001.4M692 939.6V998.6M693 940.2V1000.4M694 939.9V999M695 937.9V1001.3M696 938.6V1000.8M697 935.5V1001.9M698 935.7V1004.7M699 938.3V1005.9M700 942.6V1007.1M701 943.6V1005.8M702 943.1V1005.5M703 949.2V1005.5M704 948V1007M705 949.8V1005.4M706 950.6V1007M707 952.7V1005.5M708 953.6V1004.1M709 951.7V1004.9M710 952.4V1005.5M711 952.5V1005.5M712 953.2V1003.5M713 952.4V1004.7M714 951.5V1006.4M715 952.1V1007M716 950.1V1006.7M717 947.1V1006.4M718 944.5V1006.5M719 938.3V1006.9M720 940V1008.1M721 941.8V1009M722 944V1007M723 940.9V1006.4M724 942.8V1005.5M725 944.3V1007.1M726 946.7V1007.3M727 948.3V1006.1M728 948.2V1006M729 944.7V1006.2M730 942.7V1006.9M731 943.8V1007.1M732 942.3V1005.6M733 941.7V1006.6M734 941.4V1006M735 938V1005.7M736 935.5V1008.2M737 938.6V1007.6M738 940.6V1007.8M739 940.7V1008.7M740 943.5V1009.9M741 943.8V1008.1M742 946.1V1009M743 952.7V1008.6M744 950.9V1009.5M745 954.6V1007.7M746 952.9V1009M747 954.8V1008.8M748 954.9V1007.7M749 957.1V1007.6M750 960.7V1007M751 957.4V1008.9M752 956.8V1008.7M753 957.4V1007.3M754 961V1006.1M755 960.5V1006.7M756 958.8V1007.2M757 960.6V1010.7M758 961.3V1009.2M759 958.9V1008.8M760 959.9V1009.5M761 960.3V1007.8M762 959.7V1007.9M763 960.7V1006.7M764 957.2V1007.1M765 957.8V1007.2M766 955.6V1009.2M767 958.1V1009.1M768 958.8V1010.9M769 961.6V1010.4M770 961.8V1010.2M771 964.3V1010.3M772 963.8V1010.5M773 968.5V1009.2M774 969.7V1010.4M775 962.7V1007.3M776 958.9V1008.9M777 954.6V1008.3M778 948.5V1010.9M779 944V1006.6M780 936.5V1008.3M781 941.1V1007.8M782 940.9V1008.3M783 940.3V1008.4M784 941.2V1006.5M785 943.4V1008.3M786 946.5V1007.6M787 949.4V1010.4M788 950.9V1009.5M789 952.6V1006.8M790 957.8V1006.1M791 955.8V1007.1M792 956.8V1008.3M793 958.4V1007.9M794 959.3V1010.2M795 962.6V1011.3M796 963.7V1013.1M797 963.8V1014.2M798 962.8V1012.5M799 966.3V1011.1M800 967.6V1009.2M801 970.2V1009.6M802 971.5V1010.7M803 972.3V1011.8M804 974.1V1010.5M805 975.4V1011.7M806 978V1008.9M807 982.9V1011.3M808 986.3V1011.4M809 988.8V1012.3M810 993.3V1013M811 995.8V1011.5M812 996.3V1012.4M813 996.7V1013.1M814 999.1V1013.1M815 997.1V1013M816 997.4V1012.6M817 998V1012.8M818 998.2V1012.3M819 999V1015.5M820 997.8V1014.6M821 1001.1V1012.6M822 1002.6V1011.5M823 1001.4V1012.9M824 1003.6V1014.2M825 1007.4V1013.8M826 1005.4V1015M827 999.1V1013.7M828 996V1012.5M829 1000V1013.4M830 1003.2V1013.5M831 1005.3V1015.6M832 1012.9V1016.8M833 1010.7V1016.4M834 1009.5V1016.1M835 1010.5V1016.6M836 1011.3V1016.3M837 1014.3V1016.3M838 1013.7V1015.4M839 1014.9V1017.5M840 1015.3V1018.4M841 1013.9V1019.4M842 1013.8V1018.8M843 1020.8h0M844 1025.3h0M845 1026h0M846 1024.1h0M847 1027.6h0M848 1029.6h0M849 1029.7h0M850 1026.3V1031M851 1026.4V1031.1M852 1026.6V1031.2M853 1026.8V1031.4M854 1026.9V1031.5M855 1027.1V1031.6M856 1027.3V1031.7M857 1027.1V1031.9M858 1026.9V1032M859 1026.8V1032.1M860 1026.6V1032.2M861 1027V1032.3M862 1027.4V1032.4M863 1027.9V1032.5M864 1028.3V1032.5M865 1028.6V1032.6M866 1028.9V1032.7M867 1029.2V1032.8M868 1029.5V1032.9M869 1029.8V1032.9M870 1030.1V1033M871 1030.1V1033M872 1030.2V1033M873 1030.2V1033M874 1030.3V1033M875 1030.3V1033M876 1030.4V1033M877 1030.4V1033M878 1030.5V1033M879 1030.5V1033M880 1030.6V1033M881 1030.7V1033M882 1030.8V1033M883 1030.9V1033M884 1031V1033M885 1031.1V1033M886 1031.2V1033M887 1031.4V1033M888 1031.5V1033M889 1031.6V1033M890 1031.7V1033M891 1031.7V1033M892 1031.8V1033M893 1031.8V1033M894 1031.8V1033M895 1031.9V1033M896 1031.9V1033M897 1032V1033M898 1032V1033M899 1032V1033M900 1032.1V1033M901 1032.1V1033M902 1032.1V1033M903 1032.1V1033M904 1032.1V1033M905 1032.1V1033M906 1032.1V1033M907 1032.1V1033M908 1032.1V1033M909 1032.1V1033M910 1032.1V1033M911 1032.1V1033M912 1032.1V1033M913 1032.1V1033M914 1032.1V1033M915 1032.1V1033M916 1032.1V1033M917 1032.1V1033M918 1032.1V1033M919 1032.1V1033M920 1032.1V1033M921 1032.1V1033M922 1032.1V1033M923 1032.1V1033M924 1032.1V1033M925 1032.1V1033M926 1032.1V1033M927 1032.1V1033M928 1032.1V1033M929 1032.1V1033M930 1032.1V1033M931 1032.1V1033M932 1032.1V1033M933 1032.1V1033M934 1032.1V1033M935 1032.1V1033M936 1032.1V1033M937 1032.1V1033M938 1032.1V1033M939 1032.1V1033M940 1032.1V1033M941 1032.1V1033M942 1032.1V1033M943 1032.1V1033M944 1032.1V1033M945 1032.1V1033M946 1032.1V1033M947 1032.1V1033M948 1032.1V1033M949 1032.1V1033M950 1032.1V1033M951 1032.1V1033M952 1032.1V1033M953 1032.1V1033M954 1032.1V1033M955 1032.1V1033M956 1032.1V1033M957 1032.1V1033M958 1032.1V1033M959 1032.1V1033M960 1032.1V1033M961 1032.1V1033M962 1032.1V1033M963 1032.1V1033M964 1032.1V1033M965 1032.1V1033M966 1032.1V1033M967 1032.1V1033M968 1032.1V1033M969 1032.1V1033M970 1032.1V1033M971 1032.1V1033M972 1032.1V1033M973 1032.1V1033M974 1032.1V1033M975 1032.1V1033M976 1032.1V1033M977 1032.1V1033M978 1032.1V1033M979 1032.1V1033M980 1032.1V1033M981 1032.1V1033M982 1032.1V1033M983 1032.1V1033M984 1032.1V1033M985 1032.1V1033M986 1032.1V1033M987 1032.1V1033M988 1032.1V1033M989 1032.1V1033M990 1032.1V1033M991 1032.1V1033M992 1032.1V1033M993 1032.1V1033M994 1032.1V1033M995 1032.1V1033M996 1032.1V1033M997 1032.1V1033M998 1032.1V1033M999 1032.1V1033M1000 1032.1V1033.1M1001 1032.1V1033.1M1002 1032.1V1033.1M1003 1032.1V1033.1M1004 1032.1V1033.1M1005 1032.1V1033.1M1006 1032.1V1033.1M1007 1032.1V1033.1M1008 1032.1V1033.1M1009 1032.1V1033.1M1010 1032.1V1033.1M1011 1032.1V1033.1M1012 1032.1V1033.1M1013 1032.1V1033.1M1014 1032.1V1033.1M1015 1032.1V1033.1M1016 1032.1V1033.1M1017 1032.1V1033.1M1018 1032.1V1033.1M1019 1032.1V1033.1M1020 1032.1V1033.1M1021 1032.1V1033.1M1022 1032.1V1033.1M1023 1032.1V1033.1M1024 1032.1V1033.1M1025 1032.1V1033.1M1026 1032.1V1033.1M1027 1032.1V1033.1M1028 1032.1V1033.1M1029 1032.1V1033.1M1030 1032.1V1033.1M1031 1032.1V1033.1M1032 1032.1V1033.1M1033 1032.1V1033.1M1034 1032.1V1033.1M1035 1032.1V1033.1M1036 1032.1V1033.1M1037 1032.1V1033.1M1038 1032.1V1033.1M1039 1032.1V1033.1M1040 1032.1V1033.1M1041 1032.1V1033.1M1042 1032.1V1033.1M1043 1032.1V1033.1M1044 1032.1V1033.1M1045 1032.1V1033.1M1046 1032.1V1033.1M1047 1032.1V1033.1M1048 1032.1V1033.1M1049 1032.1V1033.1M1050 1032.1V1033.1M1051 1032.1V1033.1M1052 1032.1V1033.1M1053 1032.1V1033.1M1054 1032.1V1033.1M1055 1032.1V1033.1M1056 1032.1V1033.1M1057 1032.1V1033.1M1058 1032.1V1033.1M1059 1032.1V1033.1M1060 1032.1V1033.1M1061 1032.1V1033.1M1062 1032.1V1033.1M1063 1032.1V1033.1M1064 1032.1V1033.1M1065 1032.1V1033.1M1066 1032.1V1033.1M1067 1032.1V1033.1M1068 1032.1V1033.1M1069 1032.1V1033.1M1070 1032.1V1033.1M1071 1032.1V1033.1M1072 1032.1V1033.1M1073 1032.1V1033.1M1074 1032.1V1033.1M1075 1032.1V1033.1M1076 1032.1V1033.1M1077 1032.1V1033.1M1078 1032.1V1033.1M1079 1032.1V1033.1M1080 1032.1V1033.1M1081 1032.1V1033.1M1082 1032.1V1033.1M1083 1032.1V1033.1M1084 1032.1V1033.1M1085 1032.1V1033.1M1086 1032.1V1033.1M1087 1032.1V1033.1M1088 1032.1V1033.1M1089 1032.1V1033.1M1090 1032.1V1033.1M1091 1032.1V1033.1M1092 1032.1V1033.1M1093 1032.1V1033.1M1094 1032.1V1033.1M1095 1032.1V1033.1M1096 1032.1V1033.1M1097 1032.1V1033.1M1098 1032.1V1033.1M1099 1032.1V1033.1M1100 1032.1V1033.1M1101 1032.1V1033.1M1102 1032.1V1033.1M1103 1032.1V1033.1M1104 1032.1V1033.1M1105 1032.1V1033.1M1106 1032.1V1033.1M1107 1032.1V1033.1M1108 1032.1V1033.1M1109 1032.1V1033.1M1110 1032.1V1033.1M1111 1032.1V1033.1M1112 1032.1V1033.1M1113 1032.1V1033.1M1114 1032.1V1033.1M1115 1032.1V1033.1M1116 1032.1V1033.1M1117 1032.1V1033.1M1118 1032.1V1033.1M1119 1032.1V1033.1M1120 1032.1V1033.1M1121 1032.1V1033.1M1122 1032.1V1033.1M1123 1032.1V1033.1M1124 1032.1V1033.1M1125 1032.1V1033.1M1126 1032.1V1033.1M1127 1032.1V1033.1M1128 1032.1V1033.1M1129 1032.1V1033.1M1130 1032.1V1033.1M1131 1032.1V1033.1M1132 1032.1V1033.1M1133 1032.1V1033.1M1134 1032.1V1033.1M1135 1032.1V1033.1M1136 1032.1V1033.1M1137 1032.1V1033.1M1138 1032.1V1033.1M1139 1032.1V1033.1M1140 1032.1V1033.1M1141 1032.1V1033.1M1142 1032.1V1033.1M1143 1032.1V1033.1M1144 1032.1V1033.1M1145 1032.1V1033.1M1146 1032.1V1033.1M1147 1032.1V1033.1M1148 1032.1V1033.1M1149 1032.1V1033.1M1150 1032.1V1033.1M1151 1032.1V1033.1M1152 1032.1V1033.1M1153 1032.1V1033.1M1154 1032.1V1033.1M1155 1032.1V1033.1M1156 1032.1V1033.1M1157 1032.1V1033.1M1158 1032.1V1033.1M1159 1032.1V1033.1M1160 1032.1V1033.1M1161 1032.1V1033.1M1162 1032.1V1033.1M1163 1032.1V1033.1M1164 1032.1V1033.1M1165 1032.1V1033.1M1166 1032.1V1033.1M1167 1032.1V1033.1M1168 1032.1V1033.1M1169 1032.1V1033.1M1170 1032.1V1033.1M1171 1032.1V1033.1M1172 1032.1V1033.1M1173 1032.1V1033.1M1174 1032.1V1033.1M1175 1032.1V1033.1M1176 1032.1V1033.1M1177 1032.1V1033.1M1178 1032.1V1033.1M1179 1032.1V1033.1M1180 1032.1V1033.1M1181 1032.1V1033.1M1182 1032.1V1033.1M1183 1032.1V1033.1M1184 1032.1V1033.1M1185 1032.1V1033.1M1186 1032.1V1033.1M1187 1032.1V1033.1M1188 1032.1V1033.1M1189 1032.1V1033.1M1190 1032.1V1033.1M1191 1032.1V1033.1M1192 1032.1V1033.1M1193 1032.1V1033.1M1194 1032.1V1033.1M1195 1032.1V1033.1M1196 1032.1V1033.1M1197 1032.1V1033.1M1198 1032.1V1033.1M1199 1032.1V1033.1M1200 1032.1V1033.1M1201 1032.1V1033.1M1202 1032.1V1033.1M1203 1032V1033.1M1204 1032V1033.1M1205 1032V1033.1M1206 1032V1033.1M1207 1032V1033.1M1208 1032V1033.1M1209 1032V1033.1M1210 1032V1033.1M1211 1031.9V1033.1M1212 1031.9V1033.1M1213 1031.9V1033.1M1214 1031.9V1033.1M1215 1031.9V1033.1M1216 1031.9V1033.1M1217 1031.9V1033.1M1218 1031.9V1033.1M1219 1031.8V1033.1M1220 1031.8V1033.1M1221 1031.8V1033.1M1222 1031.8V1033.1M1223 1031.8V1033.1M1224 1031.8V1033.1M1225 1031.8V1033.1M1226 1031.8V1033.1M1227 1031.7V1033.1M1228 1031.7V1033.1M1229 1031.7V1033.1M1230 1031.7V1033.1M1231 1031.7V1033.1M1232 1031.7V1033.1M1233 1031.7V1033.1M1234 1031.7V1033.1M1235 1031.6V1033.1M1236 1031.6V1033.1M1237 1031.6V1033.1M1238 1031.6V1033.1M1239 1031.6V1033.1M1240 1031.6V1033.1M1241 1031.6V1033.1M1242 1031.6V1033.1M1243 1031.5V1033.1M1244 1031.5V1033.1M1245 1031.5V1033.1M1246 1031.5V1033.1M1247 1031.5V1033.1M1248 1031.5V1033.1M1249 1031.5V1033.1M1250 1031.5V1033.1M1251 1031.4V1033.1M1252 1031.4V1033.1M1253 1031.4V1033.1M1254 1031.4V1033.1M1255 1031.4V1033.1M1256 1031.4V1033.1M1257 1031.4V1033.1M1258 1031.4V1033.1M1259 1031.3V1033.1M1260 1031.3V1033.1M1261 1031.3V1033.1M1262 1031.3V1033.1M1263 1031.3V1033.1M1264 1031.3V1033.1M1265 1031.3V1033.1M1266 1031.3V1033.1M1267 1031.2V1033.1M1268 1031.2V1033.1M1269 1031.2V1033.1M1270 1031.2V1033.1M1271 1031.2V1033.1M1272 1031.2V1033.1M1273 1031.2V1033.1M1274 1031.1V1033.1M1275 1031.1V1033.1M1276 1031.1V1033.1M1277 1031.1V1033.1M1278 1031V1033.1M1279 1031V1033.1M1280 1031V1033.1M1281 1031V1033.1M1282 1031V1033.1M1283 1030.9V1033.1M1284 1030.9V1033.1M1285 1030.9V1033.1M1286 1030.9V1033.1M1287 1030.8V1033.1M1288 1030.8V1033.1M1289 1030.8V1033.1M1290 1030.8V1033.1M1291 1030.8V1033.1M1292 1030.7V1033.1M1293 1030.7V1033.1M1294 1030.7V1033.1M1295 1030.7V1033.1M1296 1030.6V1033.1M1297 1030.6V1033.1M1298 1030.6V1033.1M1299 1030.6V1033.1M1300 1030.6V1033.1M1301 1030.5V1033.1M1302 1030.5V1033.1M1303 1030.5V1033.1M1304 1030.5V1033.1M1305 1030.4V1033M1306 1030.4V1033M1307 1030.4V1033M1308 1030.4V1033M1309 1030.4V1033M1310 1030.3V1033M1311 1030.3V1032.9M1312 1030.3V1032.9M1313 1030.3V1032.9M1314 1030.2V1032.9M1315 1030.2V1032.9M1316 1030.2V1032.9M1317 1030.2V1032.8M1318 1030.2V1032.8M1319 1030.1V1032.8M1320 1030.1V1032.8M1321 1030.1V1032.8M1322 1030.1V1032.8M1323 1030V1032.7M1324 1030V1032.7M1325 1030V1032.7M1326 1030V1032.7M1327 1029.9V1032.7M1328 1029.8V1032.7M1329 1029.7V1032.6M1330 1029.6V1032.6M1331 1029.5V1032.6M1332 1029.5V1032.5M1333 1029.4V1032.5M1334 1029.3V1032.4M1335 1029.2V1032.3M1336 1028.9V1032.5M1337 1029.8V1032.3M1338 1029.5V1032M1339 1029.1V1031.9M1340 1029.5V1032.4M1341 1029.1V1031.9M1342 1028.5V1031.7M1343 1028.6V1031.9M1344 1028.3V1032M1345 1028.4V1032M1346 1028.8V1031.8M1347 1028.7V1032M1348 1027.8V1031.6M1349 1028.4V1031.6M1350 1027.9V1031.5M1351 1028.1V1031.6M1352 1027.8V1031.4M1353 1027.9V1031.5M1354 1028.2V1031M1355 1027.8V1031.2M1356 1027.3V1031.1M1357 1028V1031.1M1358 1027.4V1030.9M1359 1027.2V1030.8M1360 1026.7V1030.7M1361 1026.5V1030.6M1362 1026.8V1030.3M1363 1025.8V1031.3M1364 1025.9V1030.9M1365 1026.7V1030.2M1366 1025.1V1030M1367 1025.4V1029.6M1368 1025.6V1029.7M1369 1024.8V1029.8M1370 1024.8V1029.1M1371 1024.9V1029.7M1372 1024.7V1028.5M1373 1024.3V1028.2M1374 1023.7V1029.2M1375 1024.2V1028.8M1376 1022.9V1028.5M1377 1024.5V1028.7M1378 1023.6V1028.4M1379 1023.8V1028.4M1380 1023.4V1028.1M1381 1023.5V1027.9M1382 1023.4V1028.3M1383 1023V1027.5M1384 1022.2V1027.3M1385 1022V1027.3M1386 1020.9V1027.3M1387 1022V1027.1M1388 1022.3V1027.5M1389 1020.4V1027.2M1390 1018.9V1026.5M1391 1016.3V1026.4M1392 1015.9V1026.9M1393 1016.9V1027.1M1394 1013V1026.7M1395 1014.2V1027.5M1396 1015.5V1026.8M1397 1015.9V1026.6M1398 1018.9V1026.6M1399 1020.1V1027.2M1400 1021.3V1027.1M1401 1020.3V1026.6M1402 1017V1026.9M1403 1015.7V1027.6M1404 1015.6V1025.9M1405 1013.9V1027.2M1406 1013.8V1026.2M1407 1014.1V1027.5M1408 1015.2V1026.2M1409 1017.1V1026.4M1410 1018.5V1026.8M1411 1018V1026.9M1412 1015.7V1026.5M1413 1015.3V1026.2M1414 1012.8V1026M1415 1010.3V1026.5M1416 1012.5V1026.3M1417 1009.6V1025.4M1418 1010.6V1026.9M1419 1011V1026.5M1420 1010.7V1026.1M1421 1012V1026.9M1422 1011.7V1025.9M1423 1012.4V1026.1M1424 1008.3V1026.6M1425 1005V1025.2M1426 1002.9V1025.5M1427 1004.1V1024.7M1428 1004.2V1025.1M1429 1003.8V1023.3M1430 1003.1V1025.1M1431 999.7V1024.4M1432 1001V1023.4M1433 999.1V1023.3M1434 1001.6V1022M1435 1000.3V1022.6M1436 998.7V1022.7M1437 998.4V1022.1M1438 999.7V1021.3M1439 990.9V1024M1440 989.7V1022M1441 982.1V1022.7M1442 981.8V1022.5M1443 980.6V1020.7M1444 982.3V1023.3M1445 983V1021.1M1446 978.8V1023M1447 985.6V1019.7M1448 980.4V1019.8M1449 980.4V1021.3M1450 980.6V1020.4M1451 974.3V1019.1M1452 972V1018.4M1453 974.6V1020M1454 962.3V1019.6M1455 970.1V1015.4M1456 975.4V1019.6M1457 973.6V1019.7M1458 980.2V1018.8M1459 978V1020.8M1460 976.5V1017.5M1461 975.5V1023.5M1462 978.3V1020.6M116.9 998.9V1004.9M116.5 995.5h0M117.5 993.1h0M118.7 1000.8V1004.6M119.6 992.1h0M122.2 1004.3h0M122.8 994.6h0M122.1 992.2h0M122.2 1000.9V1004.1M121.6 990.5V994.3M123.4 990.2h0M125.2 998.3V1003.9M124.4 995.6h0M123 992.6h0M125.6 1000.8V1003.7M126.1 993.3h0M128 1001.1V1004M128.3 997.8h0M131.2 999V1005.3M128.6 993.4V996.3M130.4 991.6h0M131.6 1003.9V1006.5M131 997.3h0M131.5 995.9h0M133.6 1002.6V1005.6M133.4 997.5h0M134.9 1001.6V1004.3M135.6 997h0M136.9 1000.1V1002.9M138.4 995.3h0M138 995.3V1001.3M138.4 993.8h0M141.6 1000.3h0M140.7 993.9h0M141.4 992.8h0M142.6 997.9h0M144.2 992.2h0M144.1 990h0M143.7 990.2V995.7M143.8 986.9h0M144 981.6h0M146.2 987.3V993.9M148.3 978.8h0M149 991.6h0M148.3 983.9h0M149.6 978.7h0M152.6 984V990.1M151.2 980.6h0M151.4 980.1h0M155.1 988.8h0M154.7 976.8V982.6M154.8 973.4h0M154.8 983V988.7M153 977V980.3M154.3 973.3h0M155.4 990.1h0M155.1 977.6V983.9M154.6 977.4h0M156.3 987.2V992.4M157.2 984.4h0M158.1 982.4h0M161 989.5V995.8M160.8 986.1h0M161.8 994.8V1000.8M161.4 991.7h0M165.2 998.8V1005.9M165 995.5h0M164.3 991.7h0M165.2 1005.3V1007.9M166 1002.2h0M165 1002.5V1008.1M165.8 999.3h0M166.8 1008.6h0M169.1 1002.8h0M167.3 999.6h0M170.9 1003.1V1008.9M171.4 1000.3h0M170.5 1004.3V1011.2M172.1 1003.3h0M173.8 1006.9V1013.7M173.3 1002.9h0M175.9 1007V1012.6M175.3 1005.6h0M178.4 1001.6V1008.1M177.5 997.8h0M177.3 995.7h0M179.6 1000.7V1003.9M179.4 991.6V995.4M180.8 990.5h0M181.1 1001.2V1006.1M181 995.9h0M182.1 994.8h0M181.9 1002V1008.8M182.7 997.5h0M183.6 1009.1V1012M186 1003.8h0M187.5 1011.2h0M187.8 1004h0M186.6 1003.2h0M186.2 1005.7V1008.3M186.6 1000.7h0M189.2 998.6V1005.4M190.8 995.2h0M189.6 992.8h0M190.1 995.2V1002.7M191.1 992.6h0M190.8 991.5h0M191.1 990.4V997.9M192.5 988h0M193 988.5V995.2M193.5 987.4h0M196.9 988.5V995.2M196.5 985.7h0M196.7 993.9V997.2M198 988.2h0M197.8 981.2h0M197.8 980.6h0M198.4 995.4V998.8M199 986.6V990M199.5 985.2h0M200.6 998.5V1001.2M202.4 988.9V991.6M201 985.4h0M204.4 999.5V1003.3M202.7 990.1h0M205.5 997.3V1005M206.2 993.9h0M205.9 990.6h0M206.1 998.9V1005.1M205 992.4V995.8M205.8 991.7h0M209.2 996.9V1003.2M207 996.9h0M207.9 998.5V1001.1M209.3 990.4h0M211.1 992.8V998.8M211.8 988.5h0M212.1 989.6V996.2M211.9 985.9h0M215.5 987.4V993.5M215.7 984.8h0M216.3 985.1V990.2M216.2 982.3h0M218.3 981.6V988.1M219.7 980.1h0M218.9 984V987.5M220.4 979.8h0M221.9 982.6V989.3M222.4 982.3h0M225.1 985.4V991.5M224.9 985.1h0M226.3 986.9V993.3M226.1 981.6h0M227 986.1V992.5M228.9 982.3h0M228.9 984.6V992M228.4 982.7h0M232.5 988.2V991.3M231.4 982.3h0M232.9 990.8h0M231.6 981.7h0M233.6 982.4V988.8M235.2 976.4V979.6M233.7 975.2h0M236.4 981.1V986.7M236.6 973.9V977.8M237.7 971.9h0M237.1 981.8V984.7M236.8 974.9h0M239.3 980.4V983.4M240.1 975.2h0M240 974.7h0M241.6 975V981.8M241.5 973.7h0M243.3 972.8V980.2M243.4 972.3h0M244.5 973.5V979.9M245.9 966.6V970.2M246.6 960.8h0M246 979.7h0M245.3 973.5h0M248.6 977.6V980.7M250.6 974.9h0M249.8 976.8V982.1M249.6 970.6V973.7M251.3 967.1h0M253.6 976.3V983.7M252.6 972.8h0M252.5 970.9h0M255.3 981.2V987.3M254.2 977.6h0M254.5 973.7h0M257 984.3V991M257.5 975.2V981M257.8 972.6h0M256.4 991.7V994.7M256.4 985.8h0M260.6 987.1V993M259.9 986.3h0M262.5 987.1V990.2M263.6 981.3h0M263.5 975.6h0M263.2 984.9V987.5M262.8 978.7h0M261.8 975.5h0M265 980.3V985.5M264 976.5h0M264.7 976.4h0M267.1 984.4V987.9M265.9 976.3h0M267.8 983.4V989.8M267.4 980.5h0M270.2 988.4V992M269.7 985.8h0M270.6 986.5h0M269.4 980.7h0M270.8 980.1h0M273 976.2V980.1M272.7 973.9h0M274.4 973.1V976.4M275.3 970.3h0M275.5 966.7V976.6M276 954.8V961.2M275.7 951.2h0M278.9 971V976.8M278.8 967.4h0M280.7 965.2h0M280 971V977M281.2 966.7h0M282 967.6V971.1M282.7 965.3h0M283.8 955.3V963.3M284.5 948.8V951.7M285.3 942.6h0M284.3 941h0M287.2 949.1V958.7M285 945.5h0M285.6 929.5V935.6M285.7 928.3h0M287.4 943.5V955.4M288.7 927.1V933.9M288.6 923.6h0M288.3 921.6h0M288.5 951.4V957.7M288.5 942.7V948.1M290.1 941.2h0M291.2 953.2V959.5M290.6 944.7h0M293.1 956.4V962.4M292.5 948V953.6M292.8 948h0M295.4 965.7V971.2M294 959.5V962.4M295.5 958h0M296.7 978V984.6M297.1 975.8h0M298 978.8V984.1M296.7 975.7h0M299.1 977.2h0M299.9 969.3h0M301.4 965.3V972M300.1 954.7V958.4M300.4 952.6h0M302.8 965.3V972.4M302.3 954.9V958.5M302.3 952.8h0M304.3 966V973.1M305 956.7V962.5M303.6 954h0M303.1 952.4h0M304.7 971.7V974.1M305.2 959.8V966.2M305.6 956.1h0M304.3 954.4h0M306.5 972.2V975.1M307.1 965.7h0M307.9 964.7h0M311.4 960V966.2M310.5 957.6h0M309.2 956.9h0M311.7 953V956M311.7 945.5h0M314.5 948V953.4M312.8 945.1h0M312.8 942.7h0M315.6 955.9V958.7M316.4 949.8h0M316.9 963.7V966.6M316.9 958h0M317.1 968.1V971M318.6 955.2V962.4M317.4 951.5h0M321 973V976.7M319.4 963.5V967.2M319.8 961.2h0M323 965.9V969.3M321.4 964.2h0M325.1 939.3V952.5M325 930.5V936.2M325.1 924.3V926.7M323.3 916.7h0M325.5 916.1h0M325.6 921.9V935.1M325.1 911.5V918.8M325.4 903.4V908.5M327 900.3h0M326.4 895.4h0M328.1 929.7h0M328.4 920V923.5M327 909.8h0M327.2 897.4V903.8M327.7 892.5V895M327.4 885h0M329.6 922.1V935M329.9 909.3V916.1M328.9 902.7V905.9M329 899.7h0M329.7 931V940.5M330.5 917.6V924.3M329.3 911.8V915.1M329.7 911.3h0M332.3 940V946.5M331.1 934.5h0M332.5 925.5V928.2M332 925.2h0M333.5 931.5V940.8M333.3 923.3V929.1M332.5 916.5h0M333.2 912.6h0M336.6 928.9V936.1M336.5 923.3V926.4M336.2 917.3h0M334.7 915.4h0M338.4 919.3V929M339.1 910.1V916.4M338.9 903.1h0M339.6 901.8h0M340 914.6V924M340.9 907.6V911.3M340.4 901.4h0M340.4 909.5V921.1M341.4 900.8V906.8M341.7 898.4h0M340.6 887.5V891M340.9 877.8h0M342.1 874.9h0M343.2 910.1V923.2M342.4 903.7V907.3M343.1 894.5V897.8M343.9 891.3h0M343.8 925.1h0M345.5 913V919M344.6 903.1V909.1M344.3 893.5V900.5M345 890.3h0M343.8 887.4h0M345.6 928.1V930.8M345.9 915.2V921.4M345.2 901.6V907.7M346.3 890.6V898.2M346.7 884V887.7M346.3 882h0M347.9 930.8V937.5M348.9 921.8V924.4M348.7 916.1h0M349.1 907.1h0M349.4 897.6V900M348.2 896.7h0M350.1 929.4V942.9M349.8 920.2V926.3M348.7 914.6V917.5M350.7 907.7h0M349 901.8h0M351.8 932.8V946.7M351.7 915.9V923.3M353.1 911.6h0M356 917.3V930.1M354.2 906.7V913.5M354.9 897.2V903.2M355.7 886.9V894.1M356.3 884.5h0M356.6 907.2V917M354.2 893.6V900.2M356.2 886.7V890.2M356 874.1V880.7M354.2 870.4h0M354.6 864h0M356 863.5h0M357.6 901.3V915M358.1 892.2V898.2M358.9 882.5V888.4M358.4 879.9h0M358.6 866.8h0M357.1 861.6h0M361.1 902.3V914.1M359.6 893.1V899.1M359.8 889.9h0M359.6 884.1h0M359.8 878.2h0M359.1 864.7V870.9M360.3 860.2h0M361.5 909.9V912.9M360.9 900.8V904M361.6 892.7V895.3M362.6 887h0M362.2 885.6h0M364.6 909.3V919.7M363.9 899.7V906M365.5 893.3h0M365.8 918.4V927.6M367.1 909.2V915.6M367 906.9h0M368 927.7V932.8M367.5 922.2V925.1M369 915.8h0M368.5 924.5V930.4M369.7 914.6V921.1M369.1 912.5h0M372.9 923.9V926.5M372.3 914h0M370.6 912.5h0M372.6 913.4V922.1M371.6 906.4h0M373.3 895.4h0M372 889.6h0M373.6 888.6h0M374.4 915V918.4M374.9 901.7V907.6M375.3 896V899M375.2 884.4V890M375.7 881.6h0M375.1 903.5V912.6M377.3 896.3V900.1M375.6 889.2h0M375 883.4h0M378.6 892V905M377.9 877.8V885M377.7 871.3V874.5M377.3 863.6h0M378.5 862.8h0M379.4 887.1V898.5M380.6 876.1V883.6M380.5 866.6V873.1M379.5 858V864.1M381.1 857h0M383.1 882.9V894.3M381.6 872V879M381.2 865.9h0M381.9 855.4V858.9M383.3 853.1h0M384.1 876.8V889.5M385.4 868.5V873.7M383.3 858.6V864.7M383.6 854.3h0M383.5 883.1V886.3M383.3 880.6h0M389 873V879.5M387.1 860.5V868M389 855.3h0M388.8 848.6h0M388.5 836.1V842.3M388.7 821.1V824M389.6 816.7h0M388.8 859V871.4M391.2 849V855.3M390.6 838.8V845.5M391.4 835.2h0M390.6 822.7V828.5M389.9 808.7V815.7M390 799.8V805.2M389.1 799.3h0M392.7 851.3V863.4M391.2 839V847.8M391.3 826V832M392.4 822.8h0M393.3 809.6V816.3M391.3 803.2V806.1M392.9 796.3h0M391.1 792.7h0M393.4 846.8V859.4M394.3 838.5V843.8M394.9 827.5V834.7M393.4 817.5V823.9M394.5 810.6V814M394.3 801V804.2M394.9 793.5h0M396.8 840.9V853.3M395.7 831.9V837.1M396.4 821.9V828.8M395.4 818.5h0M397.2 806V808.4M397.2 797h0M399.1 837.9V851.9M396.8 828.5V834.7M397.9 818.3V821.7M397.8 804.4V810.9M398 801.4h0M397 799.8h0M400.6 839.2V850.8M400 826.7V832.2M399.9 817.7V823.7M401 807.4V814.1M400.8 798.4V803.6M401.4 792.4h0M399.1 783V786.1M400 777.7h0M400.5 775.4h0M402.2 837.3V850M401.2 826.8V834.4M402.5 817.1V823.9M401.2 803.8V810.5M400.5 795.8V801.4M402 786.5V792.5M401.7 783.6h0M402.3 776.7h0M402.5 836.6V850.3M401.2 827.2V834M402.6 817.6V824.5M401.4 815.1h0M401.2 806.8V809.5M401.1 800h0M401.1 790.6h0M403.7 838.3V852.2M404.3 826.2V832.3M405.8 819.4h0M404.6 807.8V813.7M405.3 795.2V801.9M406.1 791.5h0M404.2 790.5h0M408.5 841V853.5M408.1 837.5h0M406.7 824.9V830.8M406.9 816.1V818.9M406.5 810.9h0M408.4 844.7V855.2M409.7 836.5V842.1M407.4 833.3h0M409.2 823.5h0M410.5 842.3V855.4M408.7 833.5V839.2M408.6 823.8V830.4M408.5 814.7V820.8M408.5 808.1h0M410.5 806.6h0M411.8 835.5V848.7M410.9 827.7V830.6M411.9 815.1V821.2M412.2 811h0M413.8 832.4V842M414.4 825.7h0M413.4 813.5V820.6M413 811h0M413.2 798.9V805.4M412.8 788.3V791.9M414.2 781.8h0M415.8 824.3V838.1M416.3 814.5V821.1M416.4 807.4V810.7M416.1 797.4V801M416.5 792.5h0M415.1 790h0M418.7 818.8V832.2M416.8 813.6V816.3M417.8 797.1V803.6M418 791.1V794.5M418.9 785.8h0M420 827.8V840.4M419.1 812.7V824.2M418.9 810.2h0M419.8 803.2h0M418.5 796.1h0M418.8 786.6V789.7M419.3 773V780.1M420.7 759V766.2M419 753.8h0M421 749.4h0M420.3 835.7V848.3M420.8 830.3V832.7M420.7 817.3V824.7M421.9 807.2V813.9M420.4 804.4h0M420.2 798.6h0M421.9 789.7h0M421.1 783.1h0M423.6 843.3V856.7M422.3 837.4V840M422.5 830h0M421.8 817.4V823.4M422.6 808.5V814.8M421.8 806h0M423.5 794.1V799.6M421.8 788.2V790.8M423.9 781.4h0M422.2 780.6h0M423.7 853.2V865.2M425.8 844.6V850.8M425.6 831.5V837.5M425.7 821.3V827.8M424.5 814.8V817.5M424.1 802.2V808.5M423.4 793V799.4M423.5 787.4V790.4M424.3 786.1h0M428.2 858.5V869M426.7 845.5V851.7M428.2 836V842.1M428.2 829.5V833.2M427.5 817V820.3M427.3 814.9h0M428.4 871.6h0M428.1 862.1V865.6M427.8 849.1V855.9M428.7 835.1V841.8M428.8 832.4h0M427.8 826.1h0M430.7 863.1V874.4M431.1 855.1V860.4M430.3 841.8V848.3M429.8 835.6V839.1M431 832.6h0M431.2 866.7V876.9M431.1 860.1V863.7M430.7 853.3h0M431.8 848h0M432.5 874.7V883.1M433.9 871.7h0M433.2 859.6V865.8M431.9 855.8h0M435.2 882.1V894.5M435.8 874.1V879.6M435.4 868.7V871.6M436.4 859.1V862.8M435.4 852.2h0M435.9 896.2V905.8M436.9 887.8V893.7M437.1 881.2h0M438.8 902.4V911.5M438.5 900h0M438.8 890.1V893.9M438.8 888.4h0M439.1 897.8V909.6M441.1 889.7V895.2M441.1 880.2V883.7M440.2 871.4V874.1M439 859.6V865M440.3 853V856M440.6 849h0M441.1 896V908.1M442.9 886.6V893.5M443.1 877.6V883.5M441.2 872.4V875M440.9 866.5h0M442.9 895V906.5M444.1 884.8V891.2M444.7 876.2V882.2M443.2 867.2V869.9M443.9 860.8h0M444.6 892.8V905.4M446.8 883.8V889M446.2 878.3V880.7M446.5 864.9V871.7M446.6 859.4h0M446.2 858.5h0M447.3 891.4V904.5M448.4 882V888.9M448.8 873.5V879.6M448.4 870.4h0M448.4 868h0M448.3 897.9V903.8M448.3 894.9h0M450.8 894.7V903M451.4 885.4V891.9M450.8 881.6h0M452.3 880.3h0M452.7 889.2V901.6M454.6 882.8V885.5M453.1 876.2h0M453.7 863.9V870.2M452.6 860.8h0M454.1 859.1h0M455.7 892.5V898.3M454.1 886.5V889M456 882.2h0M457.1 881.9V895M455.7 868.8V875M456.5 859.9V865.8M458.2 849.8V857.4M457.2 846.3h0M458.2 840.4h0M458.2 836.5h0M459.5 881.9V892.3M459.7 875.5h0M461 863.5V870.3M460.4 860.7h0M460.9 857.2h0M460.9 886.6V892.8M462.9 878.8h0M463.8 888.4V894.7M463.4 880.6V883.3M463.8 880.1h0M462.8 889.8V897.2M463.5 886.4h0M466.5 896.6V899.5M466 891h0M469.7 895.7V901.7M469.5 893.8h0M470.3 892.4V898.9M468.1 891.5h0M471.8 889.4V895.1M472.9 888h0M474.9 881V892.8M473.3 869.5V877.6M473 859.6V866.5M473.6 853.7V857.1M473.3 840.3V846.9M473.7 834.1V837.6M473.3 826.2V828.8M474.7 823.3h0M474.3 887V889.7M473.2 877.3V881M475.3 870.6h0M474.2 865.5h0M473.7 855.3V858.9M474.9 847.3h0M476.4 874.2V887.5M476.4 864.8V870.6M477.3 855.6V861.3M475.1 849.5h0M475 846.5h0M479 873.5V886.1M478.5 864.6V870.3M479 854.9V861.8M480 845.6V848.4M478.9 834.5V838.2M479.3 829.2h0M479.2 872.2V884.4M479.5 867V869.5M480.9 855.2V861.3M480.2 848.3V852.1M480.5 839.6V842.4M479.9 830V832.9M480.9 826.5h0M482.3 873V882.8M482.5 860.8V867.1M480.1 855.6V858.4M480.7 849.2h0M481.9 840.2V843.7M480.5 839.2h0M483 866.5V879.8M485.2 857.1V863.7M483 851V853.8M482.9 844.6h0M484.1 830.6V838.1M483.7 827.5h0M484.9 825h0M485.3 862.8V875.3M485.6 852.2V859.8M485.8 849.7h0M485.6 839.9h0M485.8 829.9V832.9M485.3 817.9V821M484.7 806.1V809M486.3 803.8h0M487.3 857.7V868.3M486.2 848.2V854.9M486.6 836.3V839.4M488.2 827V830.4M486.9 820.5h0M486.3 811.7V815.1M486.3 808h0M489.2 849.6V862M489.1 839.3V845.9M488.7 829.9V836.6M490.8 823V826.4M489.6 816.3h0M489.6 804.2V809.7M489.5 801.6h0M490.2 798.9h0M491.4 851.5V864.1M489.2 848.6h0M489.2 842.4h0M489.8 835.3h0M490.3 822.5V828.3M489.1 811.8h0M490.2 810.1h0M493 865.8V872.7M494.4 862h0M492.7 857.7h0M493.6 875.7V879.4M493.6 869.5h0M493.6 868h0M496 885.1h0M497.9 880.1h0M499.5 876.9V889.8M499.3 867.8V874.3M498.6 857.7V864.8M497.7 848.5V854.5M498.1 845.7h0M499.8 838.6h0M499.4 832.9h0M501.2 879.7V892.9M499.7 870.2V876.1M498.9 864.3V866.9M500.3 855.1V858.8M501.3 850h0M499 843.7h0M501.4 836.2h0M500.8 830h0M499.8 824.8h0M500.4 883V895.9M502.1 874.1V880.5M500.5 865.3V871M502.2 856.4V862M500.9 850.5V852.9M502.4 844.3h0M500.7 841.8h0M502 887.2V899.3M503.6 874.1V880.8M503.3 870.9h0M502.3 867.2h0M505.7 892.1V902.7M504.3 881.7V888.6M505.3 870.4V876.3M504.7 868.9h0M507.1 897.5V903.9M506.4 887.5V891.3M507.4 878.3h0M506.8 878.2h0M507.3 896.5V905.9M508.2 893.2h0M507.1 886.2h0M507.1 883.2h0M509.7 899V907.2M508.9 890.8V896.5M508.3 887.8h0M509.5 897.6V908.7M511.6 888.4V894.1M511.1 882.5h0M510.7 881.9h0M513.5 903.5V909.6M515.3 899.9h0M514.6 892.1h0M515.1 897.4V910.1M516.5 887.6V895M516.2 879.5V884.9M516.9 867.4V872.8M516.6 857.4V860.1M515.6 854.5h0M518.1 907.2V910.7M515.8 900.2h0M515.8 896.8h0M520.1 911.1h0M520.3 895.3V904.7M519.2 885.7V891.7M519 863.7h0M521.1 903.2V913.4M520.8 893.9V900.7M520.6 890.8h0M520.1 883.5h0M523.8 906.8V917.5M523.7 898.1V903.6M525 891.1V894.6M523.2 886.3h0M525.9 911.7V920.5M526.5 903V908.6M527 896.6h0M527.5 924.1h0M526.4 908.7V914.8M525.7 905.3h0M525.2 902.3h0M529.9 918.7V925.2M528.7 911.4V914.8M529.5 907.6h0M529.8 917.4V923.3M531.2 908.1V914.6M530.4 905.6h0M530.5 905.2h0M532.6 909V920.8M532.1 899.2V905.6M530.9 889.4V896.8M532.6 880.5V886.5M532.9 876.6h0M532.9 906V918M532.3 896.2V902.6M534.5 887V893.2M534.9 884h0M534 873h0M532.8 872.2h0M537.1 916.3h0M535.2 910.5h0M535.8 898.6h0M537.6 893.9h0M537.1 904.3V913.1M536.6 895.8V901.6M536.3 893.9h0M538.4 895V908.3M538.5 887.1V892.1M538.4 877.7V884.1M538 868.5V874.6M538.4 858.8V864.9M539.7 849.2V852.5M539.4 848.3h0M542.9 891.4V903.4M542.5 881.6V887.6M541.8 871.5V874.5M541.8 857.8V864.8M542.4 853.4h0M544.9 894.3V906.7M543.6 891.1h0M544 873.2V876.5M543.9 872.3h0M546.1 900.2V911.9M546.3 891.3V897.3M545.5 888.7h0M545.9 879.2V882.7M545.3 866.5V872.7M545.1 865.2h0M547.2 905V916.6M547.2 896.2V902.4M549.1 893.6h0M548.6 886.4h0M548.9 881.1h0M548.9 872.7h0M548.3 907.3V917.5M548.8 902.1V904.6M550.1 896.6h0M548.5 884.3V890.3M549.3 883.4h0M553.4 906.1V916.5M551.2 894.6V900.8M552.7 891.1h0M552.2 887.4h0M554 902.5V915.5M553.7 893.8V899.1M555.5 878.3V885.5M554.8 874.7h0M553.7 862.9V868.2M554.6 860.3h0M556.2 902.2V914.7M555.3 893.7V898.7M556.1 891h0M554.6 877.2V884.2M553.7 868.2V874.6M553.7 862.4V864.9M554.7 862.1h0M554.7 902V914.8M556.4 893.7V899.4M555.6 884.5V890.3M556.6 874.4V881.3M555.6 871.2h0M554.9 864.9h0M555.6 856.2h0M558.3 904.2V916M557 894.7V901.4M559.2 885V891.2M559.3 878.1h0M560.9 913.4V917M560.6 902.1V907.8M560.6 892.2V898.2M559.8 888.4h0M561.7 887.8h0M562.5 906.8V918M563.1 897.6V903.3M560.9 889.1V891.5M561.1 876.6V883.6M563.1 871.4h0M561.6 864.5h0M565.1 908.1V919.3M563.7 905.7h0M563.8 893.8V900.2M564.8 887.6h0M563.3 886.3h0M565.2 907V920.5M563.9 897.8V904M566.2 888.5V894.8M564.4 875.2V882.3M564.6 872.5h0M565.2 869.1h0M566.7 910.8V921.7M567.7 902V907.9M569 896.2V899.6M568.3 891.1h0M568 879.3V884.7M567.9 874.4h0M569.8 919.9V922.8M571.1 917.3h0M571 921.2V923.9M571 917.9h0M574.5 910.6V924.4M574.4 901.5V907.3M572.7 894.7V898.5M573.6 879.8h0M573.8 918.5V924.5M573.2 912.3V915.2M573.1 906.5h0M572.9 906h0M576.4 921.2V924.9M575.6 907.7V915.1M576.3 906.5h0M577.1 921.7V925.4M578 918.7h0M580 913.5V925.7M579.1 910.1h0M578.9 900.7V903.8M578.9 884.4V887.8M580.1 883.8h0M581.7 919.9V925M581.6 919.2h0M583.1 909.3V922.9M582.9 895.5V902.6M584.5 885.2V891.7M583.2 881.4h0M582.9 877.1h0M584.6 911.9V921.5M585.1 902.8V908.6M584.1 899.4h0M584.2 896.6h0M587.1 910.9V919.7M585.2 904.3h0M585.7 902h0M588.7 907.1V919.7M590 897.5V903.4M589.6 888.5V894.3M589 878.5V885M588.9 872.5V875.3M589.7 865.6h0M590.2 914.8V927.2M590.8 905.3V912.1M591.6 896.4V899.2M591.6 895.4h0M591.5 924.6V933.6M591.3 918.7V921.5M590.5 912h0M593 907.7h0M595.3 919.5V932.9M594.1 916h0M594.2 905V910.1M595.7 902h0M594.9 899.9h0M595.5 932.3h0M596.4 915.8V925.7M596.2 910h0M596.3 898V903.9M595.3 887.9V894.8M594.7 885.1h0M595.9 883.2h0M597.6 923V931.8M598.6 911.2V916.7M596.4 908.2h0M596.8 904.9h0M599.2 923.8V931.1M598.8 913.4V920.5M600.3 912.2h0M601.2 927.5V931.2M599.7 920.5h0M600.7 907.4h0M601.9 931.6h0M602.6 918.2V925M602.1 915.6h0M602.4 911.4h0M604.3 922V931.9M604.5 909.5V915.8M602.3 901.7V904.3M603.5 893h0M603.7 892.3h0M605.5 919.4V932.2M606.8 915.8h0M605.2 909.4h0M606.1 900.5V903M605.8 893.7h0M606.8 926.7V934.4M609.2 917.7V924.1M608.6 915.1h0M607.7 912.8h0M609.2 931.4V937M610.5 919.9V926M611.2 917.3h0M609.7 910h0M610.9 930.4V939.2M610.4 920.6V927.6M612.1 913.6V917M611.3 912.9h0M613.8 935.2V938.4M615.4 925.2h0M614 917.5h0M618 934.5V937.2M615.6 929.1h0M618.1 926.8h0M618.1 929.2V936.1M618.7 925.9h0M619.8 928.7V935.4M619.4 925.9h0M619.5 924.8h0M621 926.5V937.4M623.1 917.4V923.5M621.9 910.5h0M621.7 907.5h0M624.6 930.7V940.8M624.7 927.4h0M624.6 918.8V921.5M623.8 914.4h0M626.2 935.6V945.6M626.5 929.7V932.7M625.8 924h0M624.8 921.9h0M625.4 942.2V948.4M625 931.2V938.4M625.3 928.5h0M628.8 946V951.4M629.4 940.3V943.6M628.1 937.3h0M630.5 946.6V951.9M629 940.4V943.8M629.7 938.6h0M633.1 945.9V952.5M632.1 942.4h0M631.2 940.6h0M634 946.1V953.1M635.3 942.6h0M634.3 941.4h0M637.9 945.8V953.2M636.6 934.6V938M637 933h0M637 942.9V952.2M638.4 933.5V939.5M637.3 931h0M641.6 941.3V951.3M641.4 932.6V937.8M640.1 929.7h0M642.1 929.5h0M641.3 940.6V950.5M640.7 931.7V938M640 924.5V928.1M640.3 922.4h0M644.4 939.2V949.3M643 933.7h0M644.2 924.8h0M643 921.5h0M645.6 938.9V948M646.3 930.1V936.2M645.8 921.1V927.5M645.3 917.7h0M648.1 937.6V947M646.8 925.3V932.1M648.2 919.4V922.2M646.9 917.3h0M651 933.6V945.9M649.3 924.4V930M649.6 915.2V920.7M650.2 913.3h0M652.3 932.9V946.1M651.6 930.4h0M651.7 921.7V924.8M653.2 916.2h0M652.5 912.2h0M653.3 937.8V946.7M653.5 928.1V934.7M653.1 925.4h0M655.6 924.3h0M656 940.8V947.1M653.8 940.1h0M658.7 937.6V947.5M659.2 927.5V934.5M659.1 920.7V924M657.3 917.5h0M658.8 934.6V947.4M660.2 924.6V931.2M660.5 908.4V911.3M660.5 905.8h0M658.5 932.5V946.9M658.8 924.3V929.4M660.4 915.6V921.8M660 907V912.8M660.8 905.1h0M662.9 934.1V946.4M663 921.6V927.2M662 915.3V918.9M661.9 905.7h0M664.2 934V945.7M661.9 924.8V930.9M662.2 915.1V921.7M663.5 912.6h0M663.3 908.1h0M666.6 938.6V945.2M664.5 936.2h0M666.3 934.7h0M666.6 939.1V944.7M667.4 936.1h0M666.1 936h0M667.1 940.9V944.6M667.7 937.2h0M670.3 937.9V944.5M668.7 937.3h0M670.6 941.2V944.5M671.5 937.1h0M672.8 940.6V944.4M673.7 937.5h0M675.6 934.3V944.4M676.5 924V930.7M676.4 920.8h0M677.4 917.4h0M676.1 932.2V942.9M676.5 925.6V928.8M677.1 916.3h0M677.8 916.1h0M681 931.2V941.5M680.8 925.9h0M680.1 916.2V919.8M678.7 914.4h0M680 939.4h0M680.9 926.8V932.6M680.1 917.3V923.3M679.3 914.8h0M682.3 927.4V937.2M681.6 917.7V923.9M682.8 915.1h0M684.9 929.1V935.5M685.3 923.8h0M684.2 913.9V916.8M684.6 910.3h0M686.8 928.5V935M686.2 926.1h0M687.3 916.6V919.6M686.9 916.2h0M689 924.7V937.7M690.2 918.2h0M689.9 908.5V912.3M689.6 899.8V902.3M689.6 899.7h0M689.8 930.8V941M690.2 920.1V927.5M690.2 914.4h0M690.9 912.4h0M692.4 942.8h0M692.1 930.7V936.7M690.8 921.2V927.1M691.2 917.6h0M691.4 914.8h0M692.4 937.7V941.5M692.4 925.6V931.4M694.2 918.2V922.1M692.5 915.9h0M695.6 928V940.4M696.1 918.8V925M695.2 909.8V915.7M695 908.4h0M699.1 927.7V938.9M697.1 925h0M697 918.7h0M697.5 912.6h0M698.5 909.6h0M698.7 928.2V941.3M700.2 922.2V925M700.9 909.2V916.6M699.5 899.8h0M698.8 899.6h0M701.3 931.7V944.1M700.2 921.1V928.2M699.1 914.8V917.6M699.6 910.7h0M702.8 939.1V947.2M702.7 927.3V933M701.6 922.1V924.8M703.4 913.6h0M703.7 940.5V951.2M703.7 933.9V937.7M703.4 927.6h0M703.7 918.3V921.6M703.1 917.8h0M705.4 941.6V954.3M705 931V937.7M706 927.6h0M705.1 921.2h0M706 920h0M706.7 945.6V955.3M705.9 937.2V942.7M707.4 934.2h0M706.8 927.6h0M708.9 948.8V955.4M709.8 940.2V946.3M710 937.7h0M709 934.7h0M711.2 948.2V955.4M711.7 943.1h0M711.2 937h0M711.8 948.8V955.5M711.6 943.3V946M711.7 940.6h0M715.8 949.1V955.5M713.9 946.4h0M713.4 944.4h0M716.7 944.2V951.1M716.4 941.8h0M717.5 939.3V947M719.3 930.3V935.5M718.9 924.8h0M719.2 932.7V942.8M721.1 923.2V930M719 920.1h0M720 916h0M721.7 935.5V943.6M720.7 932.1h0M721.1 922h0M721.9 921.9h0M721.5 936.1V945.2M721.8 924V930.5M722.1 923.4h0M727.4 941.2V947.2M725.3 940.5h0M727.2 945.4V948.7M727.6 942.6h0M728.9 935.5V947.7M728.7 926.8V932.9M730.4 916.8V923.6M728.4 910.8h0M729.5 909.4h0M731.8 932.3V944.8M730.6 925V928.9M729.9 913.6V916.2M729.9 907h0M733.5 933.3V943.1M733.6 919.8V926.9M733.6 917.6h0M732.8 932.3V940.5M733.2 923.4V929.2M734.6 918.5h0M737.1 927.9V940.8M737.3 920.6V924.2M737.4 908.6V914.9M737.7 903.1h0M738.6 936.2V943.2M739.3 932.9h0M739.8 941V947.1M740.4 938.2h0M740.2 937h0M743.8 936.9V949.8M742.8 927.2V933.4M741.5 918.5V920.9M743.3 917.4h0M744.3 947.4V952.8M743.2 934.6V941.3M743.2 924.6V931.2M745 918.3h0M743.6 916.2h0M746.8 947V956.7M746.3 943.7h0M747.1 935.4V938.4M746.8 929.8h0M744.8 928.1h0M746.7 950.5V957.5M749.1 937.8V943.8M748.4 931.2h0M748.2 930.7h0M750.3 951.5V958.5M750.5 938.7V944.5M750.4 934.3h0M753.1 956.5V959.9M751.8 944.5V950.7M751 936.2V941.2M752.4 935.7h0M752.7 953.4V960.7M754.2 950h0M752.7 940.1h0M756.6 954.7V961.9M755.6 948.2h0M756.2 941.7h0M758.1 951.1V962.8M758 941.1V947.3M756.8 938h0M758 935.4h0M759 957.5V963.9M757.6 950.9V953.8M758 949.2h0M760.6 960.5V963.9M760.9 948.1V954.5M761.6 942.6V945.5M761.8 938.8h0M762.6 952.6V962.4M762.7 945.8V948.9M762.5 936.9h0M761.4 955.2V961.1M761.6 948.8V952.7M762.3 942h0M765.3 956V958.7M765.5 948.5h0M766.3 937.3V943.3M764 928.9V934.9M766.3 926.4h0M767.7 954.7V960.8M769.2 948V951.6M768 941.4h0M769 956.8V963M768 950.9V954.2M769.7 949.6h0M771.5 959.6V966.5M772 955.2h0M773.5 963.8V970M773.8 960.9h0M773.4 963.2V968.7M773.6 957V959.6M775 953.9h0M777.6 950.6V957.5M775.6 945.2V947.8M777.9 941.9h0M778.1 941.6V948.4M778.1 932.2V937.7M777 931.2h0M780.6 938.4V941.6M778.9 926.3V931.9M780.4 917V923M781.2 914.4h0M783.3 931.2V943.2M782.6 921V928.2M783.2 910.3h0M785.1 932.2V944.6M783.5 923.3V928.9M783.9 920.1h0M785.1 913.8h0M784.7 912h0M784.3 941.5V946.9M783.9 935.1V938.6M784.3 932.7h0M787.5 942.7V949.7M785.7 936.8h0M787 945.9V953.2M788.1 943.6h0M790.2 951.5V957.2M790.3 948.2h0M788.7 948.2h0M792.1 953.3V959.2M792.1 946V949.6M792.7 942.9h0M795.5 961.8h0M793.6 950.2h0M795.6 953.9V963.5M793.8 945.5V951.3M793.7 942.9h0M794.5 933.2h0M798.3 956.2V965.7M796.7 947.1V953.3M796.7 936.2h0M795.9 934.5h0M801 958.2V968.9M800.2 950.2V955.5M799.2 947.5h0M800.5 944.3h0M801.4 964.8V972.1M801.2 958h0M799.9 955h0M803.1 967.9V975M801.2 964.4h0M803.4 961.3h0M804.1 970.9V977.1M802.7 964.6V968M803.6 957.8h0M802.3 957.2h0M806.6 974.4V980.7M805.8 966V971.8M805.3 963.5h0M808.8 985.3V988.1M807.8 975V978.5M808.3 973.3h0M809.2 989.9V995.7M809.4 984.5V987.1M809.6 979.5h0M810.3 978.8h0M813.2 991.6V998.8M812.7 988.9h0M812.7 982.2h0M813 993.9V999.3M814 992h0M815.7 994.1V999.7M816 992.3h0M817.5 994.8V1000.1M817.7 993.2h0M821.4 997.3V1001.1M821.3 994.6h0M823.8 997.3V1003.8M822.7 994.1h0M822.3 993.4h0M823.5 1000.1V1005.6M824 994.7V997.3M824.2 992.2h0M824.1 1003.4V1007.2M824 996.1h0M827.3 993.4V1000.9M827.3 989.7h0M826 989.5h0M828.1 995V1000.5M827.3 992h0M829 989.8h0M830 998.8V1005.6M830.5 997.2h0M833.1 1009.3V1012.5M831.5 1006.8h0M835.3 1011.7V1014.4M835.6 1008.8h0M836.1 1011.8V1015.5M835.9 1010h0M838.8 1013.6V1016.5M839.5 1008h0M840.5 1010.3V1017.2M838.2 1008.2h0M841.3 1012.5V1017.6M840.6 1010.5h0M843 1018.7V1024.2M843.5 1018h0M845.8 1025V1028.3M844.7 1022.9h0M846 1026.3V1029.4M845.5 1024.1h0M118.3 1023.8h0M118.1 1028.4h0M118.3 1023.9V1026.6M118.7 1027.7h0M120.5 1023.9V1027.2M120.6 1027.7h0M122.1 1023.9V1026.6M123 1027.3h0M125.6 1023.9V1026.7M124.1 1027.4h0M126.8 1024V1026.4M127.1 1027h0M128.8 1024h0M130 1028h0M129.8 1024V1026.7M130 1028h0M132.7 1024.1V1026.7M134.1 1027.8h0M136.8 1024.1V1027.4M136.9 1027.6h0M136.7 1024.1h0M136.5 1028.7h0M138.4 1024.2V1027.8M137.9 1028.8h0M141.6 1024.2V1027.6M141.3 1028.6h0M143.5 1024.3V1026.8M142.2 1028.1h0M146.2 1024.3h0M147.2 1028.1h0M147.6 1024.3V1027.1M148.6 1027.7h0M151.7 1024.3V1027M152.1 1027.2h0M149.8 1024.4h0M152.3 1029.1h0M153.9 1024.4V1028M155 1028.2h0M156.2 1024.4V1027.8M157.4 1027.9h0M158.5 1024.5V1027.6M159.3 1029.2h0M160.3 1024.5V1027.4M160.3 1029.2h0M164.7 1024.4V1027M164.9 1028h0M164.1 1024.2V1027.6M164 1027.8h0M168.4 1024V1027.3M168.7 1027.7h0M169.6 1023.8h0M170.7 1026.8h0M173 1023.7h0M173 1026.3h0M173 1023.5V1026.3M173.3 1027.5h0M174.1 1023.3V1026.8M174.6 1027.2h0M177.3 1023.2h0M177.7 1026.6h0M179.8 1023h0M181.2 1025.5h0M181.3 1022.9h0M181.7 1025.4h0M186.1 1022.7h0M184.2 1025.1h0M186.6 1022.5h0M186.7 1024.9h0M188.8 1022.3h0M188.9 1024.7h0M189.3 1022.2V1024.7M190.7 1027.2h0M191.1 1022V1025.8M191.8 1026.6h0M194.7 1021.9h0M194.5 1024h0M196.4 1021.7V1024.3M197.4 1024.6h0M199.1 1021.5h0M198.1 1024.1h0M199.4 1021.4h0M200.3 1023.8h0M202.6 1021.2h0M204 1023.6h0M205.6 1021h0M204.7 1023.4h0M209.5 1020.8h0M208.9 1023.1h0M209.8 1020.6h0M209.9 1023h0M212.7 1020.4h0M212.1 1022.6h0M215.6 1020.2h0M214 1022.4h0M217.8 1020h0M217.5 1022.7h0M220.9 1019.8h0M219.8 1022.1h0M224 1019.6h0M224.3 1021.9h0M224.6 1019.5h0M224.5 1021.7h0M226.1 1019.3V1022.7M224.7 1023.6h0M227.9 1019.1V1021.7M229.3 1023.6h0M230.4 1019.1h0M229.4 1023.7h0M234.6 1019.1V1021.6M232.7 1023.7h0M235.2 1019.1V1022.4M236.8 1023.2h0M237.3 1019.1V1022.7M238.3 1022.8h0M240.1 1019V1022M239.3 1022.5h0M240.4 1019V1021.6M240.7 1024.1h0M244 1019V1021.9M244.5 1023.6h0M246.3 1019V1022.7M248.3 1023.7h0M248.2 1019h0M249.2 1022h0M251.5 1019h0M251.9 1021.9h0M255.1 1019h0M255.1 1023.6h0M256.8 1019V1022.7M256.9 1023.4h0M259.3 1019V1022.1M260.4 1023.1h0M262.9 1018.9V1022.3M262.1 1023h0M263.5 1018.9V1021.6M262.3 1022.7h0M265.3 1018.7V1022M263.8 1022.4h0M265.9 1018.3V1020.7M266.8 1021.4h0M269.5 1017.8V1020.6M270 1021.6h0M271.8 1017.5V1020.2M272.3 1020.9h0M273.7 1017.1V1020.2M274 1020.6h0M277.6 1016.7V1019.9M278.5 1019.9h0M279.2 1016.3h0M279.1 1019h0M283.5 1016.3h0M283.8 1018.9h0M283 1016.4h0M285.4 1018.9h0M285.7 1016.5h0M287.3 1022h0M288.8 1016.5V1019.6M287.8 1021.8h0M290.9 1016.6V1019.4M290.8 1020.8h0M291.4 1016.6V1020.2M290.8 1020.9h0M293.9 1016.7V1020.1M294.8 1020.9h0M296.4 1016.8h0M295.8 1020.3h0M298.2 1016.8h0M298.5 1021.3h0M302 1016.9h0M299.8 1019.4h0M305 1017h0M303 1019.7h0M307.5 1017h0M306.6 1019.5h0M307 1016.5V1019.3M307.3 1021.3h0M311.4 1016.2V1018.8M311.9 1020.3h0M313.5 1015.7V1019.5M312.4 1021.4h0M315.9 1015.4V1018.5M314.4 1020.3h0M316.6 1015V1018.3M315.3 1019.6h0M318 1014.5h0M319.5 1018.9h0M323.4 1014V1017.5M323.3 1018.1h0M324.7 1013.7V1016.5M323.1 1017h0M326.8 1013.4V1016.3M326.4 1016.8h0M328.5 1013V1015.5M327.8 1017.2h0M331.5 1012.7h0M331.1 1017.3h0M332.5 1012V1017M333.5 1018.2h0M334.6 1011.6V1014.4M333.3 1016.1h0M336.5 1010.9V1013.3M337.2 1015.7h0M338.1 1010.2V1014M338.6 1014.8h0M342.1 1009.9h0M341.3 1013.1h0M342.6 1009.7V1012.7M342.3 1015.8h0M346.2 1009.4V1016.2M344.6 1017.7h0M346.5 1009.2V1016.1M346.4 1018.1h0M349.2 1009V1015.2M348 1017.4h0M351.1 1008.7V1015.1M351.7 1017.9h0M353.2 1008.4V1014M353.1 1015.2h0M355.4 1008.2V1014.6M354.8 1015.4h0M360 1007.8V1011.7M359.3 1014.6h0M361.1 1007.6V1013.8M362.8 1014h0M363.2 1007.5V1010.8M364.1 1012.3h0M365 1007.3V1010.5M365.9 1011.8h0M368.6 1007.2V1010.5M368.4 1012.7h0M369.7 1007V1013.8M370.3 1016.1h0M373 1006.9h0M373 1013.6h0M374.4 1015.9h0M374.1 1006.7V1010M374 1015.6h0M377.7 1006.5V1012.3M376.3 1014.9h0M377.5 1019.7h0M381.1 1006.4V1013.1M381.4 1017.3h0M383.2 1005.9V1009.1M383.8 1016.1h0M384.5 1005.4V1012M383.8 1014.7h0M385.7 1017.9h0M386.7 1004.9V1011.4M386.6 1015.3h0M386.7 1018.4h0M388.7 1004.6V1007.6M388.9 1014.2h0M389.9 1018.1h0M392.2 1004.5V1010.5M391.7 1015.7h0M394 1004.3h0M394.8 1010.5h0M393.2 1012.5h0M395.6 1004.1h0M396.3 1010.2h0M397.6 1004h0M396.9 1008.7h0M398.2 1003.9V1007.1M399.1 1008.9h0M401.1 1003.8V1010M400.5 1013.5V1016.4M400.3 1020h0M404 1003.6V1010M403.5 1013.3V1015.8M405.4 1017.2h0M406.3 1003.5V1010.9M405.9 1012.5h0M408 1003.4V1009.5M407.4 1009.9h0M410.4 1003.2V1006.9M408.6 1008.8h0M413.7 1003.4V1006.4M412.8 1008.3h0M416 1003.6V1010.3M414.2 1013.2h0M418.7 1003.8V1007.3M416.6 1012.4h0M422.3 1003.9V1007.2M420.5 1011.8h0M423.4 1004.1h0M422.8 1009.9h0M422.1 1012.4h0M424.1 1004.2V1009.4M425.5 1011.4h0M427.6 1003.9V1007.5M427.8 1010.4h0M430.7 1003.7V1007.3M430.9 1010.2h0M430.9 1003.6V1010M432 1013.8h0M430.8 1017h0M434.3 1003.3V1010.1M435.3 1016.1h0M434.6 1017.7h0M435.9 1003.5V1010.1M436.6 1012.7h0M437 1014.3h0M439.6 1003.8V1006.6M439.3 1012.7h0M437.7 1014.1h0M440.7 1004.2V1011.1M440.7 1011.9h0M441.2 1004.7V1010.7M442.5 1011.6h0M445.9 1005.2V1009M444.3 1010.4h0M449 1005.6V1012.4M449.4 1012.9h0M449.3 1005.9V1013.2M450.4 1016.3V1019.1M450 1021.9h0M451.7 1006.1V1013.3M451.5 1016.6h0M451.6 1022.3h0M455.2 1005.7V1012.3M454.4 1015.9h0M454.6 1017.2h0M455.3 1005h0M455.1 1011.8h0M453.9 1012.9h0M457.6 1004.1V1010M457.6 1010.8h0M459.2 1003.2V1009.4M460.9 1013V1016.6M460.2 1018.2h0M462 1003.5V1010.4M462.7 1013.7h0M461.1 1016.2h0M463.2 1003.7V1009.9M463.6 1014.7h0M467.1 1004V1010.2M467.8 1013.8V1017.3M467.5 1019.3h0M469.5 1004.2V1007.1M470 1013.8h0M469.6 1015.8h0M472.6 1004.2V1010.7M472.1 1014h0M472.8 1014.7h0M474.4 1004.2V1009.4M473.9 1011.5h0M475 1004.2V1009.8M475.4 1011.9h0M479.9 1004.2V1010.3M480.7 1012.1h0M480.8 1004.2V1007.3M482.8 1010.9h0M482.9 1004V1007.3M484.3 1010.3h0M486.8 1004V1007.5M486.6 1009.1h0M487.3 1003.8V1010.3M487 1012.9V1016.5M487.9 1018.1h0M489.8 1003.7V1009.6M489.8 1016.3h0M490.8 1017.4h0M492.3 1003.6V1010.5M493.8 1013.9h0M493.2 1003.5V1009.6M493.1 1012.8h0M494.6 1012.8h0M496.5 1003.4V1009.1M496.5 1011.9V1014.5M498.7 1019.3h0M501 1003.2V1006.3M499.6 1013.8h0M499.7 1015.1h0M502.7 1003.4h0M503.8 1012.5h0M502.7 1013h0M504.4 1003.5V1009.6M504.3 1011.7h0M508.3 1003.6V1007M507.6 1012.1V1017.8M506.6 1018.7h0M509.1 1003.8V1010.4M508.3 1013.3h0M507.1 1015.3h0M511 1004V1010.3M511.5 1012h0M514.3 1004.1V1009.3M513.6 1011.7h0M513.2 1012.5h0M515.9 1004.2V1009.2M515.4 1013.1V1016.4M514 1017.4h0M517.1 1004V1011.1M517.6 1014.8V1017.4M517.5 1019.8h0M520 1003.9V1010M522 1012.3h0M524.2 1003.7V1009.5M522.1 1010.9h0M523.8 1003.5V1006.2M523.7 1009.3h0M528.5 1003.4V1006.5M526.5 1008h0M530.2 1003.2h0M531.1 1007.6h0M532.9 1003.4h0M531.9 1007.4h0M535.2 1003.5h0M534.4 1007.5h0M536 1003.6V1006.6M536.6 1007.6h0M539.8 1003.8h0M541.1 1007.3h0M542.3 1004h0M541.4 1007.1h0M543.7 1004.2V1010.6M544.3 1013.3h0M543.6 1016.8h0M546.1 1004.3V1010.3M545.2 1012.9h0M544.9 1016.6h0M547.8 1004.4V1009.3M547.2 1012h0M546 1014.9h0M550.8 1004.6h0M550.9 1006.9h0M553.2 1004.8V1008.4M553.8 1014.5V1017.5M553.8 1018.9h0M553.8 1004.9V1010.6M555.6 1014.3h0M555.7 1018.1h0M555.8 1005.1V1010.8M558 1013.9h0M558.2 1019.2h0M555.7 1020.8h0M559.6 1005.2V1012.2M560.1 1015.4h0M559.8 1017.2h0M561.9 1004.5V1010.8M562.4 1013.4h0M561.4 1016.8h0M563.7 1003.6V1006.6M565 1010.1h0M566.9 1002.7V1006M567 1008.2h0M568.6 1001.8h0M570.6 1006.4h0M571.1 1001.1V1003.7M572.9 1011.5h0M572.7 1013.1h0M574.6 1000.5V1004.3M573.1 1007.1h0M577.1 1000.7V1006.3M576.7 1007.2h0M580.4 1001.3V1005M579.2 1007.2h0M580.7 1001.9V1005.3M582 1007.3h0M582.8 1002.5V1006.1M582.3 1006.9h0M586.2 1003.2V1009.2M586.1 1011.6h0M586.1 1013.5h0M590.3 1004V1009.6M588.6 1013.2h0M589.9 1014.4h0M590.5 1004.2V1009.9M591.9 1012.9h0M592.6 1004.2V1007.5M593.2 1011.3h0M593.7 1004.2V1007.9M594.1 1009.9h0M595.7 1004.2V1010.4M596.3 1016.4h0M595.7 1019.8h0M599.4 1004.2V1011.2M598 1014.6h0M600 1020.2h0M601.8 1004.2V1010.4M601.2 1013.8h0M601.6 1019.4h0M600.8 1020.7h0M603 1004.2V1010.1M602.7 1012.7h0M602.5 1013.3h0M605.8 1004.2V1010.2M604.4 1011.3h0M606.3 1004.2V1007M605.8 1007.2h0M610.1 1004.2h0M609.5 1007.1h0M612.8 1004.2h0M612.6 1006.9h0M615.1 1004.2V1007M615.9 1016.3h0M615.3 1004.2V1007.3M617.3 1013.4h0M620.2 1004.2V1010.8M618.4 1013.2h0M621.7 1004.3V1008M623.2 1009.6h0M623.4 1004.4h0M624.1 1009.3h0M627.6 1004.6V1007.9M627.6 1009.6h0M628.6 1004.7V1007.7M629 1008.7h0M629.1 1004.8h0M631.6 1008.5h0M633 1004.9V1011.3M631.7 1017h0M633.6 1020.9h0M636.8 1005V1011.4M636.6 1016.5h0M636.8 1005.1V1007.9M637.2 1013.7h0M640.7 1005.2V1008.3M640.7 1011.8h0M642.8 1005.1V1007.9M642.1 1010.3h0M647.4 1004.9V1011.6M645.6 1013.6h0M648.7 1004.8V1010.2M646.7 1013.2h0M648 1013.4h0M649.8 1004.7V1011.6M649.8 1014.5h0M650.3 1018.6h0M653.1 1004.6V1011.8M651.3 1015.3h0M652 1017.1h0M656.3 1004.4V1010.2M654.2 1013.8h0M655.5 1015.5h0M656.7 1004.3h0M659.3 1010.1V1015.4M657.6 1015.4h0M659.9 1004.2V1006.9M659.2 1014.9h0M662.8 1004h0M661.3 1009.3h0M664.7 1003.7V1007M665.6 1012.5V1015.8M664.4 1016.7h0M667.1 1003.4V1007.2M667.3 1012.4h0M669 1003.3V1006.1M666.5 1009.5h0M672.7 1002.9V1008.7M671.5 1012.5h0M672.6 1019.3h0M674.3 1002.7V1006.4M674.3 1008.7h0M675.3 1002.5V1005.5M673.6 1007.6h0M675.5 1002.3V1006M677.5 1007.1h0M678.5 1002.1V1005.6M678.2 1007.1h0M681.1 1001.8h0M680.2 1004.4h0M683.1 1001.5h0M683.2 1008h0M687.7 1001.1V1003.9M685.7 1007.4h0M688.1 999.5V1003.3M690.7 1004.2h0M692.2 998.1V1000.9M691.6 1002.8h0M693.5 997.9V1003.5M692.2 1005.9V1009.6M692 1011.4h0M693.4 999.2V1006.3M694.9 1009.2h0M695.8 1011.5h0M695.4 1000.8V1004.3M695.9 1008.3h0M700.3 1002.8V1008.5M700.1 1009.5h0M702.9 1003.4V1009.7M701.4 1015.5h0M701.4 1017.7h0M704.5 1003.6V1009.6M704.6 1012.5V1016.2M705.5 1017.4h0M705.8 1003.9V1010.6M707.2 1013.6h0M706.7 1016.5h0M708.8 1004.1V1010.6M706.7 1013.8h0M707.3 1017.5h0M710.5 1004.4V1010.4M712.2 1013.6h0M714.5 1004.6V1011.2M713 1013.3h0M716.6 1004.8V1011.5M714.8 1013.8h0M719.3 1005V1011.3M719.2 1014.3V1017.5M718.6 1019.9h0M718.7 1005.2V1012.8M720.3 1018.5h0M723.3 1005.3V1012.4M722.2 1015.2h0M722.3 1017h0M724 1005.3h0M724.4 1008.4h0M726.9 1005.4V1008M727.4 1008.4h0M728.2 1005.4h0M727.6 1008.1h0M729.9 1005.5h0M730.7 1008.1h0M733.4 1005.5h0M733.7 1009.6h0M734.6 1005.6V1008M733.4 1009.3h0M738.6 1005.6V1008.7M737.7 1008.9h0M739.2 1005.7V1009.5M738.9 1011.5h0M742.2 1005.8V1012.2M742.6 1013.8h0M743.9 1005.8V1013M742.4 1020.5h0M747.4 1005.9V1008.9M747.1 1014h0M747.2 1015.6h0M748.4 1005.9V1009.8M748.9 1014.6h0M752.8 1006V1011.8M751.1 1015.8h0M753.8 1006V1012.6M753.6 1014.9h0M756 1006.1h0M755.2 1012.5h0M754.9 1013.7h0M758.8 1006.2V1009.8M759 1012.6h0M758.1 1006.2V1011.6M760.1 1017.6h0M762.4 1006.3V1008.7M762 1017h0M763.7 1006.3V1012M764.3 1014.1h0M767.7 1006.4V1011.3M768.1 1013.9h0M769.6 1006.5V1013.4M770 1016.3h0M769.8 1022.5h0M770.2 1006.5V1013.7M770.7 1017h0M770.6 1020.9h0M774.3 1006.6V1013.8M773.6 1017h0M774.6 1017.1h0M777.6 1006.6V1012.8M777.5 1015.9V1019.3M778 1022.6h0M778 1006.7V1013M779.2 1016.4V1020.2M777.2 1021.5h0M780.8 1006.7V1012.9M779.7 1016.1h0M778.7 1021.2h0M783.7 1006.8V1012.3M782.2 1019.3h0M783.4 1006.8V1012.1M783.7 1014.8h0M786.2 1006.9V1013.9M785.3 1017.8V1021.1M785.2 1022.7h0M787.5 1006.9V1014M788.7 1019.3h0M788.9 1020.8h0M788.2 1007V1013M788.3 1015.8V1019.1M788.5 1021.8h0M793.4 1007V1010.5M793.2 1016.9V1019.8M791.6 1020.7h0M794.4 1007.1h0M794.7 1013.1V1019.8M794.5 1021.5h0M795.4 1007.1V1010.5M794.2 1015.8h0M799.9 1007.2V1010.7M800 1013.3h0M801.6 1007.6V1011.1M801 1013.2h0M804 1008.2V1010.8M805.6 1012.7h0M805.7 1009V1011.7M806.7 1013.4h0M809 1009.6V1013.4M808.5 1014.3h0M810 1010V1013.7M810.3 1014.5h0M811.1 1010.6V1014.5M811.6 1014.7h0M812.7 1011V1014.7M814.2 1015.1h0M816.4 1011.4V1017.6M816.2 1020.6h0M817 1011.6V1019.1M816.8 1021.9V1025.8M818.3 1027.4h0M820.6 1012V1015M821.5 1020.6V1024.1M819.8 1026.5h0M823.6 1012.4V1017.8M824.1 1020.8V1026.3M823.1 1027.3h0M826.9 1012.6V1017.9M826 1021.4h0M827.1 1028.1h0M825.9 1028.4h0M827 1012.9V1019M827.7 1025.2h0M830.2 1013.3V1016.9M828.7 1021.7h0M832.4 1013.6V1020.1M831.4 1020.5h0M833.4 1013.9V1016.9M833.8 1023.5h0M835.7 1014.1h0M837 1021V1027.1M835.5 1028.8h0M838.2 1014.4V1020.7M836.5 1023.8V1027.3M836.5 1028h0M840.3 1014.6V1017.7M840.2 1023.6h0M840.8 1023.7h0M840.8 1015.3h0M841.8 1019.4h0M842.8 1016.8V1019.5M843.6 1020.6h0M845.7 1017.9V1024.6M844.4 1027.2h0M848.7 1018.7V1021.6M846.8 1026.6h0M396.5 600.5h0M395.5 705.5h0M398.8 764.4h0M396.5 712.3h0M397.8 745.4h0M397.5 741.8h0M394.6 745.4h0M396.2 713.6h0M396.5 651.4h0M397.9 769.2h0M397.4 767.8h0M394.1 675.4h0M395.1 715.7h0M396.9 719.9h0M396.9 619.6h0M397.8 737.8h0M395.7 762.4h0M396.3 685.6h0M396.7 636.4h0M395.6 750.2h0M397.5 732.5h0M397.8 729.6h0M397.5 754.4h0M397.8 772.6h0M396.1 765.3h0M396.6 738.9h0M398.6 707.6h0M395.2 693.2h0M397 761.6h0M397.4 615.8h0M397 701.3h0M395.8 752.7h0M396.7 624.3h0M394.4 688.8h0M398.5 725.9h0M396.8 680h0M397.5 709h0M397.8 736.5h0M399.4 754.2h0M400.1 729.2h0M395.7 750.8h0M397 772.8h0M396.3 675.2h0M395.2 750.4h0M395.7 624h0M398 714h0M397 675.2h0M392.6 773.9h0M395.6 771.1h0M399.4 778.9h0M396 773.2h0M393.7 775.5h0M393.8 777.7h0M395.3 772h0M394.1 774.7h0M397.1 776.3h0M393.7 779.1h0M396.7 779.4h0M395 777h0M395.5 774.7h0M397 772.7h0M396.2 775.9h0M395.2 773.9h0M396.7 772.9h0M394.2 772.8h0M396 779.4h0M395.4 773.9h0M395.1 772.9h0M397.5 777.2h0M395.2 774.6h0M394.9 776.6h0M398.2 780.3h0M395.6 770.7h0M396.8 771.8h0M397.4 780.4h0M396.9 770.3h0M392.6 778.3h0M396.3 776.5h0M398.3 770.2h0M394.1 773.3h0M395.7 772.4h0M395 778.1h0M395.2 774.3h0M401.5 616h0M401.6 724.5h0M399.3 772.4h0M402.4 701.4h0M398.7 715.3h0M402.2 721h0M401.9 769.5h0M402.1 693.2h0M400.6 698.5h0M401.8 705.4h0M402.2 768.7h0M401.6 685.2h0M401.8 725.7h0M400.8 667.4h0M402.6 724.8h0M402.2 699.8h0M402.7 743.5h0M401.9 693.7h0M400.6 740h0M401.4 688h0M401.3 694.2h0M405.7 783.1h0M404.7 782.6h0M399.7 782.5h0M398.8 783.8h0M403.4 784.9h0M400.3 780.7h0M399.7 784.5h0M400.1 780.1h0M402.4 782.7h0M402.4 780.5h0M403.9 780.9h0M404.3 784.7h0M400 784.7h0M401.2 785.9h0M401.3 785.3h0M402.1 781.5h0M418.8 604.6h0M419.7 735.4h0M417.8 712.3h0M419.1 640.1h0M418.1 690.9h0M418.9 720.6h0M419.2 727h0M419.8 706.1h0M418.9 722.4h0M418.6 623.3h0M417 737.3h0M418.6 742.9h0M419.5 699.2h0M418.4 712.4h0M419.4 719.1h0M419 741.2h0M419.7 750.5h0M418.6 721.6h0M418.7 738.5h0M419 713.5h0M418.2 748.9h0M419 633.8h0M418 725.1h0M418.6 667.7h0M419.6 678.5h0M418.8 677.2h0M419.6 694.5h0M419.4 715.7h0M419 653.2h0M418.4 642.1h0M417.8 738.9h0M418.2 684.9h0M420.9 709.2h0M419.1 688.7h0M419.7 738h0M418.2 629.7h0M419.1 745.8h0M418.9 739h0M419.2 742.7h0M419.4 661.7h0M419.5 659.4h0M419.1 732.5h0M418.4 622.5h0M420.3 733.2h0M417.4 690.6h0M418.7 754.8h0M416.7 754.6h0M418 753.1h0M419.6 753.7h0M418.3 755.3h0M419.6 752.3h0M418.7 752.5h0M416.2 752.6h0M419.7 756.5h0M419.8 753.5h0M418.6 756.9h0M418.1 752.3h0M418.6 750.4h0M419.6 750.2h0M420.7 755.1h0M421.4 751.3h0M418.2 755.7h0M418.1 752.3h0M418.9 751.6h0M421.5 753h0M419 755.2h0M418.4 751.6h0M418.1 752.7h0M417.1 755.5h0M418.5 753.3h0M419.2 754.3h0M418.8 752.2h0M420.1 755.8h0M417.9 751.5h0M417.2 751.8h0M420.4 751.8h0M419.6 752.4h0M420.2 751.2h0M420.4 755h0M418.4 750.6h0M423 690h0M424.5 705.6h0M422.9 757.5h0M420.8 771.9h0M424.5 774.6h0M422.5 755.1h0M423.8 706.3h0M425.3 721.2h0M423.9 762.3h0M422.8 755.1h0M421.9 773.5h0M423.5 715.5h0M422.3 721.6h0M423.8 757.3h0M422.4 769.8h0M423.8 735.5h0M422.7 732.9h0M422.4 767.2h0M421.8 781.3h0M423.2 776.1h0M421.7 782.3h0M423.1 783.7h0M425 778.8h0M420.9 779.3h0M421.5 779.2h0M424.4 776.4h0M422.6 781h0M422.1 784.1h0M422.6 772.1h0M425.5 784.2h0M422.4 772h0M420.1 771.4h0M421.1 787.6h0M409 740h0M411.2 748.3h0M410.3 751.1h0M404.7 771.1h0M407.1 746h0M409.5 751.8h0M412.6 788.4h0M409.5 779.8h0M410 781.4h0M409.7 783.3h0M407 781.8h0M410.7 764.9h0M409.8 782.1h0M407.4 776.8h0M407.9 786.6h0M412.7 774.7h0M411.5 778.8h0M404.5 764.9h0M414.1 756.9h0M407.6 757.1h0M402 760.6h0M411.1 773.2h0M406.4 771h0M407 752.9h0M407.9 778.7h0M410.4 763h0M413.2 764.5h0M413 787.3h0M411 766.8h0M408.7 775.3h0M409.6 781.6h0M411.2 782.5h0M412.4 787.5h0M412.9 777.5h0M410.8 742.6h0M406.4 770.6h0M408.2 781.1h0M407.3 762.6h0M413.5 766.8h0M404.6 770h0M406.6 768.3h0M412.7 766.7h0M402.2 788.3h0M408 774.5h0M415.4 769.4h0M406.6 779.2h0M409.9 774.1h0M406.3 745.2h0M413.7 758h0M415.9 759.6h0M410.5 787.5h0M411.1 754.6h0M413.2 787.4h0M410.3 778.9h0M409.2 755.1h0M410.8 766h0M411.4 776.5h0M405.9 757.4h0M406 773.7h0M411.2 784h0M408.7 789.7h0M411.8 792.5h0M407.6 790.9h0M412.2 794.1h0M413.8 794.9h0M407.1 792.7h0M409.2 793.8h0M406.4 792.1h0M407.5 790.6h0M402.4 795.5h0M406.5 791.1h0M410.3 793.3h0M407.6 790.2h0M408.6 792.7h0M407.2 795.6h0M408.3 793.1h0M403.1 793.8h0M407.3 795.3h0M410.3 793.3h0M407.2 793.3h0M404.6 792.7h0M414.4 793.2h0M412.7 795.3h0M413.9 792.5h0M411.4 795.2h0M415.5 795.2h0M404.2 790.4h0M402 795.7h0M402.7 790.2h0M410.8 790.2h0M415 791.1h0M406.4 794.7h0M405.9 795.7h0M416.9 791.9h0M406.6 791.6h0M408.4 791.8h0M407.9 794.9h0M404 790.9h0M400.9 790.3h0M406.9 790.6h0M412.4 793.6h0M403 791.1h0M408.9 790.3h0M408.7 795.2h0M414.3 795.3h0M403.5 792.5h0M416.9 793.5h0M405.9 794.4h0M411.4 793.2h0M404 700h0M401.7 768.7h0M405.4 747.3h0M403.2 754.8h0M405.9 726.9h0M405.7 701.6h0M404.7 750.3h0M403.4 744h0M403.4 715.3h0M401.6 716.8h0M402.4 754.8h0M405 756.1h0M401.5 717.4h0M403.1 734.5h0M404.5 744.5h0M404.8 776.3h0M404.7 776.8h0M403.3 775.8h0M405.4 773.1h0M407.1 764.8h0M401.2 765.1h0M402.7 773.1h0M401.4 769.6h0M403.9 763.5h0M401.8 776h0M405.5 771.2h0M413 705h0M411.1 753.3h0M412.6 739.9h0M415.7 760h0M412.8 760.1h0M413.2 739.1h0M413.6 730.4h0M412.1 764.9h0M410.3 757.6h0M412.9 753h0M410.9 754.5h0M411.9 736.5h0M413.4 726.6h0M412.3 746.8h0M411.5 762.1h0M410.8 771.3h0M412 772.1h0M410.8 769.4h0M414 769.6h0M413.3 761.7h0M410.8 769.1h0M413.2 764.5h0M408.2 771.3h0M413.2 769.7h0M411.7 760.2h0M417.2 772.5h0M490.5 702h0M489.6 787.2h0M488 799.2h0M490.3 710.4h0M490.2 768.5h0M490.1 793.5h0M489.7 762.5h0M492.6 758.7h0M488.9 756.2h0M489.7 714.1h0M490.6 765.4h0M490.6 788.5h0M490.2 778.3h0M490.4 790h0M491.8 746.2h0M489.8 741.4h0M491.6 789.5h0M488.1 780.4h0M490.3 754.9h0M489.6 775.4h0M490.6 787h0M489.5 712.5h0M490.7 763.7h0M490.3 747.1h0M489.7 752.1h0M489.9 798.4h0M489.4 778.1h0M492.9 796.5h0M491.7 798.2h0M487.9 768.5h0M493.5 778.3h0M490.2 799.7h0M491 758.8h0M489.8 767.6h0M490.9 748.2h0M488.8 805.2h0M487.9 805.1h0M491 804.9h0M490.9 803.8h0M489.6 804.7h0M493.4 800.2h0M489.8 803.6h0M488.5 802.2h0M490.3 804.3h0M490.2 804.1h0M488.1 802.3h0M491.3 804.9h0M490.8 805.9h0M489.7 803.8h0M488.9 805.7h0M491.9 804.9h0M491.5 802.6h0M491.7 802.8h0M489 804.2h0M487.8 802.4h0M491.5 804.4h0M491.1 802h0M488.9 805.7h0M487.6 802.3h0M492 801.6h0M489 803h0M489.6 800.3h0M486 725h0M486.4 790h0M484.5 792.7h0M484.5 799.5h0M485.6 803.6h0M485.8 762.1h0M486.7 809h0M487.1 795.8h0M488.5 786.5h0M484.7 790.4h0M487 796.2h0M486 744.7h0M484.5 785.7h0M487.6 808.3h0M485.7 752.6h0M486.2 799.5h0M485.4 800h0M486.3 810.6h0M485.1 814.7h0M484.5 813.1h0M485.1 814.5h0M489.1 814.7h0M484.4 811.7h0M487.3 810.1h0M484.2 813.8h0M488.4 813.1h0M486.8 814.2h0M484.3 814.9h0M485.3 813.6h0M387 780h0M386.8 828.1h0M387.2 811.5h0M385.2 817.4h0M387.7 806.3h0M386.7 822.6h0M385.9 830h0M386.5 803.1h0M387.2 806.8h0M386.6 800.7h0M385.7 824.8h0M387.5 830.5h0M386.8 830.8h0M388.2 833h0M386.9 831.5h0M387.1 833.4h0M388.6 835.4h0M389 832.1h0M386.1 833h0M433 762h0M432.5 776.6h0M434.3 770.3h0M433.7 789.9h0M433.4 796.1h0M432.3 798.6h0M433.4 805.4h0M433.3 814.6h0M431.4 779.7h0M434.7 802.2h0M432.1 779.7h0M434.5 825h0M430.4 824.7h0M433.4 821.2h0M431.7 825.7h0M434.7 825.8h0M432.6 820.8h0M434.1 823.7h0M433.8 821.8h0M428 735h0M426.5 752.7h0M426.5 792.7h0M426.4 743.5h0M429.1 778.6h0M428.1 766.3h0M429.2 759.5h0M428.6 792.4h0M428.8 745h0M427.5 789.3h0M426.1 789.7h0M425.8 795.3h0M428.5 783h0M428.2 740.5h0M427.7 736.6h0M428.9 805.1h0M426.2 805.8h0M427.7 805.8h0M429.5 801.9h0M430 805.3h0M426 800.3h0M429.2 802.5h0M428.9 800.5h0M427.9 805.2h0M428 803.1h0M428.5 800h0M327.6 800h0M328.2 874.5h0M327 808.4h0M326.7 813.5h0M327.8 863.1h0M326.6 810.8h0M327.9 828.7h0M328.7 824h0M328 863.3h0M326.3 879.4h0M328.1 849h0M327.1 888.8h0M327.2 883.5h0M328.1 883.1h0M328.2 887h0M327.8 882.8h0M327.8 887.1h0M329.3 882.8h0M329.4 886.6h0M348 806h0M347.1 871.6h0M346.9 869.3h0M347.7 884.7h0M348.4 881.2h0M348.1 862.5h0M349 867.1h0M347.2 878.6h0M347.7 879.2h0M347 886.1h0M347.3 866.4h0M348.9 848.5h0M348.3 809.4h0M348.6 886.3h0M349.5 885h0M346.7 858.9h0M348.3 869.2h0M349.8 822h0M351 886.8h0M347.2 839h0M348.6 821.4h0M345.4 885.4h0M348.5 882.3h0M348.1 892.4h0M348.4 893.7h0M348.9 884.4h0M345.2 895.1h0M347.6 884h0M346.8 890.8h0M348.9 893.1h0M349.7 885.6h0M348.7 895.7h0M350.7 881.5h0M346.7 891.2h0M348 892.4h0M346.2 887.5h0M345.6 886.1h0M347.4 880.9h0M347.3 894.5h0M348.2 892.7h0M341 823h0M340.7 847.9h0M341.4 855.5h0M340.4 848.6h0M341.6 827.3h0M340.6 838h0M341.6 864h0M340.3 862.7h0M342.4 855.5h0M341.4 867.4h0M340.8 867.8h0M342.9 864.4h0M342.6 867.5h0M340.9 859.2h0M341.9 857.1h0M340.2 876.9h0M342.6 879.4h0M339.9 860.7h0M341.9 859.7h0M341.8 865.4h0M343.1 838.4h0M342.5 864h0M341.1 866.8h0M339.2 867.2h0M340.9 858.1h0M340 880.4h0M342.6 884.1h0M340.3 884.8h0M340.3 883.4h0M344 883.3h0M342.2 883.3h0M340.4 884.9h0M341.8 884.5h0M341.1 881.4h0M339.1 881.9h0M340.2 885.2h0M340.4 881.1h0M340.7 885.1h0M342 882.3h0M342.8 881.5h0M339.1 885h0M340.7 882.1h0M341.4 885.8h0M340.7 883.9h0M356 855h0M354.8 884.6h0M357.7 875.5h0M357.7 887.4h0M357.8 868.1h0M355.2 884h0M355.6 876.2h0M356.2 881.2h0M357.6 864.1h0M357 881.7h0M354.7 871.8h0M354.3 895.6h0M357.3 895.7h0M355.8 895.5h0M357.5 893.7h0M354.9 892.3h0M354.7 894.2h0M356.1 891.1h0M355.1 894.2h0M362 840h0M362.5 860.9h0M363.2 884.3h0M361.2 871.9h0M361.7 863.7h0M363.1 855.5h0M362.9 848.9h0M362 854.7h0M362.7 884.2h0M361.3 856.8h0M362.8 885.8h0M362.6 892.8h0M363.3 893.4h0M362.3 894.3h0M363.5 891.9h0M362.7 895.2h0M362.1 895.9h0M361.2 892.6h0M361.6 890.1h0M313 909h0M312.2 913.5h0M312.1 928.1h0M313.4 927.1h0M312.6 917.1h0M314.5 917.6h0M312.8 912.4h0M311.2 936h0M314 930.7h0M314.3 935.7h0M313.3 931.6h0M374 800h0M375.6 856.9h0M373.8 854.8h0M375 831.6h0M374.7 865.3h0M375.6 852.4h0M373.7 841h0M373.3 867.3h0M373.9 831h0M374.7 829.1h0M373.2 853.8h0M373.3 844h0M374.1 838.8h0M373 846.6h0M374.2 814.3h0M374.1 843h0M372.9 850.4h0M375.2 863.9h0M372.2 865.4h0M373.6 862.4h0M375.3 864.7h0M375 860.2h0M374.9 868.5h0M374.2 871.6h0M373.7 863.2h0M374.2 875.8h0M373.6 872.7h0M372.5 865.2h0M374.6 868.7h0M380 805h0M380.4 830.2h0M380.3 815.2h0M379 826.9h0M379.2 816.2h0M380.4 830.9h0M379.7 856.4h0M380.6 817.9h0M378.7 842.5h0M378.2 859.6h0M378.4 836.3h0M380.4 842.4h0M377.8 854.3h0M379 815h0M381 842.3h0M379.9 862.5h0M380.2 863.6h0M380.3 862.1h0M381.9 860.1h0M378.7 865.3h0M379.5 861.7h0M379.2 865.8h0M380 862.7h0M380.7 863.7h0M379.8 860.8h0M381.5 864.4h0M448.5 805h0M448.7 847.9h0M447.3 818.7h0M447.4 843.5h0M446.9 843.2h0M449.2 824.5h0M448 849.9h0M448 843.9h0M449.4 847.2h0M449 837.8h0M450.1 826h0M448.6 837.9h0M448.2 843.5h0M447.1 827.7h0M447.4 818.7h0M448.4 846h0M450.6 823.7h0M447.6 833.2h0M448.5 840.6h0M450.4 855.8h0M449 853.4h0M444.6 851.9h0M448.9 853.8h0M448.6 851.3h0M447.7 850.4h0M448.4 850.2h0M448.2 852.5h0M445.7 855.2h0M447.4 850.2h0M447.6 852.3h0M449.1 850.5h0M448 853.4h0M447.4 853h0M461.8 792h0M461.3 830.5h0M459.8 826.7h0M462.1 833.1h0M462.2 820h0M462.8 829.8h0M462.2 818.9h0M461.9 827.5h0M462.2 846.8h0M461.3 839.2h0M462.1 834.4h0M461.1 804.9h0M461.7 828.4h0M462.1 830.9h0M463.1 849.1h0M462.4 834.8h0M461.4 824.4h0M461 835.8h0M463.1 813.9h0M465.2 851.9h0M463.3 852.6h0M461.7 850.3h0M462.2 853.6h0M462.2 854.1h0M462.9 851.7h0M462.3 851h0M460.3 850.2h0M462.5 852.5h0M462 850.7h0M461.7 851.9h0M463.8 855.2h0M460.8 853.1h0M463.3 854.7h0M470 815h0M470.4 856.2h0M469.4 837.6h0M471.2 815.8h0M470.3 851.3h0M470.5 833.3h0M468.8 821.7h0M470.4 859.7h0M468.8 822.8h0M471.3 823.4h0M469.2 849.8h0M471.4 852.6h0M470.4 845.3h0M470.9 854h0M469 853.5h0M471.3 824.6h0M469 854.6h0M470.6 861.4h0M468.8 865.8h0M472.4 863.5h0M470.6 863h0M471 864.2h0M469 862.9h0M468.5 861.8h0M468.3 862.2h0M472.5 864.9h0M470.3 863.3h0M469.1 864.4h0M469.2 865.6h0M478 800h0M478.5 848.7h0M478.3 843.1h0M479.1 808.2h0M479.4 815h0M475.9 834.3h0M474.8 834.7h0M477.1 848.5h0M480.8 820.2h0M476.5 844.5h0M479.5 844h0M475.2 826h0M476.4 815.2h0M481.2 851.2h0M481.2 843.2h0M479.9 837.5h0M478.4 844.2h0M477 845.1h0M478 810.4h0M479.8 850.1h0M475.9 831.3h0M478 851h0M479.2 811.2h0M476.2 859.5h0M478.5 846.4h0M479.2 834.8h0M480.9 856.4h0M475 814h0M478 857.5h0M479.5 857.8h0M475.8 842.5h0M475.3 863.3h0M476.5 864.5h0M476.6 865.4h0M476.6 861h0M477.4 862h0M478.1 865.4h0M478.9 862.3h0M478.9 862.2h0M480.8 863.1h0M474.5 860.4h0M478.1 863.6h0M475.8 861.4h0M479.5 860.1h0M483.5 861.2h0M479.1 863.3h0M475.8 863.8h0M480 862.6h0M477.3 861.2h0M473.5 864h0M481.7 862.5h0M477.9 863.2h0M479.5 864h0M478.2 863.4h0M478.8 863.7h0M504.8 793h0M504.7 832.9h0M505.1 795.3h0M506.8 844.4h0M506 831h0M504.6 823.1h0M504.1 815.2h0M504.7 817.1h0M504.2 830.1h0M504.3 802.3h0M506.1 821.9h0M505.1 830.4h0M504.2 831.3h0M503.9 828.6h0M504.6 824.8h0M503.1 827.4h0M505.2 846.9h0M504.9 854.2h0M505 851.7h0M507.1 850.3h0M505.4 851.1h0M504.5 854.5h0M506.2 853.4h0M505 854.1h0M501.7 851.4h0M504 851.5h0M505.4 851.5h0M505.9 854.8h0M505.3 853.5h0M498 810h0M497.5 841.6h0M496.2 846.9h0M497.3 827.4h0M500.1 823h0M499.7 841.5h0M498.7 843.4h0M500.1 834.2h0M498.1 847.9h0M500.4 848.2h0M497.4 844.9h0M497.1 835.8h0M496.4 841h0M497.2 827.5h0M498.5 849.5h0M499.4 853h0M498.7 855.9h0M500.7 853.4h0M499.6 854.7h0M501 853.8h0M495.9 850.2h0M496.9 853h0M494.9 855h0M497.7 854.8h0M496.7 850.2h0M498.2 855.7h0M512 820h0M512.5 845.7h0M511.6 855.9h0M513.2 859.7h0M512.1 827.2h0M511.3 842.6h0M511.9 824.8h0M511.4 830.7h0M509 840.2h0M509.8 851.5h0M513.1 839h0M513.5 858.2h0M511.3 822.1h0M512.6 861h0M512.7 861.5h0M511.9 862.4h0M511.6 864.5h0M513.6 861.5h0M514.3 862.5h0M511.9 862.6h0M511.2 862.9h0M511.9 861.6h0M522 835h0M520.9 865h0M523.6 846.2h0M520.8 854.5h0M522.6 855h0M518.4 857.2h0M521.9 844.9h0M523.9 864.8h0M519.7 837.6h0M523.7 865.6h0M521 864.1h0M521.9 853.2h0M520.8 862.4h0M521.9 875.5h0M523.2 872.6h0M523.8 870.3h0M522.2 871.8h0M522.9 871.1h0M521.4 871.6h0M524 872h0M521.7 871.1h0M520.7 875.3h0M540.6 811h0M539.3 852.6h0M540.6 835.7h0M539.2 845h0M540.1 854.1h0M540.7 827.3h0M539.8 822.8h0M540.7 851.6h0M540.1 858.9h0M541.9 824h0M538.5 822h0M540.3 826.8h0M541 820.7h0M538.4 841.3h0M540.6 847.1h0M540.9 854.8h0M542.4 841.9h0M539.8 825.1h0M540.1 838.1h0M541.1 860.8h0M540.4 865.1h0M540.4 861.5h0M539.6 862.3h0M541.2 862.4h0M539.2 865.4h0M537.8 863.2h0M542.9 861.5h0M541 860.1h0M539 863.7h0M538.7 861.8h0M541.3 861.5h0M539.9 860.6h0M542.5 860.1h0M535 835h0M536.5 836h0M538.4 864.3h0M538.2 868.1h0M533.7 867.9h0M533.8 850.2h0M535.3 851.9h0M535.8 864.2h0M534.2 853.7h0M536.3 864.9h0M532.9 867.8h0M534.8 840.8h0M536.1 862h0M535.9 873h0M533.7 874.5h0M531.4 871.9h0M537.6 875.2h0M538 874.9h0M532.5 870.4h0M533.6 871.8h0M529.9 875.2h0M534.4 870.1h0M572 860h0M572.2 870h0M570.3 872h0M569.6 870.1h0M571.6 872.4h0M573.3 863.3h0M571.4 875.6h0M573.1 874.3h0M572.6 872.2h0M571.9 872.3h0M571.8 869.4h0M571 883.6h0M570.4 886h0M573.2 883.8h0M574.4 885.7h0M572.7 883.8h0M570.9 882h0M571.4 884.7h0M575.3 882.5h0M587 843h0M589 868.7h0M586.5 875.4h0M587.5 878.3h0M587.2 874.6h0M587.5 871.1h0M587.5 864.8h0M588.5 876.2h0M587.5 869.6h0M588.5 877.8h0M587.8 878.3h0M586.6 858.7h0M586.5 876.8h0M587 883.3h0M588.5 883.2h0M585.5 882.7h0M585.5 885.2h0M584.9 880.9h0M586 885.4h0M585.7 886h0M587.2 884.3h0M585.4 883.7h0M590 820.5h0M589.6 835.8h0M589.2 877.6h0M589 861.4h0M589.2 847.8h0M589.9 877.5h0M590.4 869.4h0M591.3 875.1h0M589.1 860.6h0M589.5 845.8h0M590 846.1h0M590.5 859.4h0M591.4 868.4h0M590.5 879.8h0M589.4 874.2h0M589.1 876.6h0M589.6 876.8h0M590.3 883h0M590.8 876.2h0M590.1 884.9h0M591.3 876.3h0M592.9 883.1h0M599.5 820.5h0M599.6 878h0M600.3 851.7h0M599.2 883h0M599.3 883.2h0M602.4 842.2h0M598.3 850.6h0M600.6 861.9h0M599.2 833.5h0M600.2 878.8h0M599 844.4h0M599.4 843.6h0M599.2 881.2h0M600.4 874.3h0M601.1 837.3h0M599.2 834.6h0M598.3 850.4h0M601.6 869.8h0M599.5 858.9h0M599.3 882.9h0M600.6 844h0M601.5 876.8h0M600.3 855.4h0M599.4 880.1h0M599.1 891.7h0M600.9 888.2h0M601.9 883h0M599.5 882.3h0M600.4 888.8h0M598.2 883.4h0M597 882.2h0M599.3 891.4h0M597.6 891.1h0M599.7 884.3h0M596.7 887.2h0M600.3 880.5h0M598.9 889.1h0M598.2 881.5h0M598.8 888.5h0M600.4 892.1h0M606.6 838h0M605.3 884.4h0M607.3 872.9h0M605.6 877.9h0M607.1 839.1h0M606.1 888.9h0M606.5 853.9h0M605.8 888.5h0M605.5 864.4h0M606.3 845.6h0M606.7 885.6h0M608.2 888.8h0M605 856.1h0M607.3 855.3h0M607.8 854.2h0M605.7 843.3h0M606 888.9h0M610.6 878.8h0M607 840.9h0M608.3 869.6h0M606.1 850.1h0M607.3 888h0M606.3 891.3h0M606.5 885.8h0M608.3 892h0M605.1 885.3h0M610.2 889h0M607 888.8h0M608.7 885.6h0M606.8 887.5h0M606.3 890h0M608.7 886.5h0M606 888.7h0M606 886.2h0M607.1 891.3h0M606.3 887.4h0M606.4 890.4h0M620 880h0M619.4 887.7h0M620.4 889.6h0M620.3 885.4h0M619.6 881h0M619.7 885.6h0M619.9 883.5h0M620.1 890.3h0M619.3 893.5h0M618.9 898.7h0M621.3 895.1h0M617.9 896.8h0M617.9 899.6h0M619.2 896.1h0M619.6 898.2h0M626 879h0M626 902.9h0M625.7 907.8h0M626.7 885.5h0M624.4 901.3h0M625.3 884.9h0M625.5 890.8h0M626.5 895.5h0M626.4 882.5h0M627.5 912.4h0M625.9 914.5h0M623.3 902.2h0M626.2 908.6h0M626.2 909.4h0M624.9 909.1h0M635 895h0M636.1 915h0M634.9 917h0M636.7 915.2h0M635.8 904.3h0M634.9 916.1h0M634.3 915.5h0M634.1 915.5h0M633.9 923.4h0M635 916.8h0M636.5 919.6h0M656 894h0M656.1 903.7h0M657.7 900h0M655.4 906.1h0M656.6 896.1h0M656.7 908.4h0M655 897.3h0M656.6 897.6h0M656.1 902.5h0M655.2 911.1h0M656.5 913.6h0M656.8 907.6h0M656.9 912.6h0M655.9 910h0M659.9 909.1h0M667 885h0M666.4 888.1h0M667.5 895.6h0M668.8 904.2h0M667 903.4h0M666.8 895.3h0M667.3 894.7h0M668.7 893.2h0M667.5 902.7h0M665.8 905.2h0M665.5 891.6h0M666.5 899.6h0M667 904.8h0M667.7 902h0M667.9 907.3h0M667.3 900.1h0M665.6 906.6h0M665.8 908.2h0M667.4 905h0M666.7 910.2h0M666.1 900.2h0M666.4 907.4h0M677 872h0M677.6 886.9h0M679 903.8h0M676.8 903.8h0M679.2 881.4h0M676.2 894.9h0M676.6 882.2h0M676.8 897.1h0M678.3 885.1h0M676.9 894.1h0M675.2 901.5h0M676.3 892.7h0M676.9 897.2h0M678.3 896h0M675.2 890.3h0M677.3 892.8h0M678.3 879.8h0M678.4 902.1h0M677.3 905.2h0M679.2 904.7h0M675 904.8h0M677.2 907.2h0M674.9 909.3h0M676.2 904.2h0M676 902.6h0M677.5 906.8h0M675.4 907.2h0M678.3 901.1h0M678.4 907.6h0M685.5 864.5h0M685.7 888.3h0M683.4 881.5h0M685.5 887h0M685.8 891h0M685.7 878.1h0M684.2 878.6h0M685.5 882.1h0M684.8 894.6h0M686.3 870.3h0M685.2 890.8h0M686.4 870.7h0M687.3 888.4h0M685.7 887.3h0M684.8 891.7h0M685.1 872.2h0M685.6 893.2h0M684.4 888.5h0M683.9 887.9h0M684.1 898.5h0M686.4 899.7h0M682.4 895.2h0M687.9 895.1h0M686 896.5h0M686.2 895.1h0M686.3 897.4h0M686.1 899.9h0M683.5 899.4h0M683.4 899.1h0M683.1 900h0M686.1 895.7h0M689.3 900.6h0M684.9 897.8h0M690 890h0M688.8 901.1h0M688.8 893.3h0M690.1 896.2h0M690 893.3h0M690.9 891.2h0M691 896.2h0M689.8 893.3h0M688.9 900.3h0M688.7 901.7h0M690.1 905.5h0M691.7 903.6h0M690 905.4h0M689.6 904.9h0M690 902.6h0M698.4 859.4h0M699.2 883.5h0M697.9 893.6h0M698.7 876.1h0M698.3 872.3h0M697.9 896.3h0M698.2 875.1h0M697.7 897.7h0M696.5 876.2h0M698 883.9h0M698.6 888h0M697.4 889.4h0M697.7 887.7h0M696.8 869h0M699.2 868.2h0M698.7 873.6h0M697.3 886.7h0M697.7 884.6h0M698.3 887.6h0M697.4 871.8h0M700.9 876.2h0M698.5 896.7h0M699 903.3h0M698.5 896.8h0M697.9 902.1h0M701 902.3h0M697.7 903.4h0M699.4 896.3h0M700.4 895.1h0M697.1 899.1h0M698.8 904.6h0M697.4 896h0M697.5 900h0M696.6 900.2h0M697.1 896.3h0M700.7 900.1h0M700.2 901.6h0M720.3 882h0M721.3 887.5h0M723.3 900.7h0M721.3 901.6h0M718.9 887.1h0M720.5 892.1h0M720.5 897h0M718.9 886.1h0M719.3 889.6h0M721.1 902h0M720.7 884.7h0M721.6 893.5h0M719.1 893.1h0M719.6 896.6h0M721.3 903.8h0M720.6 901.2h0M722.3 895.4h0M720.8 907.3h0M719.1 907.5h0M719.5 909.1h0M720.2 906.7h0M724.9 905.4h0M721.6 907.5h0M720.2 910.2h0M722.6 910h0M720.4 909.6h0M719 907.2h0M720.3 909.5h0M720.5 908.8h0M737 897h0M739.1 910.1h0M737.5 912.7h0M738.9 901.9h0M736.3 909.7h0M737.6 905.8h0M737.9 904.4h0M737.2 902.4h0M736.7 910.9h0M736.4 912.3h0M735.5 907.4h0M737.8 919.8h0M736 918.4h0M734.8 917.7h0M734.9 919.4h0M736 920h0M736.6 916.3h0M735.1 917.6h0M735.9 916.4h0M754 922h0M753.1 928.9h0M755.1 924.2h0M755.1 928.4h0M752.6 928.7h0M754.2 927.7h0M753.7 926.7h0M754 933.5h0M751.8 933.8h0M753 931.6h0M754.5 931.6h0M760 929h0M760.9 932.3h0M761.3 934.8h0M760.3 934.7h0M759.8 930.4h0M761.2 931.8h0M760.2 934h0M761.2 940.6h0M758.9 938.9h0M759.5 940.4h0M761.4 940.7h0M766 924h0M765.5 928.4h0M766.6 930.1h0M767.2 934.7h0M765.6 932.3h0M766.7 934.6h0M767.2 934.1h0M766.7 940.6h0M767.2 937h0M765.3 938.7h0M767.6 938.8h0M782.7 861.4h0M781.9 894.2h0M783.8 892.6h0M782.4 879.2h0M780.9 894h0M782.7 873.2h0M781.8 883.5h0M782.7 893h0M783.6 877.4h0M781.3 893h0M783.2 882.8h0M782.1 893.7h0M783.9 871.8h0M783.9 890.9h0M780.7 902h0M780.5 874.4h0M783.7 890.5h0M783.1 901h0M781.2 901h0M782.7 874.5h0M783.6 889.9h0M782.6 874.1h0M784.8 889.5h0M783.1 898.3h0M782.9 887.3h0M781.7 899.5h0M780.4 889.1h0M783.1 884.8h0M782.9 886.7h0M782.7 897.2h0M782.6 902.9h0M784.3 883.5h0M784.4 878.3h0M781.6 889.5h0M786.2 873.9h0M781.7 885.4h0M784.4 883.2h0M780.6 900.3h0M784.3 882.4h0M783.7 885.9h0M784.2 890.8h0M782.1 902.5h0M782.4 902.7h0M781.3 908.5h0M785.1 900.3h0M782.7 907.7h0M781.3 904.5h0M782.7 906.7h0M785.4 901.8h0M782.3 905.9h0M783.5 901.9h0M785 904.1h0M780.3 901.3h0M786.2 908.2h0M785.6 902.8h0M785.6 900.1h0M781.8 909h0M782.5 909.1h0M783.7 908.5h0M784.8 904.5h0M784.2 900.1h0M782.6 908.5h0M783.5 907h0M783.1 900.7h0M784.7 900.2h0M781.5 901.8h0M783.7 904.9h0M784.4 902.2h0M782.9 901.2h0M783.9 902.7h0M782 904.9h0M782 901.7h0M782.6 908.7h0M787 900h0M784.8 909.2h0M785.8 903.2h0M788.1 919.3h0M787.7 922.1h0M785.4 926h0M788.6 923.7h0M787.9 910.5h0M786.8 919.9h0M786.5 923.8h0M787.3 905.2h0M786 911.4h0M788 916.1h0M786.3 911.6h0M788.3 906h0M788.4 911.6h0M786.4 919.8h0M787.2 918.9h0M786.3 915.8h0M789 932.6h0M785.2 931.8h0M787.4 933h0M785.8 934.1h0M787.4 935.6h0M787.6 930.7h0M786.8 931.9h0M787.7 935.6h0M786.4 931.1h0M786.2 935.7h0M785.1 934.2h0M787.5 935.4h0M786.3 932.4h0M785.5 935.5h0M792 918h0M792 935.4h0M791.3 932.5h0M792 936.7h0M792 929.9h0M791 939.1h0M792.4 934.6h0M791.2 939.9h0M790.3 926.6h0M792.9 939.1h0M791.5 929.8h0M792.2 919.4h0M791.4 936.9h0M791.6 943.3h0M791.2 945.3h0M794.8 940.6h0M791.3 945.3h0M789.3 945.1h0M792.1 940.8h0M794.3 945.9h0M793.4 943.8h0M792.5 944.5h0M801.6 895h0M801.6 901h0M801.3 922.5h0M801.4 925.1h0M802.2 940.8h0M800.6 915.2h0M803 910.7h0M802 943.6h0M801.2 935.4h0M802.1 937.2h0M801.5 918.8h0M799.6 939.6h0M801.9 914.7h0M802.3 931h0M801.6 938.8h0M802.2 928.9h0M802.1 937.1h0M800.3 911.6h0M801.2 906.3h0M800.8 900h0M802.4 947h0M801.3 909.8h0M801.4 943.3h0M800.9 955.9h0M803.4 954.6h0M801.5 955h0M802.5 950.6h0M803.2 953.1h0M801.8 951.7h0M800.3 954.8h0M800.5 952.7h0M800.8 950.4h0M801.6 952.3h0M802.1 953.4h0M800.5 954h0M803 950.5h0M802.2 955h0M802.2 952.9h0M803.3 952.5h0M803.1 951.5h0M828.2 978h0M829.4 994.1h0M827.7 988.7h0M828.7 992.9h0M828.9 980.9h0M828.8 988h0M829.6 992.5h0M828.2 984.7h0M827.5 991.9h0M828.9 992.1h0M828.6 992.4h0M827.5 995.9h0M825.7 1000.8h0M827.9 999.1h0M827.1 998.5h0M828.8 996.2h0M828.2 995.4h0M828.3 999.9h0M827.3 998h0M274 948h0M274.2 957.2h0M274.3 958.4h0M273.7 957.2h0M274.1 953.1h0M274.6 958.1h0M275.3 955.8h0M276.3 964.5h0M273 962.4h0M275.2 963.8h0M273.1 962.5h0M287.5 914h0M286.4 938.9h0M286.3 917.5h0M287.2 935.7h0M286.7 918.9h0M285.8 941h0M287.3 943.6h0M287.4 940.7h0M288.3 927.9h0M288 937.3h0M288.1 941h0M287.3 949.7h0M286.2 950.3h0M289 946.2h0M285.5 945.4h0M289.4 948.1h0M288.4 946.4h0M290.2 946.4h0M287.3 946.7h0M292 925h0M292.9 944.3h0M292.4 938.9h0M292.3 948.9h0M292.3 949.4h0M289.9 936h0M292.3 946.8h0M291.3 943h0M291.6 945.1h0M291.3 950.7h0M292.1 954.5h0M295.5 951.9h0M293.8 952.1h0M292.4 955.9h0M293.2 953.4h0M326.7 877h0M327.3 910.3h0M326.4 900.7h0M327.2 918.1h0M325.8 903.7h0M324.8 916.3h0M326.2 902.3h0M328 895.8h0M326.6 895.2h0M326 919.1h0M328.2 914.9h0M327.4 901.3h0M326.5 917.3h0M326.6 911.6h0M324.7 891h0M326.3 897.1h0M327 914.8h0M326 922.1h0M327.6 922.9h0M325 924.6h0M326.4 922.3h0M326.4 924.1h0M325.5 922.9h0M326.7 923.3h0M325.8 922.4h0M329.4 921.3h0M327.1 920.2h0M325.7 922.3h0M327.6 925.6h0" fill="none" stroke="#1f77b4" stroke-width="5.56" stroke-linecap="round"/>
<path d="M116.5 1019 117.5 1013.8 118.5 1008.1 118.5 1008 119.5 1010.5 120.5 1012.1 121.5 1014.4 121.9 1015.9 122.5 1014.8 123.5 1012 124.5 1008.2 124.5 1007.3 125.5 1008.2 126.5 1010.1 127.1 1011.9 127.5 1013.5 128.5 1014.8 129.5 1015.2 130.5 1015.8 130.5 1015.9 131.5 1016.8 132.5 1017.1 133 1017.4 133.5 1015.8 134.5 1011.9 135.5 1008.2 135.6 1007.8 136.5 1009.5 137.5 1011 138.5 1012.3 139 1013.4 139.5 1011.6 140.5 1007.4 141.5 1003.8 142.4 1001 142.5 1001.6 143.5 1004.2 144.5 1006.5 145.5 1009.8 145.8 1011.5 146.5 1008.8 147.5 1005 148.5 1002.1 149.5 998.9 150.1 997.1 150.5 1001.2 151.5 1011 151.8 1013.8 152.5 1007.3 153.5 997.4 154 991.5 154.5 998 155.5 1011.4 156.1 1019.1 156.5 1018.8 157.5 1016.8 158.5 1013.9 158.6 1013.4 159.5 1018 160.3 1022.3 160.5 1020.7 161.5 1016.1 162.5 1011.9 162.9 1009.3 163.5 1010.9 164.5 1015.5 164.6 1017.1 165.5 1015.8 166.5 1013 167.2 1011.7 167.5 1012.7 168.5 1013.3 169.5 1013.7 169.7 1014.4 170.5 1016.2 171.5 1017.9 172.5 1019.2 173.1 1019.5 173.5 1019.3 174.5 1020.1 175.5 1020.6 176.5 1020.5 176.6 1020.4 177.5 1017.3 178.5 1013 179.5 1008.2 180 1006.7 180.5 1009.2 181.5 1011.5 182.5 1013.5 183.4 1016.3 183.5 1016.1 184.5 1015.1 185.5 1014.9 186.5 1013.9 186.8 1013.2 187.5 1012.7 188.5 1011 189.5 1008.7 190.5 1006.5 191.1 1005 191.5 1006.5 192.5 1009.3 193.5 1011.1 193.6 1011.4 194.5 1010.2 195.5 1008.9 196.5 1007.5 197 1006.1 197.5 1007 198.5 1010.2 199.5 1013.1 199.6 1012.5 200.5 1009.8 201.5 1007.7 202.5 1006.7 203 1006.4 203.5 1008 204.5 1011 205.5 1014.6 205.6 1015.8 206.5 1014.6 207.5 1011.9 208.5 1010.3 209.5 1009.8 210.5 1009.6 210.7 1009.9 211.5 1009.5 212.5 1009.7 213.2 1010.2 213.5 1009.9 214.5 1012.1 215.5 1014.8 215.8 1014.7 216.5 1010 217.5 1004.8 218.5 1000.7 219.5 996 220.1 992.5 220.5 994 221.5 998.6 222.5 1002.9 222.6 1003.2 223.5 1002 224.5 999.9 225.2 999.1 225.5 1001.3 226.5 1005.4 227.5 1009.3 227.7 1011.2 228.5 1011.2 229.5 1010 230.3 1009 230.5 1008.5 231.5 1003.9 232.5 999.1 232.9 998.1 233.5 1001.1 234.5 1004.4 234.6 1004.6 235.5 1000.3 236.5 995.1 237.1 992.2 237.5 994.9 238.5 1000.9 239.5 1005.9 240.5 1010.6 240.5 1011.3 241.5 1005.4 242.5 998.6 243.1 994.1 243.5 995.7 244.5 999.9 245.5 1003.3 245.7 1003.1 246.5 1000.4 247.5 996.7 248.2 993.3 248.5 995.1 249.5 999.3 249.9 999.1 250.5 996.8 251.5 996.2 252.5 995.6 252.5 995.4 253.5 998.3 254.5 1001.4 255.1 1003.6 255.5 1005.3 256.5 1007.1 257.5 1008.7 258.5 1011.1 258.5 1011 259.5 1007.4 260.2 1005.2 260.5 1007.6 261 1011.9 261.5 1010.7 262.5 1006.7 263.5 1002 264.5 997.7 265.3 995.6 265.5 997.7 266.5 1002.4 267 1004.8 267.5 1004.1 268.5 1002.5 269.5 1000.4 270.4 997.8 270.5 997.6 271.5 995.5 272.5 993.1 273.5 990.5 273.8 989.7 274.5 992.2 275.5 995.4 276.4 997.1 276.5 995.8 277.5 991 278.1 988.3 278.5 991 279.5 996.7 280.5 1001.2 280.6 1001.3 281.5 996.8 282.4 992.4 282.5 993.3 283.5 995.2 284.1 995.3 284.5 992.6 285.5 986.9 286.5 980.3 287.5 974.8 287.5 975.5 288.5 976 289.5 976.3 290.5 977.1 290.9 977.7 291.5 983.2 292.5 991.8 293.4 1001.4 293.5 1002.1 294.5 999.1 295.5 996.3 296 995.5 296.5 995.3 297.5 994.3 298.5 992.8 298.6 991.3 299.5 991.9 300.5 994.2 301.5 996.8 302.5 999.9 302.8 1001.4 303.5 998.1 304.5 993.6 305.4 989 305.5 988.2 306.5 991.8 307.1 994.2 307.5 992.8 308.5 989.4 309.5 985.9 310.5 981.9 311.5 976.7 312.2 972.7 312.5 976.6 313.5 988.3 313.9 992.7 314.5 985.8 315.5 975.7 316.1 969.7 316.5 973.5 317.5 986 318.2 996.4 318.5 998.2 319.5 998.3 320.5 998.3 321.5 999.9 322.5 1002 323.3 1003.8 323.5 999.7 324.5 975.1 325.5 950.4 326.4 928.3 326.5 929.2 327.5 946.2 328.4 963.2 328.5 963.5 329.5 969 330.5 974.7 331.5 979.8 331.8 981.1 332.5 978.5 333.5 977 334.5 976 335.3 974.5 335.5 973.7 336.5 969.2 337.5 963.9 338.5 957.2 338.7 954.6 339.5 948.6 340.5 941.7 341 937.1 341.5 944.6 342.5 959.1 343.5 975.3 344 986 344.5 974.3 345.5 947.8 346.5 920.4 347.1 901.1 347.5 908 348.5 930.6 349.5 951.6 350.2 967.1 350.5 972.2 351.5 978.2 352.5 981.7 353.5 985.3 353.7 985.8 354.5 972.2 355.5 955.1 356.3 941.2 356.5 942.6 357.5 957.6 358.4 973.4 358.5 973.2 359.5 962.9 360.4 952.3 360.5 952.1 361.5 969.9 362.5 986.6 362.5 984.6 363.5 979.8 364.5 974.7 365.5 968.7 366.5 965.4 366.6 966.6 367.5 971.5 368.5 976.8 368.6 979.7 369.5 971.4 370.5 958.5 370.7 953.8 371.5 956.9 372.5 962.8 373.5 968.3 373.7 968.9 374.5 963.4 375.5 957.1 375.8 953.6 376.5 947.6 377.5 943.7 378.5 939.8 378.8 937.8 379.5 937.4 380.5 938.4 381.5 937.6 381.9 935.4 382.5 946.6 383.5 962.4 384 966 384.5 953.7 385.5 933.5 386.5 912.4 387 901.1 387.5 905.7 388.5 915.5 389.1 922.2 389.5 927.5 390.5 940.8 391.5 954 391.7 957.1 392.5 956.2 393.5 953.4 394.2 950.1 394.5 935 395.5 881.6 396.5 826.4 396.7 815.7 397.5 861.3 398.5 917.1 398.7 930.5 399.5 893.6 400.5 843.9 401.2 809.9 401.5 824.2 402.5 868.8 403.4 909.4 403.5 908.2 404.5 898.2 405.5 888.3 405.5 887.1 406.5 864.9 407.5 845.9 407.5 847.3 408.5 876.9 409.5 907.4 410.2 929.7 410.5 926 411.5 911.6 412.2 900.3 412.5 902.2 413.5 913.5 413.7 914.1 414.5 899 415.5 881.4 416.5 863 417.3 848 417.5 851.7 418.5 869 419.2 880.8 419.5 874.6 420.5 855.9 420.8 850 421.5 863.5 422.5 886.1 422.9 895.6 423.5 906.2 424.5 922.9 425.5 938.9 425.9 946.4 426.5 933.1 427.5 908.3 428 896.8 428.5 906.8 429.5 924.2 430.5 942.2 431.1 952.1 431.5 945 432.5 930.4 433.5 915.3 434.1 906.7 434.5 909.6 435.5 913.7 436.5 918.5 436.8 922.5 437.5 925.7 438.5 924.7 438.8 923.6 439.5 939.3 440.5 962 440.9 970.2 441.5 957.3 442.5 937.6 442.9 930 443.5 942.6 444.5 965 445 977.1 445.5 960 446.5 924.1 447.5 886.8 447.9 871.4 448.5 889.4 449.5 920.7 450.5 954.3 450.5 957.1 451.5 947.6 452 941.8 452.5 946.6 453.5 956.3 454 960.2 454.5 952.3 455 943.8 455.5 948.8 456.5 962.1 457.1 971.1 457.5 964.4 458.5 947.1 459.5 929.6 460.5 913.5 461.2 903.4 461.5 907.6 462.5 918 463.5 929 463.8 933.9 464.5 939.4 465.5 947.2 466.3 954.7 466.5 952.8 467.5 943.1 468.5 934.2 469.5 923 470.4 911.2 470.5 911.4 471.5 926.7 472.4 943.2 472.5 944.7 473.5 928.3 474.1 917.4 474.5 922.6 475.5 938.5 476.5 956.6 476.5 958.9 477.5 938.8 478.5 916 479.2 899.8 479.5 905.1 480.5 923.5 481.5 942.5 481.9 949 482.5 936.2 483.5 916.4 484.5 896.6 485.3 880.5 485.5 883.7 486.5 898.5 487.5 911.5 488.4 923.2 488.5 921.7 489.5 911.3 490 906.9 490.5 915.9 491.5 933.4 492.1 943.7 492.5 931.6 493.5 901.3 493.9 888.1 494.5 903.1 495.5 926.3 495.6 927.2 496.5 934.8 497.5 942.2 498.2 946.8 498.5 941.9 499.5 921.8 499.7 918.9 500.5 932.1 501.5 945.1 502.3 956.4 502.5 954.6 503.5 935.6 504.4 918.9 504.5 921.9 505.5 945.5 506.4 966.9 506.5 967.2 507.5 959.7 508.5 948.7 509.5 936.2 509.9 931.7 510.5 943.4 511.5 961.7 512 970.6 512.5 965.1 513.5 951.1 514 942.1 514.5 943.5 515.5 947.6 516.5 950.3 517.5 952.3 518.1 953.8 518.5 953.5 519.5 949.5 520.5 942.6 520.8 938.4 521.5 940.4 522.5 946.8 522.8 950 523.5 946.6 524.2 941.2 524.5 942.1 525.5 956.5 526.5 972.9 526.7 976 527.5 971.3 528.5 966.8 529.5 962.8 530.4 959.1 530.5 957.9 531.5 956.4 532.4 956.5 532.5 957.4 533.5 947.2 534.5 934 535.5 921.1 535.5 921.8 536.5 936.7 537.1 946.7 537.5 944.1 538.5 936.8 539.5 931 539.6 930 540.5 935.5 541.5 943.6 542.5 951.4 543.5 957.4 543.7 958.9 544.5 957.6 545.5 955.6 546.5 952.1 546.8 950.1 547.5 948.9 548.5 947.7 549.2 945.3 549.5 946.4 550.5 957.5 551.5 971.2 551.9 979.5 552.5 971.4 553.5 954.6 553.9 947.9 554.5 953.6 555.5 961.2 556 964.2 556.5 961.6 557.5 955.4 558.4 949.4 558.5 950.7 559.5 958.3 560.1 962.1 560.5 962.2 561.5 958.3 562.5 951.6 562.5 952.1 563.5 957.3 564.5 960.7 565.2 963.1 565.5 965.1 566.5 970.7 567.5 974.6 568.3 977.1 568.5 976.9 569.5 979.3 569.9 979.8 570.5 968 571.5 951.6 572 945.1 572.5 951.6 573.5 963.3 574.4 976.3 574.5 979.5 575.5 971.2 576.5 959 577.5 948 577.5 948.1 578.5 947.3 579.5 946.9 580.5 946.1 581 946.9 581.5 954.1 582.5 961.5 583 963 583.5 965.1 584.5 970.5 585.1 974.9 585.5 971 586.5 957.8 587.1 950.2 587.2 950.7 587.5 954.6 588.5 968.1 589.2 976.2 589.2 971.1 589.5 971.1 590.5 972.3 591.5 975.4 592.5 980.8 593.3 984.1 593.5 982 594.5 974.9 595.5 969.4 596.4 964.3 596.5 961.4 597.5 952.9 598.5 945.4 599.5 937 599.5 937.1 600.5 945.9 601.5 956.3 602.5 964.7 602.5 962.4 603.5 951.6 604.5 943.7 605.5 936.6 606.5 928.5 606.6 927.7 607.5 940.8 608.5 954.9 609.5 971.4 610.3 986.7 610.5 986.6 611.5 980 612.5 973.2 613.5 966.4 614.5 960 615.5 954.3 615.8 951.9 616.5 961.1 617.5 976.7 617.9 982.4 618.5 958.2 619.5 920.7 619.5 920 620.5 941.1 621.5 963.4 622 973.8 622.5 969.9 623.5 967.1 624.5 966.6 625.5 965.3 626.1 963.5 626.5 966.5 627.5 976.4 628.1 983.7 628.5 982.7 629.5 979 630.5 977.2 631.5 977.3 632.5 975.9 633.5 973.5 634.3 972 634.5 974.6 635.5 981.7 636.5 985.4 637.5 987.9 638.5 992 639.4 996.9 639.5 996.5 640.5 984.8 641.4 975.4 641.5 978 642.5 984 643.5 988.5 644.5 994.1 645.1 998 645.5 996.4 646.5 992.2 647.5 987.1 648.5 982.2 649.5 977.7 650.5 973.4 650.7 975.4 651.5 984.3 652.1 986.2 652.5 982.6 653.5 980.1 654.5 977.1 654.7 976.9 655.5 978.5 656.5 979.8 657.5 980.1 658.5 981.6 658.8 984.5 659.5 982.9 660.5 977 661.5 971.7 662.5 968.6 663.5 965.5 664 964 664.5 969.3 665.5 977.5 666.5 982 667 982.8 667.5 979.6 668.5 972.6 669.1 968.2 669.5 971 670.5 973.6 671.1 974.1 671.5 973.8 672.5 971.6 673.5 967.6 674.5 962.2 675.5 958.7 676.3 957.2 676.5 959.6 677.5 969.3 678.3 979.6 678.5 981.5 679.5 975.2 680.3 968.4 680.5 968.2 681.5 964.2 682.5 959.4 683.5 956.5 684.5 954.2 685.5 950.4 685.5 950.3 686.5 950.6 687.5 949.9 688.5 951.9 688.5 952.9 689.5 959.6 690.5 968.2 690.6 970.2 691.5 969.7 692.5 968.8 693.5 967 694.5 964.7 694.7 963.6 695.5 968.9 696.5 977.5 696.7 980.5 697.5 961.2 698.4 939.7 698.5 941.4 699.5 956.2 700.5 972.1 700.8 977.5 701.5 975.8 702.5 973.3 703.5 971.4 704.5 968.6 704.9 967.9 705.5 971.5 706.5 972.5 707.5 971.7 708.5 974 709 977 709.5 979.3 710.5 980.4 711.5 981.3 712.5 983.4 713.1 984.5 713.5 981.5 714.5 975.5 715.2 972.4 715.5 972.6 716.5 971 717.5 968 718.5 964.3 719.5 961 720.5 958.4 721.3 955.8 721.5 955.7 722.5 962.2 723.5 968.9 724.4 971.8 724.5 971 725.5 972.4 726.5 973.1 727.5 974.9 727.5 975.8 728.5 971.8 729.5 968.4 730.1 964.6 730.5 968.6 731.5 984.2 731.5 984 732.5 970.8 733.5 959.8 734 955.2 734.5 958.3 735.5 965.1 736.5 973.5 736.7 975.1 737.5 961.4 737.7 958.7 738.5 969.8 739.5 982 740.5 993.7 740.8 997.4 741.5 993.2 742.5 987.4 743.5 983.5 744.5 978.2 745.5 970.8 745.9 970.5 746.5 977.9 747.5 984.8 748.5 990.2 749.5 996 750 999.7 750.5 996.5 751.5 990.3 752.5 987 753.5 985.2 754.5 981.3 755.1 976 755.5 974.5 756.5 977.7 757.5 983 758.2 986.2 758.5 985.8 759.5 987.8 760.5 991 761.2 992.9 761.5 992.4 762.5 995.1 763.3 1000.5 763.5 999.4 764.5 982 765.3 967.3 765.5 967.5 766.5 977.7 767.4 989 767.5 989.4 768.5 993.5 769.4 998.2 769.5 999 770.5 995.8 771.5 990.9 772.5 985.3 772.5 983.6 773.5 982.3 774.5 982.3 775.5 981.2 776.5 980.6 776.6 981.7 777.5 988.7 778.5 995.7 778.6 997.9 779.5 984.5 780.5 965.5 781.5 946.9 781.7 944.7 782.5 956.8 783.5 969.9 784.5 982.3 784.8 985.7 785.5 982.4 786.5 977.4 787.5 974.1 788.5 973.1 788.5 974.7 789.5 981.2 790.5 986.9 790.9 988.3 791.5 985.4 792.5 982.2 793 980.7 793.5 983.7 794.5 988.7 795.5 994.5 796.1 999.2 796.5 999.1 797.5 998.9 798.1 997.3 798.5 989.7 799.5 978.1 800.5 969.4 800.8 969.6 801.5 978.5 802.5 988.1 803.2 994.7 803.5 994 804.5 996.8 805.5 1000.9 806.5 1004.7 807.3 1007.3 807.5 1008.3 808.5 1008.7 809.5 1007 810.5 1005.5 811.4 1004.9 811.5 1004.4 812.5 1007.9 813.5 1012.6 813.5 1012 814.5 1008.5 815.5 1007.7 816.5 1008.1 817.5 1007.3 818.5 1005.9 818.6 1005.5 819.5 1007.7 820.5 1010.5 821.5 1014.8 821.7 1016.9 822.5 1018.5 823.5 1019.6 824.5 1018.6 825.5 1015.7 825.8 1013.7 826.5 1009.7 827.5 1006 828.2 1003.1 828.5 1002.1 829.5 1005 830.5 1012.1 830.9 1014.6 831.5 1014.7 832.5 1014.2 833.5 1013 834.5 1011.8 835 1011.3 835.5 1012.3 836.5 1015.2 837.5 1019 838.5 1022.1 839.5 1024 840.1 1024.6 840.5 1024.5 841.5 1024.8 842.5 1025.1 843.2 1026.3 843.5 1026.8 844.5 1026.7 845.5 1026.3 846.2 1026.2 846.5 1027.1 847.5 1027 848.5 1025.9 849.5 1026.5 849.9 1027.9 850.5 1028.4 851.5 1028.1 852.5 1028.7 853.4 1029.8 853.5 1029.5 854.5 1028.6 855.4 1028.3 855.5 1028.3 856.5 1029 857.5 1029.9 858.1 1030.1 858.5 1030.6 859.5 1031.5 860.5 1031.8 860.6 1031.4 861.5 1031.2 862.5 1031.4 863.5 1031.6 864.5 1031.9 865.5 1032.1 866.5 1033.1 866.7 1033.2 867.5 1032 868.5 1031.3 869.5 1031.3 870.5 1031.6 871.5 1031.7 872.5 1031.7 873.5 1031.8 874.5 1031.8 874.9 1031.8 875.5 1031.8 876.5 1031.9 877.5 1031.9 878.5 1031.9 879.5 1031.9 880 1031.9 880.5 1031.9 881.5 1031.9 882.5 1031.9 883.5 1031.9 884.5 1031.9 885.5 1031.9 886.5 1031.9 887.5 1031.9 888.5 1031.9 889.5 1031.9 890.5 1031.9 891.5 1031.9 892.5 1031.9 893.5 1031.9 894.5 1031.9 895.5 1031.9 896.5 1031.9 897.5 1031.9 898.5 1031.9 899.5 1031.9 900 1031.9 900.5 1031.9 901.5 1031.9 902.5 1031.9 903.5 1031.9 904.5 1031.9 905.5 1031.9 906.5 1031.9 907.5 1031.9 908.5 1031.9 909.5 1031.9 910.5 1031.9 911.5 1031.9 912.5 1031.9 913.5 1031.9 914.5 1031.9 915.5 1031.9 916.5 1031.9 917.5 1031.9 918.5 1031.9 919.5 1031.9 920.5 1031.9 921.5 1031.9 922.5 1031.9 923.5 1031.9 924.5 1031.9 925.5 1031.9 926.5 1031.9 927.5 1031.9 928.5 1031.9 929.5 1031.9 930.5 1031.9 931.5 1031.9 932.5 1031.9 933.5 1031.9 934.5 1031.9 935.5 1031.9 936.5 1031.9 937.5 1031.9 938.5 1031.9 939.5 1031.9 940.5 1031.9 941.5 1031.9 942.5 1031.9 943.5 1031.9 944.5 1031.9 945.5 1031.9 946.5 1031.9 947.5 1031.9 948.5 1031.9 949.5 1031.9 950.5 1032 951.5 1032 952.5 1032 953.5 1032 954.5 1032 955.5 1032 956.5 1032 957.5 1032 958.5 1032 959.5 1032 960.5 1032 961.5 1032 962.5 1032 963.5 1032 964.5 1032 965.5 1032 966.5 1032 967.5 1032 968.5 1032 969.5 1032 970.5 1032 971.5 1032 972.5 1032 973.5 1032 974.5 1032 975.5 1032 976.5 1032 977.5 1032 978.5 1032 979.5 1032 980.5 1032 981.5 1032 982.5 1032 983.5 1032 984.5 1032 985.5 1032 986.5 1032 987.5 1032 988.5 1032 989.5 1032 990.5 1032 991.5 1032 992.5 1032 993.5 1032 994.5 1032 995.5 1032 996.5 1032 997.5 1032 998.5 1032 999.5 1032 1000 1032 1000.5 1032 1001.5 1032 1002.5 1032 1003.5 1032 1004.5 1032 1005.5 1032 1006.5 1032 1007.5 1032 1008.5 1032 1009.5 1032 1010.5 1032 1011.5 1032 1012.5 1032 1013.5 1032 1014.5 1032 1015.5 1032 1016.5 1032 1017.5 1032 1018.5 1032 1019.5 1032 1020.5 1032 1021.5 1032 1022.5 1032 1023.5 1032 1024.5 1032 1025.5 1032 1026.5 1032 1027.5 1032 1028.5 1032 1029.5 1032 1030.5 1032 1031.5 1032 1032.5 1032 1033.5 1032 1034.5 1032 1035.5 1032 1036.5 1032 1037.5 1032 1038.5 1032 1039.5 1032 1040.5 1032 1041.5 1032 1042.5 1032 1043.5 1032 1044.5 1032 1045.5 1032 1046.5 1032 1047.5 1032 1048.5 1032 1049.5 1032 1050.5 1032 1051.5 1032 1052.5 1032 1053.5 1032 1054.5 1032 1055.5 1032 1056.5 1032 1057.5 1032 1058.5 1032 1059.5 1032 1060.5 1032 1061.5 1032 1062.5 1032 1063.5 1032 1064.5 1032 1065.5 1032 1066.5 1032 1067.5 1032 1068.5 1032 1069.5 1032 1070.5 1032 1071.5 1032 1072.5 1032 1073.5 1032 1074.5 1032 1075.5 1032 1076.5 1032 1077.5 1032 1078.5 1032 1079.5 1032 1080.5 1032 1081.5 1032 1082.5 1032 1083.5 1032 1084.5 1032 1085.5 1032 1086.5 1032 1087.5 1032 1088.5 1032 1089.5 1032 1090.5 1032 1091.5 1032 1092.5 1032 1093.5 1032 1094.5 1032 1095.5 1032 1096.5 1032 1097.5 1032 1098.5 1032 1099.5 1032 1100 1032 1100.5 1032 1101.5 1032 1102.5 1032 1103.5 1032 1104.5 1032 1105.5 1032 1106.5 1032 1107.5 1032 1108.5 1032 1109.5 1032 1110.5 1032 1111.5 1032 1112.5 1032 1113.5 1032 1114.5 1032 1115.5 1032 1116.5 1032 1117.5 1032 1118.5 1032 1119.5 1032 1120.5 1032 1121.5 1032 1122.5 1032 1123.5 1032 1124.5 1032 1125.5 1032 1126.5 1032 1127.5 1032 1128.5 1032 1129.5 1032 1130.5 1032 1131.5 1032 1132.5 1032 1133.5 1032 1134.5 1032 1135.5 1032 1136.5 1032 1137.5 1032 1138.5 1032 1139.5 1032 1140.5 1032 1141.5 1032 1142.5 1032 1143.5 1032 1144.5 1032 1145.5 1032 1146.5 1032 1147.5 1032 1148.5 1032 1149.5 1032 1150.5 1032 1151.5 1032 1152.5 1032 1153.5 1032 1154.5 1032 1155.5 1032 1156.5 1032 1157.5 1032 1158.5 1032 1159.5 1032 1160.5 1032 1161.5 1032 1162.5 1032 1163.5 1032 1164.5 1032 1165.5 1032 1166.5 1032 1167.5 1032 1168.5 1032 1169.5 1032 1170.5 1032 1171.5 1032 1172.5 1032 1173.5 1032 1174.5 1032 1175.5 1032 1176.5 1032 1177.5 1032 1178.5 1032 1179.5 1032 1180.5 1032 1181.5 1032 1182.5 1032 1183.5 1032 1184.5 1032 1185.5 1032 1186.5 1032 1187.5 1032 1188.5 1032 1189.5 1032 1190.5 1032 1191.5 1032 1192.5 1032 1193.5 1032 1194.5 1032 1195.5 1032 1196.5 1032 1197.5 1032 1198.5 1032 1199.5 1032 1200 1032 1200.5 1032 1201.5 1032 1202.5 1032 1203.5 1032 1204.5 1032 1205.5 1032 1206.5 1032 1207.5 1032 1208.5 1032 1209.5 1032 1210.5 1032 1211.5 1032 1212.5 1032 1213.5 1032 1214.5 1032 1215.5 1032 1216.5 1032 1217.5 1032 1218.5 1032 1219.5 1032 1220.5 1032 1221.5 1032 1222.5 1032 1223.5 1032 1224.5 1032 1225.5 1032 1226.5 1032 1227.5 1032 1228.5 1032 1229.5 1032 1230.5 1031.9 1231.5 1031.9 1232.5 1031.9 1233.5 1031.9 1234.5 1031.9 1235.5 1031.9 1236.5 1031.9 1237.5 1031.9 1238.5 1031.9 1239.5 1031.9 1240.5 1031.9 1241.5 1031.9 1242.5 1031.9 1243.5 1031.9 1244.5 1031.9 1245.5 1031.9 1246.5 1031.9 1247.5 1031.9 1248.5 1031.9 1249.5 1031.9 1250.5 1031.9 1251.5 1031.9 1252.5 1031.9 1253.5 1031.9 1254.5 1031.9 1255.5 1031.9 1256.5 1031.9 1257.5 1031.9 1258.5 1031.9 1259.5 1031.9 1260 1031.9 1260.5 1031.9 1261.5 1031.9 1262.5 1031.9 1263.5 1031.9 1264.5 1031.8 1265.5 1031.8 1266.5 1031.8 1267.5 1031.8 1268.5 1031.8 1269.5 1031.8 1270.5 1031.8 1271.5 1031.7 1272 1031.7 1272.5 1031.7 1273.5 1031.7 1274.5 1031.7 1275.5 1031.7 1276.5 1031.7 1277.5 1031.6 1278.5 1031.6 1279.5 1031.6 1280.5 1031.6 1281.5 1031.6 1282.5 1031.6 1283.5 1031.5 1284.5 1031.5 1285.5 1031.5 1286.5 1031.5 1287.5 1031.5 1288.4 1031.5 1288.5 1031.5 1289.5 1031.5 1290.5 1031.5 1291.5 1031.4 1292.5 1031.4 1293.5 1031.4 1294.5 1031.4 1295.5 1031.4 1296.5 1031.4 1297.5 1031.4 1298.5 1031.4 1299.5 1031.4 1300.5 1031.4 1301.5 1031.4 1302.5 1031.4 1303.5 1031.4 1304.5 1031.3 1305.5 1031.3 1306.1 1031.3 1306.5 1031.3 1307.5 1031.3 1308.5 1031.2 1309.5 1031.2 1310.5 1031.1 1311.5 1031.1 1312.5 1031 1313.5 1031 1314.5 1030.9 1315.5 1030.9 1316.5 1030.8 1317.5 1030.8 1318.5 1030.8 1319.5 1030.7 1320.5 1030.7 1321.5 1030.6 1322.5 1030.6 1323.5 1030.5 1324.5 1030.5 1325.5 1030.4 1326.5 1030.4 1326.6 1030.4 1327.5 1030.3 1328.5 1030.3 1329.5 1030.3 1330.5 1030.2 1331.5 1030.2 1332.5 1030.1 1333.5 1030.1 1334.5 1030 1335.5 1030 1336.5 1030 1337.5 1029.9 1338.5 1029.9 1339.5 1029.8 1340.5 1029.6 1341.5 1029.6 1342.5 1029.6 1343 1030 1343.5 1029.9 1344.5 1029.6 1345.5 1029.4 1346.5 1029.2 1347.5 1029.2 1348.5 1029.3 1349.5 1029.2 1350.5 1029 1351.5 1029.1 1352.5 1029.2 1353.5 1028.9 1354.5 1028.5 1355.5 1028.2 1356.5 1028 1357.5 1028.2 1358.5 1028.6 1359.4 1028.8 1359.5 1028.8 1360.5 1028.5 1361.5 1028.1 1362.5 1027.8 1363.5 1027.5 1364.5 1027.5 1365.5 1027.5 1366.5 1027.6 1367.5 1027.7 1367.6 1027.6 1368.5 1027.5 1369.5 1027.6 1370.5 1027.6 1371.5 1027.2 1372.5 1026.7 1373.5 1026.8 1374.5 1026.4 1375.5 1025.9 1375.8 1026.1 1376.5 1026 1377.5 1025.5 1378.5 1025.6 1379.5 1025.6 1380.5 1025.1 1381.2 1024.6 1381.5 1024.5 1382.5 1024.5 1383.5 1024.5 1384.5 1024.2 1385.5 1024 1386.5 1023.6 1387.5 1023.3 1388 1023.7 1388.5 1023.3 1389.5 1021.5 1390.1 1020.2 1390.5 1021.5 1391.5 1025.1 1391.9 1026.4 1392.5 1022.7 1393.5 1016.6 1393.5 1016.3 1394.5 1019.8 1395.5 1023.6 1396.2 1026.5 1396.5 1026.1 1397.5 1025.3 1398.5 1024.8 1399.5 1024.1 1400.3 1023.3 1400.5 1023.1 1401.5 1022.9 1402.4 1023 1402.5 1023.2 1403.5 1019.9 1404.4 1016.4 1404.5 1016.9 1405.5 1019.7 1406.5 1022.5 1407.2 1024.8 1407.5 1024.1 1408.5 1022.6 1409.5 1021.2 1409.9 1021.1 1410.5 1021.9 1411.5 1022.4 1412.5 1022.9 1412.6 1023.6 1413.5 1021.3 1414.5 1017.3 1414.7 1016.1 1415.5 1017.6 1416.5 1020.1 1417.4 1022.7 1417.5 1022.7 1418.5 1020.7 1419.5 1018.2 1420.1 1017.3 1420.5 1018.8 1421.5 1020.2 1422.2 1021.3 1422.5 1021.9 1423.5 1022.1 1424.5 1021.8 1425.5 1021.8 1426.3 1021.9 1426.5 1021.2 1427.5 1019.3 1428.5 1017.3 1429 1016.7 1429.5 1017.3 1430.5 1016.8 1431 1016.2 1431.5 1015.6 1432.5 1013.7 1433.1 1012.2 1433.5 1012.2 1434.5 1013.9 1435.1 1016.3 1435.5 1016.7 1436.5 1015.9 1437.5 1015.3 1438.5 1014.8 1438.6 1014.3 1439.5 1011.4 1440.5 1008.6 1441.5 1006 1442 1004.8 1442.5 1007.1 1443.5 1011.4 1444 1013.3 1444.5 1009.8 1445.5 1003.3 1446.5 998.5 1446.5 999.9 1447.5 1002.2 1448.5 1004.6 1448.8 1006 1449.5 1006.9 1450.5 1007.8 1450.8 1008.1 1451.5 1004.3 1452.5 998 1453.3 992.5 1453.5 993.5 1454.5 997.2 1455.5 1000.8 1455.6 1001.9 1456.5 1002 1457.5 1001.7 1458.3 1002.2 1458.5 1002.1 1459.5 1001.3 1460.5 1001.6 1461.5 1002 1462.2 1001" fill="none" stroke="#ff7f0e" stroke-width="2.35" stroke-linejoin="round" stroke-linecap="butt"/>
</g>
<path d="M116.5 1054.5v5M284.5 1054.5v5M452.5 1054.5v5M621.5 1054.5v5M789.5 1054.5v5M957.5 1054.5v5M1125.5 1054.5v5M1294.5 1054.5v5M116.5 600.5h-5M116.5 686.5h-5M116.5 773.5h-5M116.5 860.5h-5M116.5 946.5h-5M116.5 1033.5h-5" fill="none" stroke="#000" stroke-width="1.1"/>
<rect x="116.5" y="578.5" width="1346.0" height="476.0" fill="none" stroke="#000" stroke-width="1.1"/>
<text class="tk ty" x="105.4" y="608.4" text-anchor="end">0.5</text>
<text class="tk ty" x="105.4" y="694.4" text-anchor="end">0.4</text>
<text class="tk ty" x="105.4" y="781.4" text-anchor="end">0.3</text>
<text class="tk ty" x="105.4" y="868.4" text-anchor="end">0.2</text>
<text class="tk ty" x="105.4" y="954.4" text-anchor="end">0.1</text>
<text class="tk ty" x="105.4" y="1041.4" text-anchor="end">0.0</text>
<rect x="1047.8" y="588.2" width="405.4" height="79.5" rx="3.3" ry="3.3" fill="#fff" fill-opacity="0.8" stroke="#ccc" stroke-opacity="0.8" stroke-width="1.4"/>
<circle cx="1073.3" cy="602.5" r="2.8" fill="#1f77b4"/>
<path d="M1053 641H1092" stroke="#ff7f0e" stroke-width="2.1" fill="none"/>
<text class="lg" x="1106" y="608.5">Raw Data</text>
<text class="lg" x="1106" y="635">Butterworth Filtered Data</text>
<text class="lg" x="1106" y="656">(N=6, Tc=3.3333 min, Type: low)</text>
<text class="tt" x="115.5" y="30">(a)</text>
<text class="tt" x="784" y="30" text-anchor="middle">2.5 MHz N0000003</text>
<text class="tt" x="115.5" y="570">(b)</text>
<text class="al" transform="translate(62 277) rotate(-90)" text-anchor="middle">Doppler Shift [Hz]</text>
<text class="al" transform="translate(57 817) rotate(-90)" text-anchor="middle">Peak Voltage [V]</text>
<text class="al" x="789" y="1158" text-anchor="middle">UTC</text>
<text class="tk" transform="translate(113.1 1078) rotate(-30)" text-anchor="end">11-10 00</text>
<text class="tk" transform="translate(281.1 1078) rotate(-30)" text-anchor="end">11-10 03</text>
<text class="tk" transform="translate(449.1 1078) rotate(-30)" text-anchor="end">11-10 06</text>
<text class="tk" transform="translate(618.1 1078) rotate(-30)" text-anchor="end">11-10 09</text>
<text class="tk" transform="translate(786.1 1078) rotate(-30)" text-anchor="end">11-10 12</text>
<text class="tk" transform="translate(954.1 1078) rotate(-30)" text-anchor="end">11-10 15</text>
<text class="tk" transform="translate(1122.1 1078) rotate(-30)" text-anchor="end">11-10 18</text>
<text class="tk" transform="translate(1291.1 1078) rotate(-30)" text-anchor="end">11-10 21</text>
</svg>
</body>
</html>
